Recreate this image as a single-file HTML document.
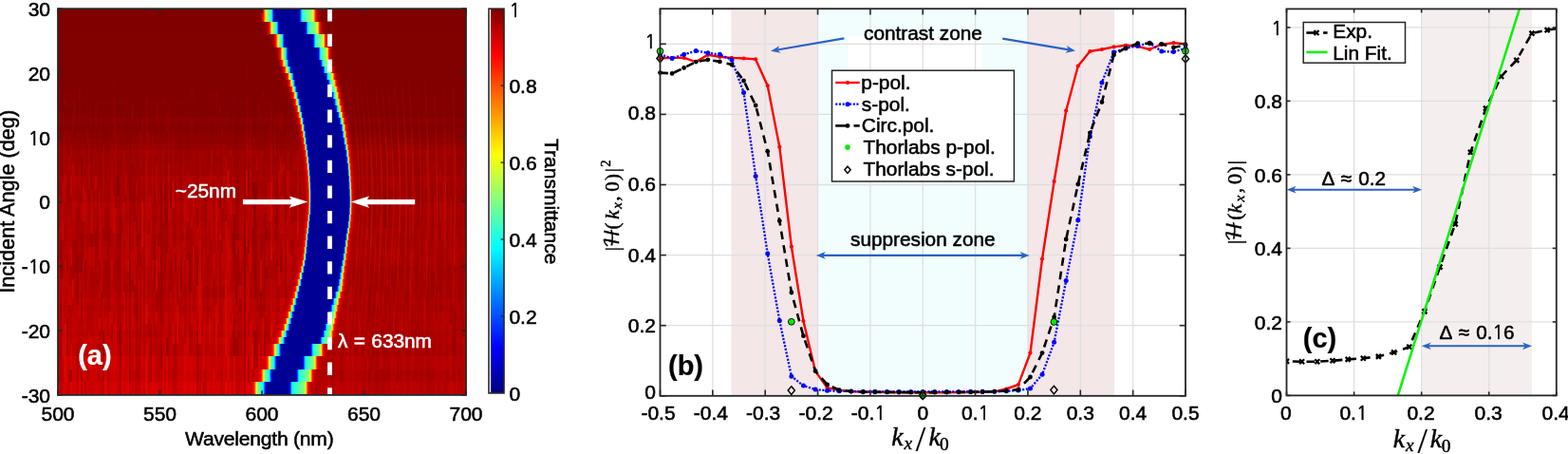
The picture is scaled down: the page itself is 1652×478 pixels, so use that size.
<!DOCTYPE html>
<html><head><meta charset="utf-8"><title>Figure</title><style>html,body{margin:0;padding:0;background:#fff;width:1652px;height:478px;overflow:hidden}svg{display:block}</style></head><body>
<svg width="1652" height="478" viewBox="0 0 1652 478" font-family='"Liberation Sans", Arial, Helvetica, sans-serif'><defs><linearGradient id="fmg" x1="0" x2="0" y1="0" y2="1"><stop offset="0.12" stop-color="#fff" stop-opacity="0"/><stop offset="0.3" stop-color="#fff" stop-opacity="0.35"/><stop offset="0.38" stop-color="#fff" stop-opacity="0.85"/><stop offset="0.6" stop-color="#fff" stop-opacity="0.7"/><stop offset="0.85" stop-color="#fff" stop-opacity="0.25"/><stop offset="1" stop-color="#fff" stop-opacity="0.1"/></linearGradient><mask id="fringeMask" maskUnits="userSpaceOnUse" x="61" y="9.2" width="430" height="406.7"><rect x="61" y="9.2" width="430" height="406.7" fill="url(#fmg)"/></mask><linearGradient id="r0" x1="0" x2="1" y1="0" y2="0"><stop offset="0%" stop-color="#800000"/><stop offset="4.3%" stop-color="#880000"/><stop offset="6.09%" stop-color="#980000"/><stop offset="7.89%" stop-color="#b90000"/><stop offset="9.68%" stop-color="#ec0000"/><stop offset="10.04%" stop-color="#f90000"/><stop offset="10.39%" stop-color="#ff0900"/><stop offset="11.11%" stop-color="#ff2d00"/><stop offset="11.83%" stop-color="#ff6100"/><stop offset="12.54%" stop-color="#ffa300"/><stop offset="12.9%" stop-color="#ffc800"/><stop offset="13.26%" stop-color="#ffc500"/><stop offset="13.98%" stop-color="#fdff02"/><stop offset="14.7%" stop-color="#d0ff2f"/><stop offset="15.41%" stop-color="#b0ff4f"/><stop offset="16.49%" stop-color="#92ff6d"/><stop offset="19.35%" stop-color="#64ff9b"/><stop offset="21.15%" stop-color="#45ffba"/><stop offset="22.22%" stop-color="#25ffda"/><stop offset="22.94%" stop-color="#02fffd"/><stop offset="23.3%" stop-color="#00eaff"/><stop offset="24.01%" stop-color="#00adff"/><stop offset="24.73%" stop-color="#0063ff"/><stop offset="25.09%" stop-color="#005eff"/><stop offset="25.81%" stop-color="#0012ff"/><stop offset="26.16%" stop-color="#0000f3"/><stop offset="26.52%" stop-color="#0000da"/><stop offset="27.24%" stop-color="#0000b9"/><stop offset="27.96%" stop-color="#0000a7"/><stop offset="29.39%" stop-color="#000098"/><stop offset="35.48%" stop-color="#000094"/><stop offset="62.01%" stop-color="#000097"/><stop offset="63.44%" stop-color="#0000a0"/><stop offset="64.16%" stop-color="#0000ad"/><stop offset="64.87%" stop-color="#0000c4"/><stop offset="65.23%" stop-color="#0000d6"/><stop offset="65.59%" stop-color="#0000ed"/><stop offset="65.95%" stop-color="#000bff"/><stop offset="66.67%" stop-color="#0056ff"/><stop offset="67.03%" stop-color="#005cff"/><stop offset="67.74%" stop-color="#00a4ff"/><stop offset="68.46%" stop-color="#00dfff"/><stop offset="68.82%" stop-color="#00f5ff"/><stop offset="69.18%" stop-color="#09fff6"/><stop offset="69.89%" stop-color="#22ffdd"/><stop offset="70.97%" stop-color="#38ffc7"/><stop offset="73.84%" stop-color="#54ffab"/><stop offset="82.44%" stop-color="#95ff6a"/><stop offset="83.87%" stop-color="#a9ff56"/><stop offset="84.95%" stop-color="#c8ff37"/><stop offset="85.66%" stop-color="#eaff15"/><stop offset="86.02%" stop-color="#fffd00"/><stop offset="86.74%" stop-color="#ffc400"/><stop offset="87.1%" stop-color="#ffc800"/><stop offset="87.81%" stop-color="#ff8000"/><stop offset="88.53%" stop-color="#ff4500"/><stop offset="89.25%" stop-color="#ff1900"/><stop offset="89.61%" stop-color="#ff0900"/><stop offset="89.96%" stop-color="#f90000"/><stop offset="91.4%" stop-color="#cb0000"/><stop offset="93.19%" stop-color="#a30000"/><stop offset="94.98%" stop-color="#8d0000"/><stop offset="97.85%" stop-color="#820000"/><stop offset="100%" stop-color="#800000"/></linearGradient><linearGradient id="r1" x1="0" x2="1" y1="0" y2="0"><stop offset="0%" stop-color="#810000"/><stop offset="4.43%" stop-color="#880000"/><stop offset="6.27%" stop-color="#970000"/><stop offset="8.12%" stop-color="#b70000"/><stop offset="9.96%" stop-color="#ea0000"/><stop offset="10.33%" stop-color="#f60000"/><stop offset="10.7%" stop-color="#ff0600"/><stop offset="11.44%" stop-color="#ff2a00"/><stop offset="12.18%" stop-color="#ff5e00"/><stop offset="12.91%" stop-color="#ffa200"/><stop offset="13.28%" stop-color="#ffc800"/><stop offset="13.65%" stop-color="#ffc600"/><stop offset="14.02%" stop-color="#ffe600"/><stop offset="14.39%" stop-color="#faff05"/><stop offset="15.13%" stop-color="#cbff34"/><stop offset="15.87%" stop-color="#aaff55"/><stop offset="16.97%" stop-color="#8aff75"/><stop offset="20.29%" stop-color="#49ffb6"/><stop offset="21.4%" stop-color="#26ffd9"/><stop offset="22.14%" stop-color="#00feff"/><stop offset="22.88%" stop-color="#00c6ff"/><stop offset="23.61%" stop-color="#007dff"/><stop offset="23.98%" stop-color="#0078ff"/><stop offset="24.72%" stop-color="#0026ff"/><stop offset="25.09%" stop-color="#0004ff"/><stop offset="25.83%" stop-color="#0000d0"/><stop offset="26.56%" stop-color="#0000b3"/><stop offset="27.67%" stop-color="#00009f"/><stop offset="29.89%" stop-color="#000095"/><stop offset="63.46%" stop-color="#000096"/><stop offset="65.31%" stop-color="#0000a1"/><stop offset="66.04%" stop-color="#0000ae"/><stop offset="66.78%" stop-color="#0000c8"/><stop offset="67.15%" stop-color="#0000dc"/><stop offset="67.52%" stop-color="#0000f6"/><stop offset="67.89%" stop-color="#0016ff"/><stop offset="68.63%" stop-color="#0065ff"/><stop offset="68.99%" stop-color="#006bff"/><stop offset="69.73%" stop-color="#00b4ff"/><stop offset="70.47%" stop-color="#00ecff"/><stop offset="70.84%" stop-color="#02fffd"/><stop offset="71.58%" stop-color="#20ffdf"/><stop offset="72.68%" stop-color="#39ffc6"/><stop offset="75.27%" stop-color="#56ffa9"/><stop offset="82.28%" stop-color="#93ff6c"/><stop offset="83.75%" stop-color="#adff52"/><stop offset="84.49%" stop-color="#c3ff3c"/><stop offset="85.23%" stop-color="#e6ff19"/><stop offset="85.6%" stop-color="#feff01"/><stop offset="86.34%" stop-color="#ffc600"/><stop offset="86.7%" stop-color="#ffa500"/><stop offset="87.07%" stop-color="#ffa400"/><stop offset="87.81%" stop-color="#ff5f00"/><stop offset="88.55%" stop-color="#ff2b00"/><stop offset="89.29%" stop-color="#ff0600"/><stop offset="89.66%" stop-color="#f70000"/><stop offset="91.13%" stop-color="#c90000"/><stop offset="92.98%" stop-color="#a20000"/><stop offset="94.82%" stop-color="#8d0000"/><stop offset="98.14%" stop-color="#820000"/><stop offset="99.99%" stop-color="#810000"/></linearGradient><linearGradient id="r2" x1="0" x2="1" y1="0" y2="0"><stop offset="0%" stop-color="#810000"/><stop offset="4.46%" stop-color="#880000"/><stop offset="6.7%" stop-color="#9b0000"/><stop offset="8.56%" stop-color="#be0000"/><stop offset="10.05%" stop-color="#e70000"/><stop offset="10.79%" stop-color="#ff0300"/><stop offset="11.53%" stop-color="#ff2700"/><stop offset="12.28%" stop-color="#ff5b00"/><stop offset="13.02%" stop-color="#ffa100"/><stop offset="13.39%" stop-color="#ffc800"/><stop offset="13.77%" stop-color="#ffc700"/><stop offset="14.14%" stop-color="#ffe900"/><stop offset="14.51%" stop-color="#f7ff08"/><stop offset="15.25%" stop-color="#c5ff3a"/><stop offset="16%" stop-color="#a3ff5c"/><stop offset="17.11%" stop-color="#80ff7f"/><stop offset="19.35%" stop-color="#48ffb7"/><stop offset="20.09%" stop-color="#2dffd2"/><stop offset="20.83%" stop-color="#05fffa"/><stop offset="21.21%" stop-color="#00e9ff"/><stop offset="21.95%" stop-color="#00a6ff"/><stop offset="22.32%" stop-color="#007eff"/><stop offset="22.7%" stop-color="#0078ff"/><stop offset="23.44%" stop-color="#0024ff"/><stop offset="23.81%" stop-color="#0001ff"/><stop offset="24.56%" stop-color="#0000ce"/><stop offset="25.3%" stop-color="#0000b1"/><stop offset="26.42%" stop-color="#00009e"/><stop offset="28.65%" stop-color="#000095"/><stop offset="65.85%" stop-color="#000096"/><stop offset="67.34%" stop-color="#00009d"/><stop offset="68.46%" stop-color="#0000b0"/><stop offset="69.2%" stop-color="#0000cc"/><stop offset="69.57%" stop-color="#0000e1"/><stop offset="69.95%" stop-color="#0000fd"/><stop offset="70.32%" stop-color="#0020ff"/><stop offset="71.06%" stop-color="#0073ff"/><stop offset="71.43%" stop-color="#0079ff"/><stop offset="72.18%" stop-color="#00c1ff"/><stop offset="72.55%" stop-color="#00dfff"/><stop offset="72.92%" stop-color="#00f8ff"/><stop offset="73.29%" stop-color="#0dfff2"/><stop offset="74.04%" stop-color="#28ffd7"/><stop offset="75.15%" stop-color="#41ffbe"/><stop offset="78.5%" stop-color="#67ff98"/><stop offset="82.22%" stop-color="#8eff71"/><stop offset="83.71%" stop-color="#aaff55"/><stop offset="84.46%" stop-color="#c3ff3c"/><stop offset="85.2%" stop-color="#e9ff16"/><stop offset="85.57%" stop-color="#fffc00"/><stop offset="86.32%" stop-color="#ffbe00"/><stop offset="86.69%" stop-color="#ffbf00"/><stop offset="87.43%" stop-color="#ff7500"/><stop offset="88.18%" stop-color="#ff3900"/><stop offset="88.92%" stop-color="#ff1000"/><stop offset="89.29%" stop-color="#ff0000"/><stop offset="90.78%" stop-color="#cf0000"/><stop offset="92.64%" stop-color="#a50000"/><stop offset="94.5%" stop-color="#8f0000"/><stop offset="97.48%" stop-color="#830000"/><stop offset="99.71%" stop-color="#810000"/></linearGradient><linearGradient id="r3" x1="0" x2="1" y1="0" y2="0"><stop offset="0%" stop-color="#810000"/><stop offset="4.51%" stop-color="#880000"/><stop offset="6.77%" stop-color="#9a0000"/><stop offset="8.65%" stop-color="#bc0000"/><stop offset="10.16%" stop-color="#e50000"/><stop offset="10.91%" stop-color="#ff0000"/><stop offset="11.66%" stop-color="#ff2400"/><stop offset="12.41%" stop-color="#ff5900"/><stop offset="13.17%" stop-color="#ffa000"/><stop offset="13.54%" stop-color="#ffc700"/><stop offset="13.92%" stop-color="#ffc800"/><stop offset="14.3%" stop-color="#ffeb00"/><stop offset="14.67%" stop-color="#f2ff0d"/><stop offset="15.42%" stop-color="#beff41"/><stop offset="16.18%" stop-color="#99ff66"/><stop offset="18.81%" stop-color="#3cffc3"/><stop offset="19.56%" stop-color="#15ffea"/><stop offset="19.94%" stop-color="#00faff"/><stop offset="20.31%" stop-color="#00dbff"/><stop offset="21.07%" stop-color="#008fff"/><stop offset="21.44%" stop-color="#0065ff"/><stop offset="21.82%" stop-color="#005cff"/><stop offset="22.2%" stop-color="#0031ff"/><stop offset="22.57%" stop-color="#000bff"/><stop offset="22.95%" stop-color="#0000eb"/><stop offset="23.32%" stop-color="#0000d3"/><stop offset="24.08%" stop-color="#0000b3"/><stop offset="24.83%" stop-color="#0000a3"/><stop offset="26.33%" stop-color="#000097"/><stop offset="43.26%" stop-color="#000094"/><stop offset="68.09%" stop-color="#000096"/><stop offset="69.6%" stop-color="#00009f"/><stop offset="70.35%" stop-color="#0000ab"/><stop offset="71.1%" stop-color="#0000c3"/><stop offset="71.48%" stop-color="#0000d7"/><stop offset="71.85%" stop-color="#0000f1"/><stop offset="72.23%" stop-color="#0012ff"/><stop offset="72.98%" stop-color="#0064ff"/><stop offset="73.36%" stop-color="#006cff"/><stop offset="74.11%" stop-color="#00b9ff"/><stop offset="74.49%" stop-color="#00daff"/><stop offset="74.86%" stop-color="#00f5ff"/><stop offset="75.24%" stop-color="#0bfff4"/><stop offset="75.99%" stop-color="#2affd5"/><stop offset="77.12%" stop-color="#46ffb9"/><stop offset="80.51%" stop-color="#73ff8c"/><stop offset="82.76%" stop-color="#93ff6c"/><stop offset="83.89%" stop-color="#afff50"/><stop offset="84.64%" stop-color="#ceff31"/><stop offset="85.4%" stop-color="#feff01"/><stop offset="86.15%" stop-color="#ffc000"/><stop offset="86.52%" stop-color="#ffc000"/><stop offset="87.28%" stop-color="#ff7400"/><stop offset="88.03%" stop-color="#ff3700"/><stop offset="88.78%" stop-color="#ff0d00"/><stop offset="89.16%" stop-color="#fd0000"/><stop offset="90.66%" stop-color="#cd0000"/><stop offset="92.54%" stop-color="#a40000"/><stop offset="94.42%" stop-color="#8e0000"/><stop offset="97.43%" stop-color="#830000"/><stop offset="99.69%" stop-color="#820000"/></linearGradient><linearGradient id="r4" x1="0" x2="1" y1="0" y2="0"><stop offset="0%" stop-color="#820000"/><stop offset="4.55%" stop-color="#880000"/><stop offset="6.82%" stop-color="#9a0000"/><stop offset="8.71%" stop-color="#bb0000"/><stop offset="10.23%" stop-color="#e30000"/><stop offset="10.98%" stop-color="#fd0000"/><stop offset="11.36%" stop-color="#ff0e00"/><stop offset="12.12%" stop-color="#ff3a00"/><stop offset="12.5%" stop-color="#ff5700"/><stop offset="13.26%" stop-color="#ff9f00"/><stop offset="13.64%" stop-color="#ffc700"/><stop offset="14.01%" stop-color="#ffc900"/><stop offset="14.39%" stop-color="#ffee00"/><stop offset="14.77%" stop-color="#eeff11"/><stop offset="15.53%" stop-color="#b8ff47"/><stop offset="16.29%" stop-color="#90ff6f"/><stop offset="18.18%" stop-color="#3dffc2"/><stop offset="18.94%" stop-color="#10ffef"/><stop offset="19.32%" stop-color="#00f1ff"/><stop offset="20.07%" stop-color="#00a7ff"/><stop offset="20.45%" stop-color="#007cff"/><stop offset="20.83%" stop-color="#0073ff"/><stop offset="21.59%" stop-color="#001cff"/><stop offset="21.97%" stop-color="#0000f8"/><stop offset="22.35%" stop-color="#0000dd"/><stop offset="22.73%" stop-color="#0000c7"/><stop offset="23.48%" stop-color="#0000ad"/><stop offset="24.62%" stop-color="#00009c"/><stop offset="27.27%" stop-color="#000094"/><stop offset="69.69%" stop-color="#000096"/><stop offset="71.21%" stop-color="#0000a0"/><stop offset="71.96%" stop-color="#0000ae"/><stop offset="72.72%" stop-color="#0000ca"/><stop offset="73.1%" stop-color="#0000e1"/><stop offset="73.48%" stop-color="#0000fe"/><stop offset="73.86%" stop-color="#0022ff"/><stop offset="74.61%" stop-color="#007aff"/><stop offset="74.99%" stop-color="#0081ff"/><stop offset="75.75%" stop-color="#00cdff"/><stop offset="76.13%" stop-color="#00ebff"/><stop offset="76.51%" stop-color="#05fffa"/><stop offset="77.27%" stop-color="#29ffd6"/><stop offset="78.4%" stop-color="#48ffb7"/><stop offset="82.57%" stop-color="#8bff74"/><stop offset="83.7%" stop-color="#a8ff57"/><stop offset="84.46%" stop-color="#c7ff38"/><stop offset="85.22%" stop-color="#f6ff09"/><stop offset="85.6%" stop-color="#ffea00"/><stop offset="86.36%" stop-color="#ffa400"/><stop offset="86.73%" stop-color="#ffa000"/><stop offset="87.49%" stop-color="#ff5700"/><stop offset="88.25%" stop-color="#ff2200"/><stop offset="89.01%" stop-color="#fd0000"/><stop offset="90.52%" stop-color="#ce0000"/><stop offset="92.42%" stop-color="#a50000"/><stop offset="94.31%" stop-color="#8f0000"/><stop offset="97.34%" stop-color="#840000"/><stop offset="99.99%" stop-color="#820000"/></linearGradient><linearGradient id="r5" x1="0" x2="1" y1="0" y2="0"><stop offset="0%" stop-color="#820000"/><stop offset="4.6%" stop-color="#880000"/><stop offset="6.9%" stop-color="#990000"/><stop offset="8.82%" stop-color="#ba0000"/><stop offset="10.36%" stop-color="#e20000"/><stop offset="11.12%" stop-color="#fc0000"/><stop offset="11.51%" stop-color="#ff0d00"/><stop offset="12.27%" stop-color="#ff3800"/><stop offset="12.66%" stop-color="#ff5500"/><stop offset="13.42%" stop-color="#ff9e00"/><stop offset="13.81%" stop-color="#ffc700"/><stop offset="14.19%" stop-color="#ffca00"/><stop offset="14.58%" stop-color="#fff000"/><stop offset="14.96%" stop-color="#ebff14"/><stop offset="15.73%" stop-color="#b2ff4d"/><stop offset="16.88%" stop-color="#74ff8b"/><stop offset="18.03%" stop-color="#3affc5"/><stop offset="18.79%" stop-color="#05fffa"/><stop offset="19.18%" stop-color="#00e2ff"/><stop offset="19.95%" stop-color="#0091ff"/><stop offset="20.33%" stop-color="#0064ff"/><stop offset="20.71%" stop-color="#0059ff"/><stop offset="21.1%" stop-color="#002dff"/><stop offset="21.48%" stop-color="#0007ff"/><stop offset="21.86%" stop-color="#0000e7"/><stop offset="22.25%" stop-color="#0000cf"/><stop offset="22.63%" stop-color="#0000bd"/><stop offset="23.4%" stop-color="#0000a7"/><stop offset="24.55%" stop-color="#00009a"/><stop offset="28.38%" stop-color="#000094"/><stop offset="70.19%" stop-color="#000096"/><stop offset="71.73%" stop-color="#00009e"/><stop offset="72.49%" stop-color="#0000aa"/><stop offset="73.26%" stop-color="#0000c2"/><stop offset="73.64%" stop-color="#0000d6"/><stop offset="74.03%" stop-color="#0000f1"/><stop offset="74.41%" stop-color="#0013ff"/><stop offset="75.18%" stop-color="#0069ff"/><stop offset="75.56%" stop-color="#0072ff"/><stop offset="76.33%" stop-color="#00c2ff"/><stop offset="76.71%" stop-color="#00e3ff"/><stop offset="77.1%" stop-color="#00feff"/><stop offset="77.86%" stop-color="#27ffd8"/><stop offset="79.01%" stop-color="#4affb5"/><stop offset="82.85%" stop-color="#91ff6e"/><stop offset="83.62%" stop-color="#a8ff57"/><stop offset="84.38%" stop-color="#caff35"/><stop offset="85.15%" stop-color="#fdff02"/><stop offset="85.53%" stop-color="#ffe100"/><stop offset="85.92%" stop-color="#ffbd00"/><stop offset="86.3%" stop-color="#ffbb00"/><stop offset="87.07%" stop-color="#ff6d00"/><stop offset="87.45%" stop-color="#ff4c00"/><stop offset="88.22%" stop-color="#ff1a00"/><stop offset="88.6%" stop-color="#ff0800"/><stop offset="88.99%" stop-color="#f70000"/><stop offset="90.52%" stop-color="#ca0000"/><stop offset="92.44%" stop-color="#a20000"/><stop offset="94.36%" stop-color="#8e0000"/><stop offset="97.81%" stop-color="#830000"/><stop offset="99.73%" stop-color="#820000"/></linearGradient><linearGradient id="r6" x1="0" x2="1" y1="0" y2="0"><stop offset="0%" stop-color="#820000"/><stop offset="4.65%" stop-color="#890000"/><stop offset="6.98%" stop-color="#990000"/><stop offset="8.92%" stop-color="#b90000"/><stop offset="10.47%" stop-color="#e10000"/><stop offset="11.24%" stop-color="#fa0000"/><stop offset="11.63%" stop-color="#ff0b00"/><stop offset="12.41%" stop-color="#ff3700"/><stop offset="12.79%" stop-color="#ff5400"/><stop offset="13.57%" stop-color="#ff9e00"/><stop offset="13.96%" stop-color="#ffc800"/><stop offset="14.35%" stop-color="#ffcc00"/><stop offset="14.73%" stop-color="#fff300"/><stop offset="15.12%" stop-color="#e7ff18"/><stop offset="15.9%" stop-color="#abff54"/><stop offset="17.83%" stop-color="#37ffc8"/><stop offset="18.61%" stop-color="#00faff"/><stop offset="19.39%" stop-color="#00abff"/><stop offset="19.77%" stop-color="#007eff"/><stop offset="20.16%" stop-color="#0073ff"/><stop offset="20.94%" stop-color="#001aff"/><stop offset="21.32%" stop-color="#0000f6"/><stop offset="21.71%" stop-color="#0000da"/><stop offset="22.1%" stop-color="#0000c5"/><stop offset="22.88%" stop-color="#0000ab"/><stop offset="24.04%" stop-color="#00009b"/><stop offset="27.14%" stop-color="#000094"/><stop offset="70.95%" stop-color="#000096"/><stop offset="72.5%" stop-color="#00009f"/><stop offset="73.28%" stop-color="#0000ab"/><stop offset="74.05%" stop-color="#0000c6"/><stop offset="74.44%" stop-color="#0000db"/><stop offset="74.83%" stop-color="#0000f7"/><stop offset="75.22%" stop-color="#001cff"/><stop offset="75.99%" stop-color="#0075ff"/><stop offset="76.38%" stop-color="#007eff"/><stop offset="77.15%" stop-color="#00cdff"/><stop offset="77.54%" stop-color="#00eeff"/><stop offset="77.93%" stop-color="#09fff6"/><stop offset="78.71%" stop-color="#2fffd0"/><stop offset="79.87%" stop-color="#52ffad"/><stop offset="82.58%" stop-color="#8aff75"/><stop offset="83.75%" stop-color="#b0ff4f"/><stop offset="84.52%" stop-color="#d9ff26"/><stop offset="84.91%" stop-color="#f5ff0a"/><stop offset="85.3%" stop-color="#ffe900"/><stop offset="85.68%" stop-color="#ffc600"/><stop offset="86.07%" stop-color="#ffc400"/><stop offset="86.85%" stop-color="#ff7300"/><stop offset="87.24%" stop-color="#ff5100"/><stop offset="87.62%" stop-color="#ff3500"/><stop offset="88.4%" stop-color="#ff0a00"/><stop offset="88.79%" stop-color="#f90000"/><stop offset="90.34%" stop-color="#cb0000"/><stop offset="92.28%" stop-color="#a30000"/><stop offset="94.21%" stop-color="#8f0000"/><stop offset="97.7%" stop-color="#840000"/><stop offset="99.64%" stop-color="#820000"/></linearGradient><linearGradient id="r7" x1="0" x2="1" y1="0" y2="0"><stop offset="0%" stop-color="#830000"/><stop offset="5.06%" stop-color="#8b0000"/><stop offset="7.01%" stop-color="#9a0000"/><stop offset="8.95%" stop-color="#b90000"/><stop offset="10.51%" stop-color="#e00000"/><stop offset="11.29%" stop-color="#f90000"/><stop offset="11.68%" stop-color="#ff0a00"/><stop offset="12.46%" stop-color="#ff3500"/><stop offset="12.85%" stop-color="#ff5300"/><stop offset="13.63%" stop-color="#ff9d00"/><stop offset="14.02%" stop-color="#ffc800"/><stop offset="14.41%" stop-color="#ffce00"/><stop offset="14.79%" stop-color="#fff600"/><stop offset="15.18%" stop-color="#e2ff1d"/><stop offset="15.96%" stop-color="#a2ff5d"/><stop offset="17.52%" stop-color="#36ffc9"/><stop offset="17.91%" stop-color="#17ffe8"/><stop offset="18.3%" stop-color="#00f2ff"/><stop offset="19.08%" stop-color="#009cff"/><stop offset="19.47%" stop-color="#006dff"/><stop offset="19.86%" stop-color="#0061ff"/><stop offset="20.25%" stop-color="#0033ff"/><stop offset="20.63%" stop-color="#000bff"/><stop offset="21.02%" stop-color="#0000e9"/><stop offset="21.41%" stop-color="#0000d0"/><stop offset="21.8%" stop-color="#0000bd"/><stop offset="22.58%" stop-color="#0000a7"/><stop offset="23.75%" stop-color="#00009a"/><stop offset="27.64%" stop-color="#000094"/><stop offset="72.03%" stop-color="#000096"/><stop offset="73.58%" stop-color="#0000a1"/><stop offset="74.36%" stop-color="#0000b2"/><stop offset="74.75%" stop-color="#0000bf"/><stop offset="75.14%" stop-color="#0000d3"/><stop offset="75.53%" stop-color="#0000ed"/><stop offset="75.92%" stop-color="#000fff"/><stop offset="76.31%" stop-color="#0038ff"/><stop offset="76.7%" stop-color="#0066ff"/><stop offset="77.09%" stop-color="#0071ff"/><stop offset="77.87%" stop-color="#00c4ff"/><stop offset="78.26%" stop-color="#00e7ff"/><stop offset="78.64%" stop-color="#05fffa"/><stop offset="79.42%" stop-color="#2fffd0"/><stop offset="80.59%" stop-color="#55ffaa"/><stop offset="82.93%" stop-color="#90ff6f"/><stop offset="83.71%" stop-color="#adff52"/><stop offset="84.48%" stop-color="#d8ff27"/><stop offset="84.87%" stop-color="#f4ff0b"/><stop offset="85.26%" stop-color="#ffe800"/><stop offset="85.65%" stop-color="#ffc400"/><stop offset="86.04%" stop-color="#ffc000"/><stop offset="86.82%" stop-color="#ff6f00"/><stop offset="87.21%" stop-color="#ff4d00"/><stop offset="87.6%" stop-color="#ff3100"/><stop offset="88.38%" stop-color="#ff0700"/><stop offset="88.77%" stop-color="#f70000"/><stop offset="90.32%" stop-color="#c90000"/><stop offset="92.27%" stop-color="#a30000"/><stop offset="94.22%" stop-color="#8f0000"/><stop offset="97.72%" stop-color="#840000"/><stop offset="99.67%" stop-color="#830000"/></linearGradient><linearGradient id="r8" x1="0" x2="1" y1="0" y2="0"><stop offset="0%" stop-color="#840000"/><stop offset="5.08%" stop-color="#8c0000"/><stop offset="7.42%" stop-color="#9f0000"/><stop offset="9.38%" stop-color="#c10000"/><stop offset="10.94%" stop-color="#eb0000"/><stop offset="11.33%" stop-color="#f80000"/><stop offset="11.72%" stop-color="#ff0900"/><stop offset="12.51%" stop-color="#ff3400"/><stop offset="12.9%" stop-color="#ff5100"/><stop offset="13.29%" stop-color="#ff7500"/><stop offset="14.07%" stop-color="#ffc900"/><stop offset="14.46%" stop-color="#ffd000"/><stop offset="14.85%" stop-color="#fffa00"/><stop offset="15.63%" stop-color="#b8ff47"/><stop offset="17.19%" stop-color="#39ffc6"/><stop offset="17.59%" stop-color="#16ffe9"/><stop offset="17.98%" stop-color="#00edff"/><stop offset="18.76%" stop-color="#0091ff"/><stop offset="19.15%" stop-color="#0061ff"/><stop offset="19.54%" stop-color="#0053ff"/><stop offset="19.93%" stop-color="#0026ff"/><stop offset="20.32%" stop-color="#0000ff"/><stop offset="20.71%" stop-color="#0000e0"/><stop offset="21.1%" stop-color="#0000c9"/><stop offset="21.88%" stop-color="#0000ac"/><stop offset="23.06%" stop-color="#00009b"/><stop offset="25.79%" stop-color="#000094"/><stop offset="72.69%" stop-color="#000096"/><stop offset="74.25%" stop-color="#00009f"/><stop offset="75.03%" stop-color="#0000ae"/><stop offset="75.42%" stop-color="#0000ba"/><stop offset="75.81%" stop-color="#0000cb"/><stop offset="76.59%" stop-color="#0004ff"/><stop offset="76.98%" stop-color="#002bff"/><stop offset="77.38%" stop-color="#0059ff"/><stop offset="77.77%" stop-color="#0065ff"/><stop offset="78.55%" stop-color="#00bcff"/><stop offset="78.94%" stop-color="#00e1ff"/><stop offset="79.33%" stop-color="#01fffe"/><stop offset="80.11%" stop-color="#2fffd0"/><stop offset="81.28%" stop-color="#5affa5"/><stop offset="83.24%" stop-color="#97ff68"/><stop offset="84.02%" stop-color="#bbff44"/><stop offset="84.8%" stop-color="#f0ff0f"/><stop offset="85.19%" stop-color="#ffec00"/><stop offset="85.58%" stop-color="#ffc600"/><stop offset="85.97%" stop-color="#ffc200"/><stop offset="86.75%" stop-color="#ff7000"/><stop offset="87.14%" stop-color="#ff4d00"/><stop offset="87.54%" stop-color="#ff3100"/><stop offset="88.32%" stop-color="#ff0700"/><stop offset="88.71%" stop-color="#f60000"/><stop offset="90.27%" stop-color="#c90000"/><stop offset="92.23%" stop-color="#a30000"/><stop offset="94.18%" stop-color="#8f0000"/><stop offset="97.7%" stop-color="#850000"/><stop offset="99.65%" stop-color="#840000"/></linearGradient><linearGradient id="r9" x1="0" x2="1" y1="0" y2="0"><stop offset="0%" stop-color="#850000"/><stop offset="5.12%" stop-color="#8c0000"/><stop offset="7.49%" stop-color="#9f0000"/><stop offset="9.46%" stop-color="#c10000"/><stop offset="11.03%" stop-color="#ea0000"/><stop offset="11.43%" stop-color="#f70000"/><stop offset="11.82%" stop-color="#ff0800"/><stop offset="12.61%" stop-color="#ff3300"/><stop offset="13%" stop-color="#ff5000"/><stop offset="13.4%" stop-color="#ff7400"/><stop offset="14.19%" stop-color="#ffca00"/><stop offset="14.58%" stop-color="#ffd300"/><stop offset="14.97%" stop-color="#ffff00"/><stop offset="15.76%" stop-color="#adff52"/><stop offset="17.34%" stop-color="#18ffe7"/><stop offset="17.73%" stop-color="#00ecff"/><stop offset="18.52%" stop-color="#008aff"/><stop offset="18.91%" stop-color="#007bff"/><stop offset="19.7%" stop-color="#001dff"/><stop offset="20.1%" stop-color="#0000f7"/><stop offset="20.49%" stop-color="#0000d9"/><stop offset="20.88%" stop-color="#0000c4"/><stop offset="21.67%" stop-color="#0000aa"/><stop offset="22.85%" stop-color="#00009a"/><stop offset="26.4%" stop-color="#000094"/><stop offset="73.29%" stop-color="#000096"/><stop offset="74.87%" stop-color="#00009f"/><stop offset="75.66%" stop-color="#0000ad"/><stop offset="76.05%" stop-color="#0000b9"/><stop offset="76.45%" stop-color="#0000cb"/><stop offset="77.23%" stop-color="#0004ff"/><stop offset="77.63%" stop-color="#002cff"/><stop offset="78.02%" stop-color="#005aff"/><stop offset="78.42%" stop-color="#0067ff"/><stop offset="79.2%" stop-color="#00c0ff"/><stop offset="79.6%" stop-color="#00e6ff"/><stop offset="79.99%" stop-color="#07fff8"/><stop offset="80.78%" stop-color="#36ffc9"/><stop offset="81.96%" stop-color="#66ff99"/><stop offset="83.14%" stop-color="#91ff6e"/><stop offset="83.93%" stop-color="#b9ff46"/><stop offset="84.72%" stop-color="#f1ff0e"/><stop offset="85.11%" stop-color="#ffe900"/><stop offset="85.51%" stop-color="#ffc200"/><stop offset="85.9%" stop-color="#ffbd00"/><stop offset="86.69%" stop-color="#ff6a00"/><stop offset="87.08%" stop-color="#ff4800"/><stop offset="87.48%" stop-color="#ff2c00"/><stop offset="88.27%" stop-color="#ff0300"/><stop offset="89.84%" stop-color="#d00000"/><stop offset="91.81%" stop-color="#a80000"/><stop offset="93.78%" stop-color="#920000"/><stop offset="96.94%" stop-color="#860000"/><stop offset="99.69%" stop-color="#840000"/></linearGradient><linearGradient id="r10" x1="0" x2="1" y1="0" y2="0"><stop offset="0%" stop-color="#860000"/><stop offset="5.16%" stop-color="#8d0000"/><stop offset="7.55%" stop-color="#9f0000"/><stop offset="9.53%" stop-color="#c00000"/><stop offset="11.12%" stop-color="#e90000"/><stop offset="11.52%" stop-color="#f60000"/><stop offset="11.92%" stop-color="#ff0700"/><stop offset="12.71%" stop-color="#ff3200"/><stop offset="13.11%" stop-color="#ff4f00"/><stop offset="13.5%" stop-color="#ff7400"/><stop offset="14.3%" stop-color="#ffcb00"/><stop offset="14.7%" stop-color="#ffd700"/><stop offset="15.09%" stop-color="#f8ff07"/><stop offset="16.28%" stop-color="#75ff8a"/><stop offset="17.08%" stop-color="#1fffe0"/><stop offset="17.48%" stop-color="#00efff"/><stop offset="18.27%" stop-color="#0087ff"/><stop offset="18.67%" stop-color="#0076ff"/><stop offset="19.06%" stop-color="#0044ff"/><stop offset="19.46%" stop-color="#0017ff"/><stop offset="19.86%" stop-color="#0000f2"/><stop offset="20.26%" stop-color="#0000d5"/><stop offset="20.65%" stop-color="#0000c1"/><stop offset="21.45%" stop-color="#0000a8"/><stop offset="22.64%" stop-color="#000099"/><stop offset="26.61%" stop-color="#000094"/><stop offset="73.88%" stop-color="#000096"/><stop offset="75.46%" stop-color="#00009f"/><stop offset="76.26%" stop-color="#0000ad"/><stop offset="76.66%" stop-color="#0000b9"/><stop offset="77.05%" stop-color="#0000cb"/><stop offset="77.45%" stop-color="#0000e4"/><stop offset="77.85%" stop-color="#0005ff"/><stop offset="78.25%" stop-color="#002eff"/><stop offset="78.64%" stop-color="#005dff"/><stop offset="79.04%" stop-color="#006bff"/><stop offset="79.83%" stop-color="#00c6ff"/><stop offset="80.23%" stop-color="#00edff"/><stop offset="80.63%" stop-color="#0efff1"/><stop offset="81.42%" stop-color="#40ffbf"/><stop offset="83.41%" stop-color="#9cff63"/><stop offset="84.2%" stop-color="#ceff31"/><stop offset="84.6%" stop-color="#eeff11"/><stop offset="85%" stop-color="#ffeb00"/><stop offset="85.39%" stop-color="#ffc300"/><stop offset="85.79%" stop-color="#ffbd00"/><stop offset="86.59%" stop-color="#ff6900"/><stop offset="86.98%" stop-color="#ff4600"/><stop offset="87.38%" stop-color="#ff2a00"/><stop offset="88.17%" stop-color="#ff0200"/><stop offset="89.76%" stop-color="#d00000"/><stop offset="91.75%" stop-color="#a80000"/><stop offset="93.74%" stop-color="#920000"/><stop offset="96.91%" stop-color="#870000"/><stop offset="99.69%" stop-color="#850000"/></linearGradient><linearGradient id="r11" x1="0" x2="1" y1="0" y2="0"><stop offset="0%" stop-color="#830000"/><stop offset="5.19%" stop-color="#8a0000"/><stop offset="7.59%" stop-color="#9c0000"/><stop offset="9.58%" stop-color="#be0000"/><stop offset="11.18%" stop-color="#e70000"/><stop offset="11.98%" stop-color="#ff0500"/><stop offset="12.77%" stop-color="#ff3000"/><stop offset="13.17%" stop-color="#ff4e00"/><stop offset="13.57%" stop-color="#ff7300"/><stop offset="14.37%" stop-color="#ffcd00"/><stop offset="14.77%" stop-color="#fffc00"/><stop offset="15.57%" stop-color="#abff54"/><stop offset="16.77%" stop-color="#3bffc4"/><stop offset="17.17%" stop-color="#11ffee"/><stop offset="17.57%" stop-color="#00e1ff"/><stop offset="18.76%" stop-color="#0043ff"/><stop offset="19.16%" stop-color="#0016ff"/><stop offset="19.56%" stop-color="#0000f0"/><stop offset="19.96%" stop-color="#0000d4"/><stop offset="20.36%" stop-color="#0000bf"/><stop offset="21.16%" stop-color="#0000a7"/><stop offset="22.36%" stop-color="#000099"/><stop offset="26.75%" stop-color="#000094"/><stop offset="74.65%" stop-color="#000096"/><stop offset="76.25%" stop-color="#0000a1"/><stop offset="77.05%" stop-color="#0000b1"/><stop offset="77.45%" stop-color="#0000c0"/><stop offset="77.85%" stop-color="#0000d5"/><stop offset="78.25%" stop-color="#0000f2"/><stop offset="78.65%" stop-color="#0018ff"/><stop offset="79.05%" stop-color="#0045ff"/><stop offset="79.44%" stop-color="#0077ff"/><stop offset="79.84%" stop-color="#0085ff"/><stop offset="80.64%" stop-color="#00e0ff"/><stop offset="81.04%" stop-color="#06fff9"/><stop offset="81.84%" stop-color="#40ffbf"/><stop offset="83.44%" stop-color="#9aff65"/><stop offset="84.23%" stop-color="#d2ff2d"/><stop offset="84.63%" stop-color="#f5ff0a"/><stop offset="85.03%" stop-color="#ffe100"/><stop offset="85.43%" stop-color="#ffb700"/><stop offset="85.83%" stop-color="#ffaf00"/><stop offset="86.63%" stop-color="#ff5c00"/><stop offset="87.03%" stop-color="#ff3b00"/><stop offset="87.43%" stop-color="#ff2100"/><stop offset="87.83%" stop-color="#ff0c00"/><stop offset="88.23%" stop-color="#fa0000"/><stop offset="89.42%" stop-color="#d40000"/><stop offset="91.42%" stop-color="#a90000"/><stop offset="93.42%" stop-color="#910000"/><stop offset="96.61%" stop-color="#840000"/><stop offset="99.8%" stop-color="#820000"/></linearGradient><linearGradient id="r12" x1="0" x2="1" y1="0" y2="0"><stop offset="0%" stop-color="#850000"/><stop offset="5.2%" stop-color="#8c0000"/><stop offset="7.6%" stop-color="#9d0000"/><stop offset="9.6%" stop-color="#be0000"/><stop offset="11.2%" stop-color="#e60000"/><stop offset="12%" stop-color="#ff0400"/><stop offset="12.8%" stop-color="#ff2f00"/><stop offset="13.2%" stop-color="#ff4e00"/><stop offset="13.6%" stop-color="#ff7300"/><stop offset="14.4%" stop-color="#ffd000"/><stop offset="14.8%" stop-color="#fcff03"/><stop offset="15.6%" stop-color="#9fff60"/><stop offset="16.81%" stop-color="#1cffe3"/><stop offset="17.21%" stop-color="#00e9ff"/><stop offset="18.41%" stop-color="#0046ff"/><stop offset="18.81%" stop-color="#0018ff"/><stop offset="19.21%" stop-color="#0000f1"/><stop offset="19.61%" stop-color="#0000d4"/><stop offset="20.01%" stop-color="#0000bf"/><stop offset="20.81%" stop-color="#0000a7"/><stop offset="22.01%" stop-color="#000099"/><stop offset="26.41%" stop-color="#000094"/><stop offset="75.22%" stop-color="#000096"/><stop offset="76.82%" stop-color="#0000a0"/><stop offset="77.62%" stop-color="#0000af"/><stop offset="78.02%" stop-color="#0000bd"/><stop offset="78.42%" stop-color="#0000d2"/><stop offset="78.82%" stop-color="#0000ee"/><stop offset="79.22%" stop-color="#0013ff"/><stop offset="79.62%" stop-color="#0040ff"/><stop offset="80.02%" stop-color="#0073ff"/><stop offset="80.42%" stop-color="#0082ff"/><stop offset="81.22%" stop-color="#00e2ff"/><stop offset="81.62%" stop-color="#0bfff4"/><stop offset="82.42%" stop-color="#4bffb4"/><stop offset="83.63%" stop-color="#9eff61"/><stop offset="84.43%" stop-color="#e0ff1f"/><stop offset="84.83%" stop-color="#fff600"/><stop offset="85.23%" stop-color="#ffcb00"/><stop offset="85.63%" stop-color="#ffc200"/><stop offset="86.43%" stop-color="#ff6b00"/><stop offset="86.83%" stop-color="#ff4700"/><stop offset="87.23%" stop-color="#ff2a00"/><stop offset="88.03%" stop-color="#ff0000"/><stop offset="89.23%" stop-color="#d80000"/><stop offset="91.23%" stop-color="#ac0000"/><stop offset="93.23%" stop-color="#930000"/><stop offset="96.03%" stop-color="#860000"/><stop offset="99.63%" stop-color="#830000"/></linearGradient><linearGradient id="r13" x1="0" x2="1" y1="0" y2="0"><stop offset="0%" stop-color="#8b0000"/><stop offset="5.2%" stop-color="#920000"/><stop offset="7.61%" stop-color="#a20000"/><stop offset="9.61%" stop-color="#c10000"/><stop offset="11.21%" stop-color="#e80000"/><stop offset="12.01%" stop-color="#ff0500"/><stop offset="12.41%" stop-color="#ff1800"/><stop offset="12.81%" stop-color="#ff3000"/><stop offset="13.21%" stop-color="#ff4f00"/><stop offset="13.61%" stop-color="#ff7500"/><stop offset="14.01%" stop-color="#ffa300"/><stop offset="14.41%" stop-color="#ffd500"/><stop offset="14.81%" stop-color="#f4ff0b"/><stop offset="16.42%" stop-color="#2dffd2"/><stop offset="16.82%" stop-color="#00f7ff"/><stop offset="18.02%" stop-color="#004dff"/><stop offset="18.42%" stop-color="#001cff"/><stop offset="18.82%" stop-color="#0000f4"/><stop offset="19.22%" stop-color="#0000d6"/><stop offset="19.62%" stop-color="#0000c0"/><stop offset="20.42%" stop-color="#0000a7"/><stop offset="21.62%" stop-color="#000099"/><stop offset="26.02%" stop-color="#000094"/><stop offset="76.07%" stop-color="#000096"/><stop offset="77.27%" stop-color="#00009d"/><stop offset="78.07%" stop-color="#0000ab"/><stop offset="78.47%" stop-color="#0000b6"/><stop offset="78.87%" stop-color="#0000c8"/><stop offset="79.27%" stop-color="#0000e1"/><stop offset="79.67%" stop-color="#0003ff"/><stop offset="80.07%" stop-color="#002eff"/><stop offset="80.47%" stop-color="#0060ff"/><stop offset="80.87%" stop-color="#0071ff"/><stop offset="81.67%" stop-color="#00d6ff"/><stop offset="82.08%" stop-color="#04fffb"/><stop offset="82.88%" stop-color="#4fffb0"/><stop offset="84.08%" stop-color="#b5ff4a"/><stop offset="84.48%" stop-color="#ddff22"/><stop offset="84.88%" stop-color="#fff600"/><stop offset="85.28%" stop-color="#ffc800"/><stop offset="85.68%" stop-color="#ffbd00"/><stop offset="86.48%" stop-color="#ff6500"/><stop offset="86.88%" stop-color="#ff4200"/><stop offset="87.28%" stop-color="#ff2500"/><stop offset="87.68%" stop-color="#ff0f00"/><stop offset="88.08%" stop-color="#fc0000"/><stop offset="89.28%" stop-color="#d70000"/><stop offset="91.28%" stop-color="#ae0000"/><stop offset="93.29%" stop-color="#970000"/><stop offset="96.49%" stop-color="#8a0000"/><stop offset="99.69%" stop-color="#880000"/></linearGradient><linearGradient id="r14" x1="0" x2="1" y1="0" y2="0"><stop offset="0%" stop-color="#880000"/><stop offset="5.21%" stop-color="#8e0000"/><stop offset="7.61%" stop-color="#9f0000"/><stop offset="9.61%" stop-color="#be0000"/><stop offset="11.21%" stop-color="#e50000"/><stop offset="12.01%" stop-color="#ff0200"/><stop offset="12.41%" stop-color="#ff1500"/><stop offset="12.81%" stop-color="#ff2e00"/><stop offset="13.21%" stop-color="#ff4d00"/><stop offset="13.61%" stop-color="#ff7400"/><stop offset="14.01%" stop-color="#ffa300"/><stop offset="14.41%" stop-color="#ffd800"/><stop offset="14.81%" stop-color="#eeff11"/><stop offset="16.42%" stop-color="#10ffef"/><stop offset="16.82%" stop-color="#00d3ff"/><stop offset="17.62%" stop-color="#005bff"/><stop offset="18.02%" stop-color="#0027ff"/><stop offset="18.42%" stop-color="#0000fb"/><stop offset="18.82%" stop-color="#0000db"/><stop offset="19.22%" stop-color="#0000c3"/><stop offset="19.62%" stop-color="#0000b3"/><stop offset="20.42%" stop-color="#0000a1"/><stop offset="22.02%" stop-color="#000096"/><stop offset="76.47%" stop-color="#000096"/><stop offset="78.08%" stop-color="#0000a0"/><stop offset="78.88%" stop-color="#0000b1"/><stop offset="79.28%" stop-color="#0000c0"/><stop offset="79.68%" stop-color="#0000d6"/><stop offset="80.08%" stop-color="#0000f5"/><stop offset="80.48%" stop-color="#001eff"/><stop offset="80.88%" stop-color="#004eff"/><stop offset="81.28%" stop-color="#0061ff"/><stop offset="82.08%" stop-color="#00cdff"/><stop offset="82.48%" stop-color="#01fffe"/><stop offset="83.28%" stop-color="#58ffa7"/><stop offset="84.48%" stop-color="#d5ff2a"/><stop offset="84.88%" stop-color="#fffa00"/><stop offset="85.28%" stop-color="#ffca00"/><stop offset="85.68%" stop-color="#ffbd00"/><stop offset="86.48%" stop-color="#ff6300"/><stop offset="86.88%" stop-color="#ff3f00"/><stop offset="87.28%" stop-color="#ff2300"/><stop offset="87.68%" stop-color="#ff0d00"/><stop offset="88.09%" stop-color="#fa0000"/><stop offset="89.29%" stop-color="#d50000"/><stop offset="91.29%" stop-color="#ab0000"/><stop offset="93.29%" stop-color="#940000"/><stop offset="96.49%" stop-color="#870000"/><stop offset="99.7%" stop-color="#850000"/></linearGradient><linearGradient id="r15" x1="0" x2="1" y1="0" y2="0"><stop offset="0%" stop-color="#8c0000"/><stop offset="5.24%" stop-color="#920000"/><stop offset="7.65%" stop-color="#a20000"/><stop offset="9.67%" stop-color="#c00000"/><stop offset="11.28%" stop-color="#e50000"/><stop offset="12.08%" stop-color="#ff0200"/><stop offset="12.49%" stop-color="#ff1500"/><stop offset="12.89%" stop-color="#ff2e00"/><stop offset="13.29%" stop-color="#ff4d00"/><stop offset="13.7%" stop-color="#ff7600"/><stop offset="14.1%" stop-color="#ffa700"/><stop offset="14.5%" stop-color="#ffde00"/><stop offset="14.9%" stop-color="#e4ff1b"/><stop offset="16.11%" stop-color="#2effd1"/><stop offset="16.52%" stop-color="#00edff"/><stop offset="17.32%" stop-color="#006eff"/><stop offset="17.72%" stop-color="#0036ff"/><stop offset="18.13%" stop-color="#0007ff"/><stop offset="18.53%" stop-color="#0000e2"/><stop offset="18.93%" stop-color="#0000c8"/><stop offset="19.34%" stop-color="#0000b6"/><stop offset="20.14%" stop-color="#0000a2"/><stop offset="21.75%" stop-color="#000096"/><stop offset="76.94%" stop-color="#000096"/><stop offset="78.55%" stop-color="#0000a1"/><stop offset="79.35%" stop-color="#0000b3"/><stop offset="79.76%" stop-color="#0000c4"/><stop offset="80.16%" stop-color="#0000dc"/><stop offset="80.56%" stop-color="#0000fd"/><stop offset="80.97%" stop-color="#0029ff"/><stop offset="81.77%" stop-color="#0095ff"/><stop offset="82.58%" stop-color="#00ffff"/><stop offset="82.98%" stop-color="#2cffd3"/><stop offset="84.19%" stop-color="#9cff63"/><stop offset="84.59%" stop-color="#c5ff3a"/><stop offset="84.99%" stop-color="#f4ff0b"/><stop offset="85.4%" stop-color="#ffd900"/><stop offset="86.2%" stop-color="#ff7800"/><stop offset="86.61%" stop-color="#ff5000"/><stop offset="87.01%" stop-color="#ff3000"/><stop offset="87.41%" stop-color="#ff1700"/><stop offset="87.81%" stop-color="#ff0300"/><stop offset="89.42%" stop-color="#d10000"/><stop offset="91.44%" stop-color="#ab0000"/><stop offset="93.45%" stop-color="#960000"/><stop offset="97.08%" stop-color="#8b0000"/><stop offset="99.9%" stop-color="#890000"/></linearGradient><linearGradient id="r16" x1="0" x2="1" y1="0" y2="0"><stop offset="0%" stop-color="#920000"/><stop offset="5.64%" stop-color="#990000"/><stop offset="8.06%" stop-color="#aa0000"/><stop offset="10.07%" stop-color="#ca0000"/><stop offset="11.68%" stop-color="#f30000"/><stop offset="12.09%" stop-color="#ff0300"/><stop offset="12.49%" stop-color="#ff1600"/><stop offset="12.89%" stop-color="#ff2e00"/><stop offset="13.3%" stop-color="#ff4f00"/><stop offset="13.7%" stop-color="#ff7800"/><stop offset="14.1%" stop-color="#ffab00"/><stop offset="14.51%" stop-color="#ffe600"/><stop offset="14.91%" stop-color="#d9ff26"/><stop offset="16.12%" stop-color="#11ffee"/><stop offset="16.52%" stop-color="#00cbff"/><stop offset="16.92%" stop-color="#0086ff"/><stop offset="17.33%" stop-color="#004bff"/><stop offset="17.73%" stop-color="#0017ff"/><stop offset="18.13%" stop-color="#0000ed"/><stop offset="18.53%" stop-color="#0000d0"/><stop offset="18.94%" stop-color="#0000bb"/><stop offset="19.74%" stop-color="#0000a4"/><stop offset="20.95%" stop-color="#000098"/><stop offset="27.8%" stop-color="#000094"/><stop offset="77.36%" stop-color="#000096"/><stop offset="78.97%" stop-color="#0000a0"/><stop offset="79.78%" stop-color="#0000b2"/><stop offset="80.18%" stop-color="#0000c2"/><stop offset="80.58%" stop-color="#0000da"/><stop offset="80.99%" stop-color="#0000fb"/><stop offset="81.39%" stop-color="#0027ff"/><stop offset="81.79%" stop-color="#005bff"/><stop offset="82.6%" stop-color="#00cfff"/><stop offset="83%" stop-color="#06fff9"/><stop offset="83.81%" stop-color="#63ff9c"/><stop offset="84.61%" stop-color="#bdff42"/><stop offset="85.02%" stop-color="#efff10"/><stop offset="85.42%" stop-color="#ffda00"/><stop offset="86.23%" stop-color="#ff7600"/><stop offset="86.63%" stop-color="#ff4e00"/><stop offset="87.03%" stop-color="#ff2e00"/><stop offset="87.43%" stop-color="#ff1600"/><stop offset="87.84%" stop-color="#ff0300"/><stop offset="89.45%" stop-color="#d20000"/><stop offset="91.46%" stop-color="#ae0000"/><stop offset="93.48%" stop-color="#9b0000"/><stop offset="97.1%" stop-color="#910000"/><stop offset="99.92%" stop-color="#900000"/></linearGradient><linearGradient id="r17" x1="0" x2="1" y1="0" y2="0"><stop offset="0%" stop-color="#970000"/><stop offset="5.64%" stop-color="#9e0000"/><stop offset="8.05%" stop-color="#ae0000"/><stop offset="10.07%" stop-color="#cc0000"/><stop offset="11.68%" stop-color="#f30000"/><stop offset="12.08%" stop-color="#ff0300"/><stop offset="12.48%" stop-color="#ff1500"/><stop offset="12.88%" stop-color="#ff2e00"/><stop offset="13.29%" stop-color="#ff4f00"/><stop offset="13.69%" stop-color="#ff7a00"/><stop offset="14.09%" stop-color="#ffaf00"/><stop offset="14.5%" stop-color="#ffee00"/><stop offset="14.9%" stop-color="#ccff33"/><stop offset="15.7%" stop-color="#3dffc2"/><stop offset="16.11%" stop-color="#00f3ff"/><stop offset="16.91%" stop-color="#0064ff"/><stop offset="17.31%" stop-color="#002dff"/><stop offset="17.72%" stop-color="#0000fd"/><stop offset="18.12%" stop-color="#0000da"/><stop offset="18.52%" stop-color="#0000c2"/><stop offset="18.92%" stop-color="#0000b1"/><stop offset="19.73%" stop-color="#0000a0"/><stop offset="21.34%" stop-color="#000095"/><stop offset="77.71%" stop-color="#000095"/><stop offset="79.32%" stop-color="#00009e"/><stop offset="80.13%" stop-color="#0000af"/><stop offset="80.53%" stop-color="#0000be"/><stop offset="80.93%" stop-color="#0000d4"/><stop offset="81.33%" stop-color="#0000f4"/><stop offset="81.74%" stop-color="#0020ff"/><stop offset="82.14%" stop-color="#0054ff"/><stop offset="82.95%" stop-color="#00ccff"/><stop offset="83.35%" stop-color="#07fff8"/><stop offset="84.96%" stop-color="#dbff24"/><stop offset="85.36%" stop-color="#ffeb00"/><stop offset="86.17%" stop-color="#ff8100"/><stop offset="86.57%" stop-color="#ff5600"/><stop offset="86.97%" stop-color="#ff3400"/><stop offset="87.37%" stop-color="#ff1a00"/><stop offset="87.78%" stop-color="#ff0700"/><stop offset="88.18%" stop-color="#f60000"/><stop offset="89.39%" stop-color="#d70000"/><stop offset="91.4%" stop-color="#b40000"/><stop offset="93.82%" stop-color="#9f0000"/><stop offset="98.25%" stop-color="#970000"/><stop offset="99.86%" stop-color="#970000"/></linearGradient><linearGradient id="r18" x1="0" x2="1" y1="0" y2="0"><stop offset="0%" stop-color="#a10000"/><stop offset="5.65%" stop-color="#a70000"/><stop offset="8.08%" stop-color="#b60000"/><stop offset="10.1%" stop-color="#d10000"/><stop offset="11.31%" stop-color="#eb0000"/><stop offset="11.71%" stop-color="#f60000"/><stop offset="12.12%" stop-color="#ff0500"/><stop offset="12.52%" stop-color="#ff1800"/><stop offset="12.92%" stop-color="#ff3100"/><stop offset="13.33%" stop-color="#ff5200"/><stop offset="13.73%" stop-color="#ff7e00"/><stop offset="14.13%" stop-color="#ffb600"/><stop offset="14.54%" stop-color="#fff700"/><stop offset="14.94%" stop-color="#beff41"/><stop offset="15.75%" stop-color="#24ffdb"/><stop offset="16.15%" stop-color="#00d6ff"/><stop offset="16.56%" stop-color="#0083ff"/><stop offset="16.96%" stop-color="#0047ff"/><stop offset="17.37%" stop-color="#0014ff"/><stop offset="17.77%" stop-color="#0000ea"/><stop offset="18.17%" stop-color="#0000cc"/><stop offset="18.58%" stop-color="#0000b8"/><stop offset="19.39%" stop-color="#0000a2"/><stop offset="20.6%" stop-color="#000097"/><stop offset="29.89%" stop-color="#000093"/><stop offset="78.35%" stop-color="#000096"/><stop offset="79.56%" stop-color="#00009d"/><stop offset="80.37%" stop-color="#0000ac"/><stop offset="80.77%" stop-color="#0000bb"/><stop offset="81.18%" stop-color="#0000d0"/><stop offset="81.58%" stop-color="#0000ef"/><stop offset="81.98%" stop-color="#001aff"/><stop offset="82.39%" stop-color="#004fff"/><stop offset="83.19%" stop-color="#00ccff"/><stop offset="83.6%" stop-color="#0cfff3"/><stop offset="85.21%" stop-color="#fcff03"/><stop offset="86.02%" stop-color="#ff9000"/><stop offset="86.43%" stop-color="#ff6100"/><stop offset="86.83%" stop-color="#ff3c00"/><stop offset="87.23%" stop-color="#ff2000"/><stop offset="87.64%" stop-color="#ff0c00"/><stop offset="88.04%" stop-color="#fb0000"/><stop offset="89.25%" stop-color="#db0000"/><stop offset="91.27%" stop-color="#ba0000"/><stop offset="93.69%" stop-color="#a70000"/><stop offset="98.54%" stop-color="#9e0000"/><stop offset="99.75%" stop-color="#9e0000"/></linearGradient><linearGradient id="r19" x1="0" x2="1" y1="0" y2="0"><stop offset="0%" stop-color="#a00000"/><stop offset="5.67%" stop-color="#a60000"/><stop offset="8.09%" stop-color="#b50000"/><stop offset="10.12%" stop-color="#d00000"/><stop offset="11.74%" stop-color="#f60000"/><stop offset="12.14%" stop-color="#ff0500"/><stop offset="12.55%" stop-color="#ff1700"/><stop offset="12.95%" stop-color="#ff3000"/><stop offset="13.36%" stop-color="#ff5200"/><stop offset="13.76%" stop-color="#ff8000"/><stop offset="14.17%" stop-color="#ffb900"/><stop offset="14.57%" stop-color="#fffe00"/><stop offset="14.97%" stop-color="#b3ff4c"/><stop offset="15.78%" stop-color="#10ffef"/><stop offset="16.19%" stop-color="#00bfff"/><stop offset="16.59%" stop-color="#0069ff"/><stop offset="17%" stop-color="#002fff"/><stop offset="17.4%" stop-color="#0000ff"/><stop offset="17.81%" stop-color="#0000db"/><stop offset="18.21%" stop-color="#0000c1"/><stop offset="18.62%" stop-color="#0000b1"/><stop offset="19.43%" stop-color="#00009f"/><stop offset="21.05%" stop-color="#000095"/><stop offset="78.51%" stop-color="#000096"/><stop offset="79.73%" stop-color="#00009c"/><stop offset="80.54%" stop-color="#0000aa"/><stop offset="80.94%" stop-color="#0000b7"/><stop offset="81.35%" stop-color="#0000cb"/><stop offset="81.75%" stop-color="#0000e9"/><stop offset="82.16%" stop-color="#0013ff"/><stop offset="82.56%" stop-color="#0048ff"/><stop offset="82.97%" stop-color="#0086ff"/><stop offset="83.37%" stop-color="#00caff"/><stop offset="83.78%" stop-color="#10ffef"/><stop offset="84.99%" stop-color="#d6ff29"/><stop offset="85.39%" stop-color="#ffe700"/><stop offset="85.8%" stop-color="#ffaa00"/><stop offset="86.2%" stop-color="#ff7500"/><stop offset="86.61%" stop-color="#ff4a00"/><stop offset="87.01%" stop-color="#ff2a00"/><stop offset="87.42%" stop-color="#ff1100"/><stop offset="87.82%" stop-color="#fe0000"/><stop offset="89.04%" stop-color="#dc0000"/><stop offset="91.06%" stop-color="#b90000"/><stop offset="93.49%" stop-color="#a40000"/><stop offset="97.94%" stop-color="#9b0000"/><stop offset="99.96%" stop-color="#9a0000"/></linearGradient><linearGradient id="r20" x1="0" x2="1" y1="0" y2="0"><stop offset="0%" stop-color="#a30000"/><stop offset="5.68%" stop-color="#a80000"/><stop offset="8.11%" stop-color="#b70000"/><stop offset="10.14%" stop-color="#d20000"/><stop offset="11.76%" stop-color="#f60000"/><stop offset="12.16%" stop-color="#ff0500"/><stop offset="12.57%" stop-color="#ff1700"/><stop offset="12.97%" stop-color="#ff3000"/><stop offset="13.38%" stop-color="#ff5300"/><stop offset="13.78%" stop-color="#ff8100"/><stop offset="14.19%" stop-color="#ffbd00"/><stop offset="14.6%" stop-color="#f9ff06"/><stop offset="15.81%" stop-color="#00fcff"/><stop offset="16.22%" stop-color="#0092ff"/><stop offset="16.62%" stop-color="#0053ff"/><stop offset="17.03%" stop-color="#001cff"/><stop offset="17.43%" stop-color="#0000ef"/><stop offset="17.84%" stop-color="#0000cf"/><stop offset="18.24%" stop-color="#0000b9"/><stop offset="18.65%" stop-color="#0000ab"/><stop offset="19.46%" stop-color="#00009d"/><stop offset="21.49%" stop-color="#000094"/><stop offset="78.65%" stop-color="#000095"/><stop offset="80.27%" stop-color="#0000a0"/><stop offset="81.08%" stop-color="#0000b4"/><stop offset="81.49%" stop-color="#0000c6"/><stop offset="81.89%" stop-color="#0000e2"/><stop offset="82.3%" stop-color="#000bff"/><stop offset="82.71%" stop-color="#0040ff"/><stop offset="83.11%" stop-color="#0080ff"/><stop offset="83.52%" stop-color="#00c7ff"/><stop offset="83.92%" stop-color="#11ffee"/><stop offset="85.14%" stop-color="#e9ff16"/><stop offset="85.54%" stop-color="#ffd100"/><stop offset="85.95%" stop-color="#ff9400"/><stop offset="86.35%" stop-color="#ff6200"/><stop offset="86.76%" stop-color="#ff3b00"/><stop offset="87.17%" stop-color="#ff1e00"/><stop offset="87.57%" stop-color="#ff0800"/><stop offset="87.98%" stop-color="#f80000"/><stop offset="89.19%" stop-color="#d80000"/><stop offset="91.22%" stop-color="#b80000"/><stop offset="93.65%" stop-color="#a50000"/><stop offset="98.52%" stop-color="#9d0000"/><stop offset="99.73%" stop-color="#9d0000"/></linearGradient><linearGradient id="r21" x1="0" x2="1" y1="0" y2="0"><stop offset="0%" stop-color="#a30000"/><stop offset="5.69%" stop-color="#a80000"/><stop offset="8.13%" stop-color="#b60000"/><stop offset="10.16%" stop-color="#d10000"/><stop offset="11.79%" stop-color="#f50000"/><stop offset="12.19%" stop-color="#ff0400"/><stop offset="12.6%" stop-color="#ff1600"/><stop offset="13.01%" stop-color="#ff2f00"/><stop offset="13.41%" stop-color="#ff5200"/><stop offset="13.82%" stop-color="#ff8200"/><stop offset="14.23%" stop-color="#ffbf00"/><stop offset="14.63%" stop-color="#f4ff0b"/><stop offset="15.44%" stop-color="#46ffb9"/><stop offset="15.85%" stop-color="#00ecff"/><stop offset="16.26%" stop-color="#0080ff"/><stop offset="16.66%" stop-color="#0042ff"/><stop offset="17.07%" stop-color="#000dff"/><stop offset="17.48%" stop-color="#0000e3"/><stop offset="17.88%" stop-color="#0000c6"/><stop offset="18.29%" stop-color="#0000b3"/><stop offset="19.1%" stop-color="#0000a0"/><stop offset="20.73%" stop-color="#000095"/><stop offset="78.85%" stop-color="#000095"/><stop offset="80.47%" stop-color="#0000a0"/><stop offset="81.29%" stop-color="#0000b5"/><stop offset="81.69%" stop-color="#0000c9"/><stop offset="82.1%" stop-color="#0000e7"/><stop offset="82.51%" stop-color="#0012ff"/><stop offset="82.91%" stop-color="#0049ff"/><stop offset="83.32%" stop-color="#0088ff"/><stop offset="83.73%" stop-color="#00daff"/><stop offset="84.13%" stop-color="#29ffd6"/><stop offset="84.95%" stop-color="#c4ff3b"/><stop offset="85.35%" stop-color="#fff000"/><stop offset="85.76%" stop-color="#ffad00"/><stop offset="86.16%" stop-color="#ff7400"/><stop offset="86.57%" stop-color="#ff4800"/><stop offset="86.98%" stop-color="#ff2600"/><stop offset="87.38%" stop-color="#ff0e00"/><stop offset="87.79%" stop-color="#fb0000"/><stop offset="89.01%" stop-color="#da0000"/><stop offset="91.04%" stop-color="#b90000"/><stop offset="93.48%" stop-color="#a50000"/><stop offset="98.36%" stop-color="#9d0000"/><stop offset="99.98%" stop-color="#9c0000"/></linearGradient><linearGradient id="r22" x1="0" x2="1" y1="0" y2="0"><stop offset="0%" stop-color="#ab0000"/><stop offset="6.11%" stop-color="#b20000"/><stop offset="8.55%" stop-color="#c10000"/><stop offset="10.59%" stop-color="#dc0000"/><stop offset="11.81%" stop-color="#f70000"/><stop offset="12.22%" stop-color="#ff0500"/><stop offset="12.63%" stop-color="#ff1700"/><stop offset="13.03%" stop-color="#ff3000"/><stop offset="13.44%" stop-color="#ff5300"/><stop offset="13.85%" stop-color="#ff8400"/><stop offset="14.26%" stop-color="#ffc300"/><stop offset="14.66%" stop-color="#edff12"/><stop offset="15.48%" stop-color="#3affc5"/><stop offset="15.89%" stop-color="#00ddff"/><stop offset="16.29%" stop-color="#0072ff"/><stop offset="16.7%" stop-color="#0034ff"/><stop offset="17.11%" stop-color="#0001ff"/><stop offset="17.51%" stop-color="#0000da"/><stop offset="17.92%" stop-color="#0000c0"/><stop offset="18.33%" stop-color="#0000af"/><stop offset="19.14%" stop-color="#00009e"/><stop offset="20.77%" stop-color="#000095"/><stop offset="79.02%" stop-color="#000095"/><stop offset="80.24%" stop-color="#00009b"/><stop offset="81.06%" stop-color="#0000a9"/><stop offset="81.46%" stop-color="#0000b6"/><stop offset="81.87%" stop-color="#0000cb"/><stop offset="82.28%" stop-color="#0000eb"/><stop offset="82.68%" stop-color="#0019ff"/><stop offset="83.09%" stop-color="#0052ff"/><stop offset="83.5%" stop-color="#0093ff"/><stop offset="83.91%" stop-color="#00edff"/><stop offset="84.31%" stop-color="#41ffbe"/><stop offset="85.13%" stop-color="#e3ff1c"/><stop offset="85.54%" stop-color="#ffd100"/><stop offset="85.94%" stop-color="#ff9000"/><stop offset="86.35%" stop-color="#ff5c00"/><stop offset="86.76%" stop-color="#ff3600"/><stop offset="87.17%" stop-color="#ff1900"/><stop offset="87.57%" stop-color="#ff0500"/><stop offset="87.98%" stop-color="#f50000"/><stop offset="89.2%" stop-color="#d90000"/><stop offset="91.24%" stop-color="#bc0000"/><stop offset="93.68%" stop-color="#ab0000"/><stop offset="99.38%" stop-color="#a40000"/><stop offset="99.79%" stop-color="#a40000"/></linearGradient><linearGradient id="r23" x1="0" x2="1" y1="0" y2="0"><stop offset="0%" stop-color="#a80000"/><stop offset="6.1%" stop-color="#af0000"/><stop offset="8.54%" stop-color="#be0000"/><stop offset="10.58%" stop-color="#da0000"/><stop offset="12.21%" stop-color="#ff0300"/><stop offset="12.61%" stop-color="#ff1500"/><stop offset="13.02%" stop-color="#ff2e00"/><stop offset="13.43%" stop-color="#ff5100"/><stop offset="13.83%" stop-color="#ff8200"/><stop offset="14.24%" stop-color="#ffc300"/><stop offset="14.65%" stop-color="#ecff13"/><stop offset="15.46%" stop-color="#33ffcc"/><stop offset="15.87%" stop-color="#00d4ff"/><stop offset="16.28%" stop-color="#0067ff"/><stop offset="16.68%" stop-color="#002aff"/><stop offset="17.09%" stop-color="#0000f8"/><stop offset="17.5%" stop-color="#0000d4"/><stop offset="17.9%" stop-color="#0000bb"/><stop offset="18.31%" stop-color="#0000ac"/><stop offset="19.12%" stop-color="#00009c"/><stop offset="21.16%" stop-color="#000094"/><stop offset="79.34%" stop-color="#000096"/><stop offset="80.56%" stop-color="#00009d"/><stop offset="81.38%" stop-color="#0000ae"/><stop offset="81.78%" stop-color="#0000be"/><stop offset="82.19%" stop-color="#0000d8"/><stop offset="82.6%" stop-color="#0000fd"/><stop offset="83.01%" stop-color="#0032ff"/><stop offset="83.41%" stop-color="#0070ff"/><stop offset="83.82%" stop-color="#00c9ff"/><stop offset="84.23%" stop-color="#20ffdf"/><stop offset="85.04%" stop-color="#caff35"/><stop offset="85.45%" stop-color="#ffe500"/><stop offset="85.85%" stop-color="#ff9f00"/><stop offset="86.26%" stop-color="#ff6600"/><stop offset="86.67%" stop-color="#ff3c00"/><stop offset="87.07%" stop-color="#ff1d00"/><stop offset="87.48%" stop-color="#ff0700"/><stop offset="87.89%" stop-color="#f60000"/><stop offset="89.11%" stop-color="#d80000"/><stop offset="91.14%" stop-color="#ba0000"/><stop offset="93.58%" stop-color="#a80000"/><stop offset="99.28%" stop-color="#a10000"/><stop offset="99.69%" stop-color="#a10000"/></linearGradient><linearGradient id="r24" x1="0" x2="1" y1="0" y2="0"><stop offset="0%" stop-color="#a80000"/><stop offset="6.1%" stop-color="#ae0000"/><stop offset="8.54%" stop-color="#bd0000"/><stop offset="10.57%" stop-color="#d90000"/><stop offset="11.79%" stop-color="#f30000"/><stop offset="12.2%" stop-color="#ff0100"/><stop offset="12.61%" stop-color="#ff1300"/><stop offset="13.01%" stop-color="#ff2c00"/><stop offset="13.42%" stop-color="#ff4f00"/><stop offset="13.83%" stop-color="#ff8000"/><stop offset="14.23%" stop-color="#ffc200"/><stop offset="14.64%" stop-color="#ebff14"/><stop offset="15.45%" stop-color="#2effd1"/><stop offset="15.86%" stop-color="#00cdff"/><stop offset="16.27%" stop-color="#0061ff"/><stop offset="16.67%" stop-color="#0023ff"/><stop offset="17.08%" stop-color="#0000f2"/><stop offset="17.49%" stop-color="#0000cf"/><stop offset="17.89%" stop-color="#0000b8"/><stop offset="18.3%" stop-color="#0000aa"/><stop offset="19.11%" stop-color="#00009b"/><stop offset="21.55%" stop-color="#000094"/><stop offset="79.29%" stop-color="#000095"/><stop offset="80.51%" stop-color="#00009b"/><stop offset="81.33%" stop-color="#0000a9"/><stop offset="81.73%" stop-color="#0000b7"/><stop offset="82.14%" stop-color="#0000cd"/><stop offset="82.55%" stop-color="#0000ee"/><stop offset="82.95%" stop-color="#001eff"/><stop offset="83.36%" stop-color="#005bff"/><stop offset="83.77%" stop-color="#00b2ff"/><stop offset="84.17%" stop-color="#0afff5"/><stop offset="84.99%" stop-color="#baff45"/><stop offset="85.39%" stop-color="#fff100"/><stop offset="85.8%" stop-color="#ffa800"/><stop offset="86.21%" stop-color="#ff6c00"/><stop offset="86.61%" stop-color="#ff3f00"/><stop offset="87.02%" stop-color="#ff1e00"/><stop offset="87.43%" stop-color="#ff0800"/><stop offset="87.83%" stop-color="#f60000"/><stop offset="89.05%" stop-color="#d70000"/><stop offset="91.09%" stop-color="#b90000"/><stop offset="93.53%" stop-color="#a70000"/><stop offset="98.81%" stop-color="#a00000"/><stop offset="99.63%" stop-color="#9f0000"/></linearGradient><linearGradient id="r25" x1="0" x2="1" y1="0" y2="0"><stop offset="0%" stop-color="#a80000"/><stop offset="6.09%" stop-color="#ae0000"/><stop offset="8.53%" stop-color="#bd0000"/><stop offset="10.56%" stop-color="#d80000"/><stop offset="11.78%" stop-color="#f20000"/><stop offset="12.18%" stop-color="#ff0000"/><stop offset="12.59%" stop-color="#ff1100"/><stop offset="13%" stop-color="#ff2a00"/><stop offset="13.4%" stop-color="#ff4d00"/><stop offset="13.81%" stop-color="#ff7e00"/><stop offset="14.21%" stop-color="#ffc000"/><stop offset="14.62%" stop-color="#ecff13"/><stop offset="15.03%" stop-color="#8eff71"/><stop offset="15.43%" stop-color="#2bffd4"/><stop offset="15.84%" stop-color="#00caff"/><stop offset="16.25%" stop-color="#005dff"/><stop offset="16.65%" stop-color="#001fff"/><stop offset="17.06%" stop-color="#0000ee"/><stop offset="17.46%" stop-color="#0000cc"/><stop offset="17.87%" stop-color="#0000b6"/><stop offset="18.28%" stop-color="#0000a8"/><stop offset="19.09%" stop-color="#00009b"/><stop offset="21.52%" stop-color="#000094"/><stop offset="79.6%" stop-color="#000096"/><stop offset="80.82%" stop-color="#00009d"/><stop offset="81.63%" stop-color="#0000af"/><stop offset="82.04%" stop-color="#0000c1"/><stop offset="82.44%" stop-color="#0000de"/><stop offset="82.85%" stop-color="#0009ff"/><stop offset="83.26%" stop-color="#0041ff"/><stop offset="83.66%" stop-color="#0085ff"/><stop offset="84.07%" stop-color="#00e9ff"/><stop offset="84.48%" stop-color="#44ffbb"/><stop offset="85.29%" stop-color="#f5ff0a"/><stop offset="85.69%" stop-color="#ffbc00"/><stop offset="86.1%" stop-color="#ff7b00"/><stop offset="86.51%" stop-color="#ff4900"/><stop offset="86.91%" stop-color="#ff2500"/><stop offset="87.32%" stop-color="#ff0c00"/><stop offset="87.72%" stop-color="#f90000"/><stop offset="88.94%" stop-color="#d90000"/><stop offset="90.97%" stop-color="#ba0000"/><stop offset="93.41%" stop-color="#a70000"/><stop offset="98.69%" stop-color="#a00000"/><stop offset="99.91%" stop-color="#9f0000"/></linearGradient><linearGradient id="r26" x1="0" x2="1" y1="0" y2="0"><stop offset="0%" stop-color="#b00000"/><stop offset="6.08%" stop-color="#b50000"/><stop offset="8.51%" stop-color="#c30000"/><stop offset="10.54%" stop-color="#dd0000"/><stop offset="12.16%" stop-color="#ff0300"/><stop offset="12.57%" stop-color="#ff1400"/><stop offset="12.97%" stop-color="#ff2c00"/><stop offset="13.38%" stop-color="#ff4f00"/><stop offset="13.78%" stop-color="#ff8000"/><stop offset="14.19%" stop-color="#ffc200"/><stop offset="14.59%" stop-color="#e9ff16"/><stop offset="15.41%" stop-color="#29ffd6"/><stop offset="15.81%" stop-color="#00c8ff"/><stop offset="16.22%" stop-color="#005dff"/><stop offset="16.62%" stop-color="#001fff"/><stop offset="17.03%" stop-color="#0000ee"/><stop offset="17.43%" stop-color="#0000cc"/><stop offset="17.84%" stop-color="#0000b6"/><stop offset="18.24%" stop-color="#0000a8"/><stop offset="19.05%" stop-color="#00009b"/><stop offset="21.49%" stop-color="#000093"/><stop offset="79.46%" stop-color="#000095"/><stop offset="80.68%" stop-color="#00009b"/><stop offset="81.49%" stop-color="#0000aa"/><stop offset="81.89%" stop-color="#0000b8"/><stop offset="82.3%" stop-color="#0000d0"/><stop offset="82.7%" stop-color="#0000f4"/><stop offset="83.11%" stop-color="#0027ff"/><stop offset="83.51%" stop-color="#0066ff"/><stop offset="83.92%" stop-color="#00c1ff"/><stop offset="84.32%" stop-color="#1affe5"/><stop offset="85.14%" stop-color="#cdff32"/><stop offset="85.54%" stop-color="#ffdf00"/><stop offset="85.95%" stop-color="#ff9700"/><stop offset="86.35%" stop-color="#ff5f00"/><stop offset="86.76%" stop-color="#ff3500"/><stop offset="87.16%" stop-color="#ff1800"/><stop offset="87.57%" stop-color="#ff0300"/><stop offset="88.78%" stop-color="#e00000"/><stop offset="90.81%" stop-color="#c10000"/><stop offset="93.24%" stop-color="#af0000"/><stop offset="98.51%" stop-color="#a70000"/><stop offset="99.73%" stop-color="#a70000"/></linearGradient><linearGradient id="r27" x1="0" x2="1" y1="0" y2="0"><stop offset="0%" stop-color="#b00000"/><stop offset="6.09%" stop-color="#b60000"/><stop offset="8.52%" stop-color="#c40000"/><stop offset="10.55%" stop-color="#de0000"/><stop offset="11.77%" stop-color="#f70000"/><stop offset="12.17%" stop-color="#ff0500"/><stop offset="12.58%" stop-color="#ff1600"/><stop offset="12.98%" stop-color="#ff2e00"/><stop offset="13.39%" stop-color="#ff5100"/><stop offset="13.79%" stop-color="#ff8300"/><stop offset="14.2%" stop-color="#ffc400"/><stop offset="14.61%" stop-color="#e9ff16"/><stop offset="15.42%" stop-color="#2cffd3"/><stop offset="15.82%" stop-color="#00ccff"/><stop offset="16.23%" stop-color="#0061ff"/><stop offset="16.63%" stop-color="#0023ff"/><stop offset="17.04%" stop-color="#0000f2"/><stop offset="17.45%" stop-color="#0000cf"/><stop offset="17.85%" stop-color="#0000b8"/><stop offset="18.26%" stop-color="#0000aa"/><stop offset="19.07%" stop-color="#00009c"/><stop offset="21.1%" stop-color="#000094"/><stop offset="79.52%" stop-color="#000095"/><stop offset="80.74%" stop-color="#00009d"/><stop offset="81.55%" stop-color="#0000ae"/><stop offset="81.96%" stop-color="#0000c0"/><stop offset="82.36%" stop-color="#0000db"/><stop offset="82.77%" stop-color="#0003ff"/><stop offset="83.17%" stop-color="#0039ff"/><stop offset="83.58%" stop-color="#007aff"/><stop offset="83.99%" stop-color="#00d7ff"/><stop offset="84.39%" stop-color="#30ffcf"/><stop offset="85.2%" stop-color="#deff21"/><stop offset="85.61%" stop-color="#ffd000"/><stop offset="86.01%" stop-color="#ff8d00"/><stop offset="86.42%" stop-color="#ff5800"/><stop offset="86.83%" stop-color="#ff3100"/><stop offset="87.23%" stop-color="#ff1500"/><stop offset="87.64%" stop-color="#ff0200"/><stop offset="88.85%" stop-color="#df0000"/><stop offset="90.88%" stop-color="#c10000"/><stop offset="93.32%" stop-color="#af0000"/><stop offset="98.59%" stop-color="#a70000"/><stop offset="99.81%" stop-color="#a70000"/></linearGradient><linearGradient id="r28" x1="0" x2="1" y1="0" y2="0"><stop offset="0%" stop-color="#ad0000"/><stop offset="6.07%" stop-color="#b30000"/><stop offset="8.5%" stop-color="#c20000"/><stop offset="10.52%" stop-color="#dd0000"/><stop offset="11.74%" stop-color="#f70000"/><stop offset="12.14%" stop-color="#ff0500"/><stop offset="12.55%" stop-color="#ff1700"/><stop offset="12.95%" stop-color="#ff3000"/><stop offset="13.36%" stop-color="#ff5300"/><stop offset="13.76%" stop-color="#ff8400"/><stop offset="14.17%" stop-color="#ffc400"/><stop offset="14.57%" stop-color="#eaff15"/><stop offset="15.38%" stop-color="#32ffcd"/><stop offset="15.79%" stop-color="#00d3ff"/><stop offset="16.19%" stop-color="#0068ff"/><stop offset="16.6%" stop-color="#002bff"/><stop offset="17%" stop-color="#0000f8"/><stop offset="17.41%" stop-color="#0000d4"/><stop offset="17.81%" stop-color="#0000bc"/><stop offset="18.22%" stop-color="#0000ac"/><stop offset="19.03%" stop-color="#00009d"/><stop offset="21.05%" stop-color="#000094"/><stop offset="79.34%" stop-color="#000095"/><stop offset="80.55%" stop-color="#00009c"/><stop offset="81.36%" stop-color="#0000ab"/><stop offset="81.77%" stop-color="#0000ba"/><stop offset="82.17%" stop-color="#0000d1"/><stop offset="82.58%" stop-color="#0000f4"/><stop offset="82.98%" stop-color="#0025ff"/><stop offset="83.39%" stop-color="#0061ff"/><stop offset="83.79%" stop-color="#00b5ff"/><stop offset="84.2%" stop-color="#0afff5"/><stop offset="85.01%" stop-color="#b4ff4b"/><stop offset="85.41%" stop-color="#fff900"/><stop offset="85.82%" stop-color="#ffb000"/><stop offset="86.22%" stop-color="#ff7400"/><stop offset="86.63%" stop-color="#ff4600"/><stop offset="87.03%" stop-color="#ff2400"/><stop offset="87.44%" stop-color="#ff0c00"/><stop offset="87.84%" stop-color="#fa0000"/><stop offset="89.06%" stop-color="#db0000"/><stop offset="91.08%" stop-color="#bd0000"/><stop offset="93.51%" stop-color="#ac0000"/><stop offset="98.77%" stop-color="#a40000"/><stop offset="99.99%" stop-color="#a40000"/></linearGradient><linearGradient id="r29" x1="0" x2="1" y1="0" y2="0"><stop offset="0%" stop-color="#ae0000"/><stop offset="6.07%" stop-color="#b40000"/><stop offset="8.5%" stop-color="#c30000"/><stop offset="10.53%" stop-color="#de0000"/><stop offset="11.74%" stop-color="#f90000"/><stop offset="12.15%" stop-color="#ff0700"/><stop offset="12.55%" stop-color="#ff1900"/><stop offset="12.96%" stop-color="#ff3200"/><stop offset="13.36%" stop-color="#ff5500"/><stop offset="13.77%" stop-color="#ff8500"/><stop offset="14.17%" stop-color="#ffc400"/><stop offset="14.58%" stop-color="#edff12"/><stop offset="15.38%" stop-color="#3affc5"/><stop offset="15.79%" stop-color="#00deff"/><stop offset="16.19%" stop-color="#0074ff"/><stop offset="16.6%" stop-color="#0036ff"/><stop offset="17%" stop-color="#0003ff"/><stop offset="17.41%" stop-color="#0000db"/><stop offset="17.81%" stop-color="#0000c1"/><stop offset="18.22%" stop-color="#0000b0"/><stop offset="19.03%" stop-color="#00009e"/><stop offset="20.65%" stop-color="#000095"/><stop offset="79.35%" stop-color="#000096"/><stop offset="80.57%" stop-color="#00009e"/><stop offset="81.38%" stop-color="#0000b0"/><stop offset="81.78%" stop-color="#0000c2"/><stop offset="82.19%" stop-color="#0000dd"/><stop offset="82.59%" stop-color="#0006ff"/><stop offset="83%" stop-color="#003bff"/><stop offset="83.4%" stop-color="#0079ff"/><stop offset="83.81%" stop-color="#00ccff"/><stop offset="84.21%" stop-color="#1effe1"/><stop offset="85.02%" stop-color="#c0ff3f"/><stop offset="85.43%" stop-color="#fff200"/><stop offset="85.83%" stop-color="#ffac00"/><stop offset="86.24%" stop-color="#ff7200"/><stop offset="86.64%" stop-color="#ff4600"/><stop offset="87.05%" stop-color="#ff2500"/><stop offset="87.45%" stop-color="#ff0d00"/><stop offset="87.86%" stop-color="#fb0000"/><stop offset="89.07%" stop-color="#dc0000"/><stop offset="91.1%" stop-color="#be0000"/><stop offset="93.52%" stop-color="#ac0000"/><stop offset="98.79%" stop-color="#a50000"/><stop offset="100%" stop-color="#a40000"/></linearGradient><linearGradient id="r30" x1="0" x2="1" y1="0" y2="0"><stop offset="0%" stop-color="#b00000"/><stop offset="6.08%" stop-color="#b60000"/><stop offset="8.52%" stop-color="#c50000"/><stop offset="10.55%" stop-color="#e00000"/><stop offset="11.76%" stop-color="#fb0000"/><stop offset="12.17%" stop-color="#ff0900"/><stop offset="12.57%" stop-color="#ff1b00"/><stop offset="12.98%" stop-color="#ff3400"/><stop offset="13.39%" stop-color="#ff5600"/><stop offset="13.79%" stop-color="#ff8600"/><stop offset="14.2%" stop-color="#ffc300"/><stop offset="14.6%" stop-color="#f1ff0e"/><stop offset="15.41%" stop-color="#45ffba"/><stop offset="15.82%" stop-color="#00ebff"/><stop offset="16.23%" stop-color="#0084ff"/><stop offset="16.63%" stop-color="#0045ff"/><stop offset="17.04%" stop-color="#000fff"/><stop offset="17.44%" stop-color="#0000e5"/><stop offset="17.85%" stop-color="#0000c8"/><stop offset="18.25%" stop-color="#0000b4"/><stop offset="19.06%" stop-color="#0000a0"/><stop offset="20.69%" stop-color="#000095"/><stop offset="79.1%" stop-color="#000096"/><stop offset="80.31%" stop-color="#00009e"/><stop offset="81.13%" stop-color="#0000af"/><stop offset="81.53%" stop-color="#0000c0"/><stop offset="81.94%" stop-color="#0000da"/><stop offset="82.34%" stop-color="#0001ff"/><stop offset="82.75%" stop-color="#0034ff"/><stop offset="83.15%" stop-color="#0073ff"/><stop offset="83.56%" stop-color="#00bbff"/><stop offset="83.97%" stop-color="#09fff6"/><stop offset="85.18%" stop-color="#ebff14"/><stop offset="85.59%" stop-color="#ffcd00"/><stop offset="85.99%" stop-color="#ff8f00"/><stop offset="86.4%" stop-color="#ff5d00"/><stop offset="86.8%" stop-color="#ff3700"/><stop offset="87.21%" stop-color="#ff1b00"/><stop offset="87.62%" stop-color="#ff0700"/><stop offset="88.02%" stop-color="#f70000"/><stop offset="89.24%" stop-color="#da0000"/><stop offset="91.27%" stop-color="#be0000"/><stop offset="93.7%" stop-color="#ad0000"/><stop offset="99.79%" stop-color="#a60000"/></linearGradient><linearGradient id="r31" x1="0" x2="1" y1="0" y2="0"><stop offset="0%" stop-color="#ae0000"/><stop offset="6.11%" stop-color="#b40000"/><stop offset="8.55%" stop-color="#c40000"/><stop offset="10.58%" stop-color="#e00000"/><stop offset="11.81%" stop-color="#fb0000"/><stop offset="12.21%" stop-color="#ff0a00"/><stop offset="12.62%" stop-color="#ff1c00"/><stop offset="13.03%" stop-color="#ff3400"/><stop offset="13.43%" stop-color="#ff5600"/><stop offset="13.84%" stop-color="#ff8500"/><stop offset="14.25%" stop-color="#ffc000"/><stop offset="14.66%" stop-color="#f7ff08"/><stop offset="15.47%" stop-color="#53ffac"/><stop offset="15.88%" stop-color="#00fdff"/><stop offset="16.69%" stop-color="#0058ff"/><stop offset="17.1%" stop-color="#0020ff"/><stop offset="17.5%" stop-color="#0000f2"/><stop offset="17.91%" stop-color="#0000d1"/><stop offset="18.32%" stop-color="#0000bb"/><stop offset="18.73%" stop-color="#0000ac"/><stop offset="19.54%" stop-color="#00009d"/><stop offset="21.58%" stop-color="#000094"/><stop offset="78.57%" stop-color="#000095"/><stop offset="79.79%" stop-color="#00009c"/><stop offset="80.6%" stop-color="#0000aa"/><stop offset="81.01%" stop-color="#0000b7"/><stop offset="81.42%" stop-color="#0000cc"/><stop offset="81.82%" stop-color="#0000ea"/><stop offset="82.23%" stop-color="#0016ff"/><stop offset="82.64%" stop-color="#004cff"/><stop offset="83.05%" stop-color="#008dff"/><stop offset="83.45%" stop-color="#00d4ff"/><stop offset="83.86%" stop-color="#1cffe3"/><stop offset="85.08%" stop-color="#edff12"/><stop offset="85.49%" stop-color="#ffcf00"/><stop offset="85.9%" stop-color="#ff9300"/><stop offset="86.3%" stop-color="#ff6100"/><stop offset="86.71%" stop-color="#ff3a00"/><stop offset="87.12%" stop-color="#ff1e00"/><stop offset="87.52%" stop-color="#ff0900"/><stop offset="87.93%" stop-color="#f80000"/><stop offset="89.15%" stop-color="#db0000"/><stop offset="91.19%" stop-color="#bd0000"/><stop offset="93.63%" stop-color="#ab0000"/><stop offset="98.92%" stop-color="#a40000"/><stop offset="99.74%" stop-color="#a40000"/></linearGradient><linearGradient id="r32" x1="0" x2="1" y1="0" y2="0"><stop offset="0%" stop-color="#af0000"/><stop offset="6.12%" stop-color="#b60000"/><stop offset="8.56%" stop-color="#c50000"/><stop offset="10.6%" stop-color="#e10000"/><stop offset="11.82%" stop-color="#fd0000"/><stop offset="12.23%" stop-color="#ff0b00"/><stop offset="12.64%" stop-color="#ff1d00"/><stop offset="13.05%" stop-color="#ff3600"/><stop offset="13.45%" stop-color="#ff5700"/><stop offset="13.86%" stop-color="#ff8400"/><stop offset="14.27%" stop-color="#ffbd00"/><stop offset="14.68%" stop-color="#fdff02"/><stop offset="15.49%" stop-color="#62ff9d"/><stop offset="15.9%" stop-color="#11ffee"/><stop offset="16.31%" stop-color="#00c1ff"/><stop offset="16.72%" stop-color="#0071ff"/><stop offset="17.12%" stop-color="#0036ff"/><stop offset="17.53%" stop-color="#0005ff"/><stop offset="17.94%" stop-color="#0000de"/><stop offset="18.35%" stop-color="#0000c3"/><stop offset="18.75%" stop-color="#0000b2"/><stop offset="19.57%" stop-color="#00009f"/><stop offset="21.2%" stop-color="#000095"/><stop offset="78.28%" stop-color="#000095"/><stop offset="79.5%" stop-color="#00009d"/><stop offset="80.32%" stop-color="#0000ab"/><stop offset="80.73%" stop-color="#0000b9"/><stop offset="81.13%" stop-color="#0000ce"/><stop offset="81.54%" stop-color="#0000ed"/><stop offset="81.95%" stop-color="#0019ff"/><stop offset="82.36%" stop-color="#004eff"/><stop offset="83.17%" stop-color="#00ceff"/><stop offset="83.58%" stop-color="#11ffee"/><stop offset="84.8%" stop-color="#cdff32"/><stop offset="85.21%" stop-color="#fff100"/><stop offset="85.62%" stop-color="#ffb400"/><stop offset="86.03%" stop-color="#ff7e00"/><stop offset="86.43%" stop-color="#ff5200"/><stop offset="86.84%" stop-color="#ff3000"/><stop offset="87.25%" stop-color="#ff1700"/><stop offset="87.66%" stop-color="#ff0400"/><stop offset="88.47%" stop-color="#ea0000"/><stop offset="90.1%" stop-color="#cc0000"/><stop offset="92.14%" stop-color="#b50000"/><stop offset="95.4%" stop-color="#a80000"/><stop offset="99.89%" stop-color="#a50000"/></linearGradient><linearGradient id="r33" x1="0" x2="1" y1="0" y2="0"><stop offset="0%" stop-color="#b40000"/><stop offset="6.11%" stop-color="#ba0000"/><stop offset="8.56%" stop-color="#ca0000"/><stop offset="10.6%" stop-color="#e50000"/><stop offset="11.82%" stop-color="#ff0100"/><stop offset="12.64%" stop-color="#ff2000"/><stop offset="13.04%" stop-color="#ff3800"/><stop offset="13.45%" stop-color="#ff5900"/><stop offset="13.86%" stop-color="#ff8400"/><stop offset="14.27%" stop-color="#ffbb00"/><stop offset="14.67%" stop-color="#fffc00"/><stop offset="15.08%" stop-color="#bbff44"/><stop offset="15.9%" stop-color="#25ffda"/><stop offset="16.3%" stop-color="#00d9ff"/><stop offset="16.71%" stop-color="#008dff"/><stop offset="17.12%" stop-color="#004fff"/><stop offset="17.53%" stop-color="#0018ff"/><stop offset="17.94%" stop-color="#0000ed"/><stop offset="18.34%" stop-color="#0000ce"/><stop offset="18.75%" stop-color="#0000b9"/><stop offset="19.57%" stop-color="#0000a2"/><stop offset="20.79%" stop-color="#000097"/><stop offset="29.35%" stop-color="#000093"/><stop offset="77.85%" stop-color="#000095"/><stop offset="79.08%" stop-color="#00009c"/><stop offset="79.89%" stop-color="#0000a9"/><stop offset="80.3%" stop-color="#0000b6"/><stop offset="80.71%" stop-color="#0000ca"/><stop offset="81.12%" stop-color="#0000e6"/><stop offset="81.52%" stop-color="#000eff"/><stop offset="81.93%" stop-color="#003fff"/><stop offset="83.15%" stop-color="#00f3ff"/><stop offset="83.56%" stop-color="#2dffd2"/><stop offset="84.78%" stop-color="#d3ff2c"/><stop offset="85.19%" stop-color="#fff000"/><stop offset="85.6%" stop-color="#ffb600"/><stop offset="86.01%" stop-color="#ff8100"/><stop offset="86.41%" stop-color="#ff5600"/><stop offset="86.82%" stop-color="#ff3400"/><stop offset="87.23%" stop-color="#ff1a00"/><stop offset="87.64%" stop-color="#ff0800"/><stop offset="88.04%" stop-color="#f90000"/><stop offset="89.27%" stop-color="#dd0000"/><stop offset="91.31%" stop-color="#c10000"/><stop offset="93.75%" stop-color="#b10000"/><stop offset="99.87%" stop-color="#aa0000"/></linearGradient><linearGradient id="r34" x1="0" x2="1" y1="0" y2="0"><stop offset="0%" stop-color="#b40000"/><stop offset="6.12%" stop-color="#ba0000"/><stop offset="8.57%" stop-color="#ca0000"/><stop offset="10.61%" stop-color="#e60000"/><stop offset="11.83%" stop-color="#ff0200"/><stop offset="12.65%" stop-color="#ff2100"/><stop offset="13.06%" stop-color="#ff3900"/><stop offset="13.47%" stop-color="#ff5900"/><stop offset="13.87%" stop-color="#ff8300"/><stop offset="14.28%" stop-color="#ffb800"/><stop offset="14.69%" stop-color="#fff500"/><stop offset="15.1%" stop-color="#c6ff39"/><stop offset="15.91%" stop-color="#3bffc4"/><stop offset="16.32%" stop-color="#00f4ff"/><stop offset="17.14%" stop-color="#006dff"/><stop offset="17.55%" stop-color="#0032ff"/><stop offset="17.95%" stop-color="#0003ff"/><stop offset="18.36%" stop-color="#0000de"/><stop offset="18.77%" stop-color="#0000c4"/><stop offset="19.18%" stop-color="#0000b3"/><stop offset="19.99%" stop-color="#0000a0"/><stop offset="21.63%" stop-color="#000095"/><stop offset="77.53%" stop-color="#000096"/><stop offset="78.75%" stop-color="#00009d"/><stop offset="79.57%" stop-color="#0000ad"/><stop offset="79.98%" stop-color="#0000bc"/><stop offset="80.39%" stop-color="#0000d1"/><stop offset="80.79%" stop-color="#0000f0"/><stop offset="81.2%" stop-color="#0019ff"/><stop offset="81.61%" stop-color="#004cff"/><stop offset="82.83%" stop-color="#00f6ff"/><stop offset="83.24%" stop-color="#29ffd6"/><stop offset="84.47%" stop-color="#b6ff49"/><stop offset="84.88%" stop-color="#ebff14"/><stop offset="85.28%" stop-color="#ffdb00"/><stop offset="85.69%" stop-color="#ffa500"/><stop offset="86.1%" stop-color="#ff7500"/><stop offset="86.51%" stop-color="#ff4c00"/><stop offset="86.92%" stop-color="#ff2d00"/><stop offset="87.32%" stop-color="#ff1600"/><stop offset="87.73%" stop-color="#ff0500"/><stop offset="88.55%" stop-color="#ec0000"/><stop offset="90.18%" stop-color="#cf0000"/><stop offset="92.63%" stop-color="#b60000"/><stop offset="96.3%" stop-color="#ab0000"/><stop offset="99.97%" stop-color="#a90000"/></linearGradient><linearGradient id="r35" x1="0" x2="1" y1="0" y2="0"><stop offset="0%" stop-color="#b40000"/><stop offset="6.1%" stop-color="#ba0000"/><stop offset="8.54%" stop-color="#ca0000"/><stop offset="10.57%" stop-color="#e60000"/><stop offset="11.79%" stop-color="#ff0300"/><stop offset="12.6%" stop-color="#ff2200"/><stop offset="13.01%" stop-color="#ff3a00"/><stop offset="13.42%" stop-color="#ff5900"/><stop offset="13.82%" stop-color="#ff8200"/><stop offset="14.23%" stop-color="#ffb500"/><stop offset="14.64%" stop-color="#ffef00"/><stop offset="15.04%" stop-color="#d1ff2e"/><stop offset="16.26%" stop-color="#11ffee"/><stop offset="16.67%" stop-color="#00cfff"/><stop offset="17.48%" stop-color="#0052ff"/><stop offset="17.89%" stop-color="#001dff"/><stop offset="18.3%" stop-color="#0000f2"/><stop offset="18.7%" stop-color="#0000d3"/><stop offset="19.11%" stop-color="#0000bd"/><stop offset="19.52%" stop-color="#0000ae"/><stop offset="20.33%" stop-color="#00009e"/><stop offset="21.96%" stop-color="#000095"/><stop offset="76.84%" stop-color="#000095"/><stop offset="78.47%" stop-color="#00009f"/><stop offset="79.28%" stop-color="#0000b1"/><stop offset="79.69%" stop-color="#0000c1"/><stop offset="80.1%" stop-color="#0000d9"/><stop offset="80.5%" stop-color="#0000fa"/><stop offset="80.91%" stop-color="#0026ff"/><stop offset="81.72%" stop-color="#0090ff"/><stop offset="82.54%" stop-color="#00f9ff"/><stop offset="82.94%" stop-color="#25ffda"/><stop offset="84.16%" stop-color="#99ff66"/><stop offset="84.57%" stop-color="#c6ff39"/><stop offset="84.98%" stop-color="#f7ff08"/><stop offset="85.38%" stop-color="#ffd200"/><stop offset="85.79%" stop-color="#ff9e00"/><stop offset="86.2%" stop-color="#ff7000"/><stop offset="86.6%" stop-color="#ff4900"/><stop offset="87.01%" stop-color="#ff2b00"/><stop offset="87.42%" stop-color="#ff1500"/><stop offset="87.82%" stop-color="#ff0400"/><stop offset="88.63%" stop-color="#eb0000"/><stop offset="90.67%" stop-color="#c90000"/><stop offset="93.11%" stop-color="#b30000"/><stop offset="97.17%" stop-color="#aa0000"/><stop offset="99.61%" stop-color="#a90000"/></linearGradient><linearGradient id="r36" x1="0" x2="1" y1="0" y2="0"><stop offset="0%" stop-color="#af0000"/><stop offset="5.64%" stop-color="#b50000"/><stop offset="8.06%" stop-color="#c30000"/><stop offset="10.07%" stop-color="#de0000"/><stop offset="11.69%" stop-color="#ff0200"/><stop offset="12.49%" stop-color="#ff2200"/><stop offset="12.89%" stop-color="#ff3900"/><stop offset="13.3%" stop-color="#ff5900"/><stop offset="13.7%" stop-color="#ff8100"/><stop offset="14.1%" stop-color="#ffb100"/><stop offset="14.51%" stop-color="#ffe800"/><stop offset="14.91%" stop-color="#dbff24"/><stop offset="16.12%" stop-color="#2effd1"/><stop offset="16.52%" stop-color="#00f1ff"/><stop offset="17.33%" stop-color="#0078ff"/><stop offset="17.73%" stop-color="#0040ff"/><stop offset="18.13%" stop-color="#0010ff"/><stop offset="18.54%" stop-color="#0000e9"/><stop offset="18.94%" stop-color="#0000cd"/><stop offset="19.34%" stop-color="#0000b9"/><stop offset="20.15%" stop-color="#0000a3"/><stop offset="21.36%" stop-color="#000097"/><stop offset="28.21%" stop-color="#000093"/><stop offset="76.56%" stop-color="#000095"/><stop offset="78.18%" stop-color="#0000a1"/><stop offset="78.98%" stop-color="#0000b4"/><stop offset="79.38%" stop-color="#0000c5"/><stop offset="79.79%" stop-color="#0000de"/><stop offset="80.19%" stop-color="#0000ff"/><stop offset="80.59%" stop-color="#002bff"/><stop offset="81%" stop-color="#005eff"/><stop offset="81.4%" stop-color="#0070ff"/><stop offset="82.21%" stop-color="#00daff"/><stop offset="82.61%" stop-color="#0bfff4"/><stop offset="84.22%" stop-color="#b5ff4a"/><stop offset="84.62%" stop-color="#e4ff1b"/><stop offset="85.03%" stop-color="#ffe800"/><stop offset="85.43%" stop-color="#ffb500"/><stop offset="85.83%" stop-color="#ffa600"/><stop offset="86.23%" stop-color="#ff7800"/><stop offset="86.64%" stop-color="#ff5000"/><stop offset="87.04%" stop-color="#ff3100"/><stop offset="87.44%" stop-color="#ff1900"/><stop offset="87.85%" stop-color="#ff0700"/><stop offset="88.25%" stop-color="#f80000"/><stop offset="89.46%" stop-color="#db0000"/><stop offset="91.47%" stop-color="#bd0000"/><stop offset="93.89%" stop-color="#ac0000"/><stop offset="99.13%" stop-color="#a40000"/><stop offset="99.94%" stop-color="#a40000"/></linearGradient><linearGradient id="r37" x1="0" x2="1" y1="0" y2="0"><stop offset="0%" stop-color="#b00000"/><stop offset="5.56%" stop-color="#b60000"/><stop offset="7.94%" stop-color="#c50000"/><stop offset="9.92%" stop-color="#df0000"/><stop offset="11.11%" stop-color="#f80000"/><stop offset="11.51%" stop-color="#ff0400"/><stop offset="12.3%" stop-color="#ff2400"/><stop offset="12.7%" stop-color="#ff3b00"/><stop offset="13.09%" stop-color="#ff5a00"/><stop offset="13.49%" stop-color="#ff8100"/><stop offset="13.89%" stop-color="#ffaf00"/><stop offset="14.28%" stop-color="#ffe400"/><stop offset="14.68%" stop-color="#e3ff1c"/><stop offset="16.27%" stop-color="#12ffed"/><stop offset="16.67%" stop-color="#00daff"/><stop offset="17.46%" stop-color="#0068ff"/><stop offset="17.86%" stop-color="#0033ff"/><stop offset="18.25%" stop-color="#0006ff"/><stop offset="18.65%" stop-color="#0000e2"/><stop offset="19.05%" stop-color="#0000c9"/><stop offset="19.44%" stop-color="#0000b6"/><stop offset="20.24%" stop-color="#0000a2"/><stop offset="21.43%" stop-color="#000097"/><stop offset="28.97%" stop-color="#000093"/><stop offset="76.18%" stop-color="#000095"/><stop offset="77.77%" stop-color="#00009f"/><stop offset="78.56%" stop-color="#0000b0"/><stop offset="78.96%" stop-color="#0000bf"/><stop offset="79.36%" stop-color="#0000d4"/><stop offset="79.76%" stop-color="#0000f2"/><stop offset="80.15%" stop-color="#001aff"/><stop offset="80.55%" stop-color="#0049ff"/><stop offset="80.95%" stop-color="#0059ff"/><stop offset="81.74%" stop-color="#00beff"/><stop offset="82.14%" stop-color="#00ecff"/><stop offset="82.53%" stop-color="#15ffea"/><stop offset="84.12%" stop-color="#9fff60"/><stop offset="84.91%" stop-color="#f1ff0e"/><stop offset="85.31%" stop-color="#ffdd00"/><stop offset="85.71%" stop-color="#ffad00"/><stop offset="86.1%" stop-color="#ffa000"/><stop offset="86.5%" stop-color="#ff7300"/><stop offset="86.9%" stop-color="#ff4d00"/><stop offset="87.29%" stop-color="#ff2f00"/><stop offset="87.69%" stop-color="#ff1800"/><stop offset="88.09%" stop-color="#ff0600"/><stop offset="88.48%" stop-color="#f70000"/><stop offset="89.68%" stop-color="#db0000"/><stop offset="91.66%" stop-color="#bd0000"/><stop offset="94.04%" stop-color="#ac0000"/><stop offset="99.59%" stop-color="#a50000"/><stop offset="99.99%" stop-color="#a50000"/></linearGradient><linearGradient id="r38" x1="0" x2="1" y1="0" y2="0"><stop offset="0%" stop-color="#b30000"/><stop offset="5.48%" stop-color="#b90000"/><stop offset="7.83%" stop-color="#c80000"/><stop offset="9.79%" stop-color="#e20000"/><stop offset="10.96%" stop-color="#fa0000"/><stop offset="11.35%" stop-color="#ff0600"/><stop offset="12.13%" stop-color="#ff2600"/><stop offset="12.53%" stop-color="#ff3d00"/><stop offset="12.92%" stop-color="#ff5b00"/><stop offset="13.31%" stop-color="#ff8100"/><stop offset="13.7%" stop-color="#ffaf00"/><stop offset="14.09%" stop-color="#ffe100"/><stop offset="14.48%" stop-color="#e8ff17"/><stop offset="15.27%" stop-color="#87ff78"/><stop offset="16.44%" stop-color="#00fdff"/><stop offset="18.01%" stop-color="#002cff"/><stop offset="18.4%" stop-color="#0001ff"/><stop offset="18.79%" stop-color="#0000df"/><stop offset="19.18%" stop-color="#0000c6"/><stop offset="19.57%" stop-color="#0000b5"/><stop offset="20.35%" stop-color="#0000a1"/><stop offset="21.92%" stop-color="#000095"/><stop offset="75.55%" stop-color="#000095"/><stop offset="77.11%" stop-color="#00009c"/><stop offset="77.89%" stop-color="#0000a8"/><stop offset="78.29%" stop-color="#0000b3"/><stop offset="78.68%" stop-color="#0000c3"/><stop offset="79.07%" stop-color="#0000da"/><stop offset="79.46%" stop-color="#0000f9"/><stop offset="79.85%" stop-color="#0022ff"/><stop offset="80.24%" stop-color="#0051ff"/><stop offset="80.63%" stop-color="#0060ff"/><stop offset="81.42%" stop-color="#00c0ff"/><stop offset="81.81%" stop-color="#00e9ff"/><stop offset="82.2%" stop-color="#0efff1"/><stop offset="82.98%" stop-color="#49ffb6"/><stop offset="84.16%" stop-color="#9bff64"/><stop offset="84.55%" stop-color="#bcff43"/><stop offset="84.94%" stop-color="#e3ff1c"/><stop offset="85.33%" stop-color="#fff000"/><stop offset="85.72%" stop-color="#ffc200"/><stop offset="86.11%" stop-color="#ffb600"/><stop offset="86.51%" stop-color="#ff8800"/><stop offset="86.9%" stop-color="#ff5f00"/><stop offset="87.29%" stop-color="#ff3e00"/><stop offset="87.68%" stop-color="#ff2400"/><stop offset="88.46%" stop-color="#ff0000"/><stop offset="89.64%" stop-color="#e10000"/><stop offset="91.59%" stop-color="#c20000"/><stop offset="93.94%" stop-color="#b00000"/><stop offset="98.64%" stop-color="#a80000"/><stop offset="99.81%" stop-color="#a70000"/></linearGradient><linearGradient id="r39" x1="0" x2="1" y1="0" y2="0"><stop offset="0%" stop-color="#b20000"/><stop offset="5.38%" stop-color="#b80000"/><stop offset="7.69%" stop-color="#c70000"/><stop offset="9.61%" stop-color="#e20000"/><stop offset="10.77%" stop-color="#fb0000"/><stop offset="11.15%" stop-color="#ff0700"/><stop offset="11.92%" stop-color="#ff2700"/><stop offset="12.31%" stop-color="#ff3e00"/><stop offset="12.69%" stop-color="#ff5c00"/><stop offset="13.07%" stop-color="#ff8100"/><stop offset="13.84%" stop-color="#ffde00"/><stop offset="14.23%" stop-color="#eeff11"/><stop offset="15%" stop-color="#94ff6b"/><stop offset="16.15%" stop-color="#1effe1"/><stop offset="16.54%" stop-color="#00f2ff"/><stop offset="17.3%" stop-color="#008eff"/><stop offset="18.07%" stop-color="#002aff"/><stop offset="18.46%" stop-color="#0000ff"/><stop offset="18.84%" stop-color="#0000df"/><stop offset="19.23%" stop-color="#0000c7"/><stop offset="19.61%" stop-color="#0000b6"/><stop offset="20.38%" stop-color="#0000a2"/><stop offset="21.92%" stop-color="#000096"/><stop offset="74.6%" stop-color="#000094"/><stop offset="76.52%" stop-color="#00009a"/><stop offset="77.68%" stop-color="#0000ab"/><stop offset="78.06%" stop-color="#0000b7"/><stop offset="78.45%" stop-color="#0000c9"/><stop offset="79.21%" stop-color="#0004ff"/><stop offset="79.6%" stop-color="#002dff"/><stop offset="79.98%" stop-color="#005dff"/><stop offset="80.37%" stop-color="#006aff"/><stop offset="81.14%" stop-color="#00c5ff"/><stop offset="81.52%" stop-color="#00ebff"/><stop offset="81.91%" stop-color="#0cfff3"/><stop offset="82.68%" stop-color="#3effc1"/><stop offset="84.21%" stop-color="#95ff6a"/><stop offset="84.6%" stop-color="#b1ff4e"/><stop offset="84.98%" stop-color="#d2ff2d"/><stop offset="85.37%" stop-color="#f9ff06"/><stop offset="85.75%" stop-color="#ffda00"/><stop offset="86.14%" stop-color="#ffad00"/><stop offset="86.52%" stop-color="#ffa200"/><stop offset="86.91%" stop-color="#ff7600"/><stop offset="87.29%" stop-color="#ff5100"/><stop offset="87.67%" stop-color="#ff3300"/><stop offset="88.06%" stop-color="#ff1c00"/><stop offset="88.44%" stop-color="#ff0a00"/><stop offset="88.83%" stop-color="#fa0000"/><stop offset="89.98%" stop-color="#dd0000"/><stop offset="91.9%" stop-color="#bf0000"/><stop offset="94.21%" stop-color="#ad0000"/><stop offset="99.21%" stop-color="#a60000"/><stop offset="99.98%" stop-color="#a60000"/></linearGradient><linearGradient id="r40" x1="0" x2="1" y1="0" y2="0"><stop offset="0%" stop-color="#b30000"/><stop offset="5.42%" stop-color="#ba0000"/><stop offset="7.74%" stop-color="#c90000"/><stop offset="9.68%" stop-color="#e40000"/><stop offset="10.84%" stop-color="#fd0000"/><stop offset="11.22%" stop-color="#ff0900"/><stop offset="12%" stop-color="#ff2900"/><stop offset="12.39%" stop-color="#ff4000"/><stop offset="12.77%" stop-color="#ff5d00"/><stop offset="13.16%" stop-color="#ff8200"/><stop offset="13.93%" stop-color="#ffdd00"/><stop offset="14.32%" stop-color="#ffea00"/><stop offset="14.71%" stop-color="#e3ff1c"/><stop offset="15.87%" stop-color="#5bffa4"/><stop offset="16.64%" stop-color="#02fffd"/><stop offset="17.42%" stop-color="#009eff"/><stop offset="17.8%" stop-color="#006aff"/><stop offset="18.19%" stop-color="#005bff"/><stop offset="18.58%" stop-color="#002bff"/><stop offset="18.97%" stop-color="#0003ff"/><stop offset="19.35%" stop-color="#0000e1"/><stop offset="19.74%" stop-color="#0000c9"/><stop offset="20.13%" stop-color="#0000b7"/><stop offset="20.9%" stop-color="#0000a3"/><stop offset="22.06%" stop-color="#000097"/><stop offset="27.87%" stop-color="#000093"/><stop offset="74.7%" stop-color="#000096"/><stop offset="76.25%" stop-color="#0000a1"/><stop offset="77.02%" stop-color="#0000b3"/><stop offset="77.41%" stop-color="#0000c3"/><stop offset="77.8%" stop-color="#0000d9"/><stop offset="78.19%" stop-color="#0000f7"/><stop offset="78.57%" stop-color="#001fff"/><stop offset="78.96%" stop-color="#004cff"/><stop offset="79.35%" stop-color="#0059ff"/><stop offset="80.12%" stop-color="#00b2ff"/><stop offset="80.51%" stop-color="#00d9ff"/><stop offset="80.9%" stop-color="#00f9ff"/><stop offset="81.28%" stop-color="#15ffea"/><stop offset="82.06%" stop-color="#3effc1"/><stop offset="83.6%" stop-color="#81ff7e"/><stop offset="84.38%" stop-color="#afff50"/><stop offset="84.77%" stop-color="#ccff33"/><stop offset="85.15%" stop-color="#f0ff0f"/><stop offset="85.54%" stop-color="#ffe600"/><stop offset="85.93%" stop-color="#ffbb00"/><stop offset="86.31%" stop-color="#ffb100"/><stop offset="86.7%" stop-color="#ff8500"/><stop offset="87.09%" stop-color="#ff5d00"/><stop offset="87.47%" stop-color="#ff3d00"/><stop offset="87.86%" stop-color="#ff2400"/><stop offset="88.64%" stop-color="#ff0100"/><stop offset="90.18%" stop-color="#da0000"/><stop offset="92.12%" stop-color="#bd0000"/><stop offset="94.44%" stop-color="#ae0000"/><stop offset="99.86%" stop-color="#a70000"/></linearGradient><linearGradient id="r41" x1="0" x2="1" y1="0" y2="0"><stop offset="0%" stop-color="#ba0000"/><stop offset="5.38%" stop-color="#c00000"/><stop offset="7.69%" stop-color="#ce0000"/><stop offset="9.62%" stop-color="#e80000"/><stop offset="10.77%" stop-color="#ff0100"/><stop offset="11.54%" stop-color="#ff1a00"/><stop offset="11.92%" stop-color="#ff2c00"/><stop offset="12.31%" stop-color="#ff4300"/><stop offset="12.69%" stop-color="#ff6000"/><stop offset="13.08%" stop-color="#ff8500"/><stop offset="13.85%" stop-color="#ffde00"/><stop offset="14.23%" stop-color="#ffe900"/><stop offset="14.62%" stop-color="#e7ff18"/><stop offset="15.38%" stop-color="#92ff6d"/><stop offset="16.54%" stop-color="#21ffde"/><stop offset="16.92%" stop-color="#00f8ff"/><stop offset="17.69%" stop-color="#009dff"/><stop offset="18.08%" stop-color="#006cff"/><stop offset="18.46%" stop-color="#005fff"/><stop offset="18.85%" stop-color="#0031ff"/><stop offset="19.23%" stop-color="#0008ff"/><stop offset="19.62%" stop-color="#0000e6"/><stop offset="20%" stop-color="#0000cc"/><stop offset="20.38%" stop-color="#0000ba"/><stop offset="21.15%" stop-color="#0000a4"/><stop offset="22.31%" stop-color="#000098"/><stop offset="26.92%" stop-color="#000093"/><stop offset="73.85%" stop-color="#000095"/><stop offset="75.39%" stop-color="#00009f"/><stop offset="76.15%" stop-color="#0000ae"/><stop offset="76.54%" stop-color="#0000bb"/><stop offset="76.92%" stop-color="#0000ce"/><stop offset="77.31%" stop-color="#0000e8"/><stop offset="77.69%" stop-color="#000bff"/><stop offset="78.08%" stop-color="#0034ff"/><stop offset="78.46%" stop-color="#0063ff"/><stop offset="78.85%" stop-color="#006dff"/><stop offset="79.62%" stop-color="#00c0ff"/><stop offset="80%" stop-color="#00e3ff"/><stop offset="80.39%" stop-color="#00ffff"/><stop offset="81.15%" stop-color="#29ffd6"/><stop offset="83.46%" stop-color="#7cff83"/><stop offset="84.23%" stop-color="#a2ff5d"/><stop offset="84.62%" stop-color="#bbff44"/><stop offset="85%" stop-color="#daff25"/><stop offset="85.39%" stop-color="#feff01"/><stop offset="85.77%" stop-color="#ffd800"/><stop offset="86.15%" stop-color="#ffd100"/><stop offset="86.92%" stop-color="#ff7800"/><stop offset="87.31%" stop-color="#ff5400"/><stop offset="87.69%" stop-color="#ff3600"/><stop offset="88.08%" stop-color="#ff1f00"/><stop offset="88.85%" stop-color="#fe0000"/><stop offset="90%" stop-color="#e20000"/><stop offset="91.92%" stop-color="#c50000"/><stop offset="94.23%" stop-color="#b40000"/><stop offset="99.62%" stop-color="#ad0000"/><stop offset="100%" stop-color="#ad0000"/></linearGradient><linearGradient id="r42" x1="0" x2="1" y1="0" y2="0"><stop offset="0%" stop-color="#b60000"/><stop offset="5.33%" stop-color="#bc0000"/><stop offset="7.61%" stop-color="#cb0000"/><stop offset="9.51%" stop-color="#e70000"/><stop offset="10.65%" stop-color="#ff0100"/><stop offset="11.41%" stop-color="#ff1b00"/><stop offset="11.79%" stop-color="#ff2d00"/><stop offset="12.18%" stop-color="#ff4400"/><stop offset="12.56%" stop-color="#ff6100"/><stop offset="12.94%" stop-color="#ff8500"/><stop offset="13.7%" stop-color="#ffdb00"/><stop offset="14.08%" stop-color="#ffe400"/><stop offset="14.46%" stop-color="#eeff11"/><stop offset="15.22%" stop-color="#9fff60"/><stop offset="16.74%" stop-color="#1dffe2"/><stop offset="17.12%" stop-color="#00f9ff"/><stop offset="17.88%" stop-color="#00a5ff"/><stop offset="18.26%" stop-color="#0076ff"/><stop offset="18.64%" stop-color="#006bff"/><stop offset="19.4%" stop-color="#0012ff"/><stop offset="19.78%" stop-color="#0000ee"/><stop offset="20.16%" stop-color="#0000d3"/><stop offset="20.55%" stop-color="#0000bf"/><stop offset="21.31%" stop-color="#0000a7"/><stop offset="22.45%" stop-color="#000099"/><stop offset="26.25%" stop-color="#000093"/><stop offset="73.05%" stop-color="#000095"/><stop offset="74.57%" stop-color="#00009d"/><stop offset="75.33%" stop-color="#0000aa"/><stop offset="76.09%" stop-color="#0000c5"/><stop offset="76.47%" stop-color="#0000db"/><stop offset="76.86%" stop-color="#0000f9"/><stop offset="77.24%" stop-color="#001fff"/><stop offset="77.62%" stop-color="#004bff"/><stop offset="78%" stop-color="#0056ff"/><stop offset="78.76%" stop-color="#00abff"/><stop offset="79.14%" stop-color="#00d0ff"/><stop offset="79.52%" stop-color="#00eeff"/><stop offset="79.9%" stop-color="#08fff7"/><stop offset="80.66%" stop-color="#2cffd3"/><stop offset="82.18%" stop-color="#5affa5"/><stop offset="83.7%" stop-color="#88ff77"/><stop offset="84.46%" stop-color="#adff52"/><stop offset="84.84%" stop-color="#c6ff39"/><stop offset="85.23%" stop-color="#e4ff1b"/><stop offset="85.61%" stop-color="#fff600"/><stop offset="85.99%" stop-color="#ffce00"/><stop offset="86.37%" stop-color="#ffc800"/><stop offset="87.13%" stop-color="#ff7200"/><stop offset="87.51%" stop-color="#ff4f00"/><stop offset="87.89%" stop-color="#ff3200"/><stop offset="88.65%" stop-color="#ff0b00"/><stop offset="89.03%" stop-color="#fc0000"/><stop offset="90.17%" stop-color="#df0000"/><stop offset="92.07%" stop-color="#c10000"/><stop offset="94.36%" stop-color="#b00000"/><stop offset="99.3%" stop-color="#a80000"/><stop offset="99.68%" stop-color="#a80000"/></linearGradient><linearGradient id="r43" x1="0" x2="1" y1="0" y2="0"><stop offset="0%" stop-color="#bd0000"/><stop offset="5.24%" stop-color="#c30000"/><stop offset="7.48%" stop-color="#d20000"/><stop offset="9.35%" stop-color="#ec0000"/><stop offset="10.1%" stop-color="#fb0000"/><stop offset="10.48%" stop-color="#ff0500"/><stop offset="11.22%" stop-color="#ff1e00"/><stop offset="11.6%" stop-color="#ff3000"/><stop offset="11.97%" stop-color="#ff4700"/><stop offset="12.35%" stop-color="#ff6400"/><stop offset="12.72%" stop-color="#ff8800"/><stop offset="13.47%" stop-color="#ffdd00"/><stop offset="13.84%" stop-color="#ffe500"/><stop offset="14.22%" stop-color="#efff10"/><stop offset="14.97%" stop-color="#a5ff5a"/><stop offset="15.71%" stop-color="#6aff95"/><stop offset="16.84%" stop-color="#19ffe6"/><stop offset="17.21%" stop-color="#00f8ff"/><stop offset="17.96%" stop-color="#00adff"/><stop offset="18.71%" stop-color="#0054ff"/><stop offset="19.08%" stop-color="#0049ff"/><stop offset="19.46%" stop-color="#001fff"/><stop offset="19.83%" stop-color="#0000f9"/><stop offset="20.2%" stop-color="#0000dc"/><stop offset="20.58%" stop-color="#0000c5"/><stop offset="21.33%" stop-color="#0000aa"/><stop offset="22.45%" stop-color="#00009a"/><stop offset="25.44%" stop-color="#000093"/><stop offset="72.59%" stop-color="#000095"/><stop offset="74.08%" stop-color="#00009e"/><stop offset="74.83%" stop-color="#0000ab"/><stop offset="75.58%" stop-color="#0000c7"/><stop offset="75.95%" stop-color="#0000dd"/><stop offset="76.33%" stop-color="#0000fb"/><stop offset="76.7%" stop-color="#0021ff"/><stop offset="77.08%" stop-color="#004cff"/><stop offset="77.45%" stop-color="#0056ff"/><stop offset="78.2%" stop-color="#00a8ff"/><stop offset="78.57%" stop-color="#00cbff"/><stop offset="78.95%" stop-color="#00e9ff"/><stop offset="79.32%" stop-color="#01fffe"/><stop offset="80.07%" stop-color="#24ffdb"/><stop offset="81.19%" stop-color="#44ffbb"/><stop offset="83.44%" stop-color="#78ff87"/><stop offset="84.19%" stop-color="#93ff6c"/><stop offset="84.93%" stop-color="#bbff44"/><stop offset="85.31%" stop-color="#d6ff29"/><stop offset="85.68%" stop-color="#f7ff08"/><stop offset="86.06%" stop-color="#ffe100"/><stop offset="86.43%" stop-color="#ffb900"/><stop offset="86.8%" stop-color="#ffb100"/><stop offset="87.18%" stop-color="#ff8600"/><stop offset="87.55%" stop-color="#ff6000"/><stop offset="87.93%" stop-color="#ff4100"/><stop offset="88.3%" stop-color="#ff2800"/><stop offset="89.05%" stop-color="#ff0600"/><stop offset="89.42%" stop-color="#f90000"/><stop offset="90.92%" stop-color="#d80000"/><stop offset="93.16%" stop-color="#bd0000"/><stop offset="96.16%" stop-color="#b10000"/><stop offset="99.9%" stop-color="#ae0000"/></linearGradient><linearGradient id="r44" x1="0" x2="1" y1="0" y2="0"><stop offset="0%" stop-color="#be0000"/><stop offset="5.19%" stop-color="#c40000"/><stop offset="7.41%" stop-color="#d30000"/><stop offset="9.26%" stop-color="#ed0000"/><stop offset="10%" stop-color="#fc0000"/><stop offset="10.74%" stop-color="#ff1200"/><stop offset="11.48%" stop-color="#ff3200"/><stop offset="11.85%" stop-color="#ff4900"/><stop offset="12.22%" stop-color="#ff6600"/><stop offset="12.59%" stop-color="#ff8900"/><stop offset="13.33%" stop-color="#ffde00"/><stop offset="13.71%" stop-color="#ffe400"/><stop offset="14.08%" stop-color="#f2ff0d"/><stop offset="14.82%" stop-color="#abff54"/><stop offset="15.56%" stop-color="#75ff8a"/><stop offset="17.04%" stop-color="#1affe5"/><stop offset="17.41%" stop-color="#00fdff"/><stop offset="18.15%" stop-color="#00b9ff"/><stop offset="18.89%" stop-color="#0065ff"/><stop offset="19.26%" stop-color="#005cff"/><stop offset="20%" stop-color="#0009ff"/><stop offset="20.37%" stop-color="#0000e8"/><stop offset="20.74%" stop-color="#0000cf"/><stop offset="21.11%" stop-color="#0000bd"/><stop offset="21.85%" stop-color="#0000a6"/><stop offset="22.97%" stop-color="#000098"/><stop offset="26.67%" stop-color="#000093"/><stop offset="71.86%" stop-color="#000095"/><stop offset="73.34%" stop-color="#00009e"/><stop offset="74.08%" stop-color="#0000ab"/><stop offset="74.82%" stop-color="#0000c7"/><stop offset="75.19%" stop-color="#0000dd"/><stop offset="75.56%" stop-color="#0000fa"/><stop offset="75.93%" stop-color="#0020ff"/><stop offset="76.3%" stop-color="#004aff"/><stop offset="76.67%" stop-color="#0054ff"/><stop offset="77.42%" stop-color="#00a4ff"/><stop offset="77.79%" stop-color="#00c7ff"/><stop offset="78.16%" stop-color="#00e4ff"/><stop offset="78.53%" stop-color="#00fbff"/><stop offset="79.64%" stop-color="#2affd5"/><stop offset="81.12%" stop-color="#4bffb4"/><stop offset="83.34%" stop-color="#77ff88"/><stop offset="84.08%" stop-color="#8dff72"/><stop offset="84.82%" stop-color="#aeff51"/><stop offset="85.19%" stop-color="#c5ff3a"/><stop offset="85.93%" stop-color="#fffb00"/><stop offset="86.31%" stop-color="#ffd500"/><stop offset="86.68%" stop-color="#ffd000"/><stop offset="87.42%" stop-color="#ff7b00"/><stop offset="87.79%" stop-color="#ff5800"/><stop offset="88.16%" stop-color="#ff3b00"/><stop offset="88.53%" stop-color="#ff2300"/><stop offset="89.27%" stop-color="#ff0300"/><stop offset="91.12%" stop-color="#d70000"/><stop offset="93.34%" stop-color="#bd0000"/><stop offset="96.31%" stop-color="#b10000"/><stop offset="100.01%" stop-color="#af0000"/></linearGradient><linearGradient id="r45" x1="0" x2="1" y1="0" y2="0"><stop offset="0%" stop-color="#bf0000"/><stop offset="5.12%" stop-color="#c50000"/><stop offset="7.32%" stop-color="#d40000"/><stop offset="9.15%" stop-color="#ef0000"/><stop offset="9.88%" stop-color="#fe0000"/><stop offset="10.61%" stop-color="#ff1400"/><stop offset="11.34%" stop-color="#ff3400"/><stop offset="11.71%" stop-color="#ff4b00"/><stop offset="12.07%" stop-color="#ff6800"/><stop offset="12.44%" stop-color="#ff8b00"/><stop offset="13.17%" stop-color="#ffde00"/><stop offset="13.54%" stop-color="#ffe300"/><stop offset="13.9%" stop-color="#f4ff0b"/><stop offset="14.63%" stop-color="#b0ff4f"/><stop offset="15.37%" stop-color="#7eff81"/><stop offset="17.19%" stop-color="#1dffe2"/><stop offset="17.56%" stop-color="#05fffa"/><stop offset="17.93%" stop-color="#00e9ff"/><stop offset="18.66%" stop-color="#00a3ff"/><stop offset="19.39%" stop-color="#004fff"/><stop offset="19.76%" stop-color="#0047ff"/><stop offset="20.12%" stop-color="#001dff"/><stop offset="20.49%" stop-color="#0000f9"/><stop offset="20.85%" stop-color="#0000dc"/><stop offset="21.22%" stop-color="#0000c7"/><stop offset="21.95%" stop-color="#0000ab"/><stop offset="23.05%" stop-color="#00009a"/><stop offset="25.61%" stop-color="#000093"/><stop offset="70.97%" stop-color="#000095"/><stop offset="72.44%" stop-color="#00009c"/><stop offset="73.17%" stop-color="#0000a7"/><stop offset="73.9%" stop-color="#0000bf"/><stop offset="74.26%" stop-color="#0000d1"/><stop offset="74.63%" stop-color="#0000eb"/><stop offset="75%" stop-color="#000cff"/><stop offset="75.73%" stop-color="#005fff"/><stop offset="76.09%" stop-color="#0066ff"/><stop offset="76.83%" stop-color="#00b3ff"/><stop offset="77.19%" stop-color="#00d2ff"/><stop offset="77.56%" stop-color="#00ecff"/><stop offset="77.92%" stop-color="#02fffd"/><stop offset="78.65%" stop-color="#1fffe0"/><stop offset="79.75%" stop-color="#3affc5"/><stop offset="83.41%" stop-color="#78ff87"/><stop offset="84.51%" stop-color="#99ff66"/><stop offset="85.24%" stop-color="#bfff40"/><stop offset="85.61%" stop-color="#d9ff26"/><stop offset="85.97%" stop-color="#f8ff07"/><stop offset="86.34%" stop-color="#ffe200"/><stop offset="86.7%" stop-color="#ffbc00"/><stop offset="87.07%" stop-color="#ffb500"/><stop offset="87.8%" stop-color="#ff6600"/><stop offset="88.17%" stop-color="#ff4600"/><stop offset="88.53%" stop-color="#ff2d00"/><stop offset="89.26%" stop-color="#ff0900"/><stop offset="89.63%" stop-color="#fc0000"/><stop offset="91.09%" stop-color="#da0000"/><stop offset="92.92%" stop-color="#c20000"/><stop offset="95.48%" stop-color="#b30000"/><stop offset="99.87%" stop-color="#af0000"/></linearGradient><linearGradient id="r46" x1="0" x2="1" y1="0" y2="0"><stop offset="0%" stop-color="#bb0000"/><stop offset="5%" stop-color="#c20000"/><stop offset="7.14%" stop-color="#d20000"/><stop offset="8.92%" stop-color="#ee0000"/><stop offset="9.64%" stop-color="#fe0000"/><stop offset="10.35%" stop-color="#ff1400"/><stop offset="11.06%" stop-color="#ff3500"/><stop offset="11.42%" stop-color="#ff4c00"/><stop offset="11.78%" stop-color="#ff6900"/><stop offset="12.49%" stop-color="#ffb300"/><stop offset="12.85%" stop-color="#ffdd00"/><stop offset="13.21%" stop-color="#ffe100"/><stop offset="13.56%" stop-color="#f7ff08"/><stop offset="14.28%" stop-color="#b6ff49"/><stop offset="14.99%" stop-color="#87ff78"/><stop offset="16.42%" stop-color="#45ffba"/><stop offset="17.49%" stop-color="#0ffff0"/><stop offset="17.84%" stop-color="#00f6ff"/><stop offset="18.56%" stop-color="#00b8ff"/><stop offset="19.27%" stop-color="#006aff"/><stop offset="19.63%" stop-color="#0063ff"/><stop offset="20.34%" stop-color="#0010ff"/><stop offset="20.7%" stop-color="#0000ef"/><stop offset="21.06%" stop-color="#0000d5"/><stop offset="21.41%" stop-color="#0000c1"/><stop offset="22.13%" stop-color="#0000a9"/><stop offset="23.2%" stop-color="#00009a"/><stop offset="26.05%" stop-color="#000093"/><stop offset="70.67%" stop-color="#000095"/><stop offset="72.09%" stop-color="#00009e"/><stop offset="72.81%" stop-color="#0000aa"/><stop offset="73.52%" stop-color="#0000c3"/><stop offset="73.88%" stop-color="#0000d7"/><stop offset="74.23%" stop-color="#0000f2"/><stop offset="74.59%" stop-color="#0014ff"/><stop offset="75.31%" stop-color="#0068ff"/><stop offset="75.66%" stop-color="#006eff"/><stop offset="76.38%" stop-color="#00b8ff"/><stop offset="76.73%" stop-color="#00d7ff"/><stop offset="77.09%" stop-color="#00efff"/><stop offset="77.45%" stop-color="#04fffb"/><stop offset="78.16%" stop-color="#20ffdf"/><stop offset="79.59%" stop-color="#3fffc0"/><stop offset="83.51%" stop-color="#79ff86"/><stop offset="84.58%" stop-color="#94ff6b"/><stop offset="85.3%" stop-color="#b3ff4c"/><stop offset="86.01%" stop-color="#e2ff1d"/><stop offset="86.37%" stop-color="#fffd00"/><stop offset="87.08%" stop-color="#ffb400"/><stop offset="87.44%" stop-color="#ffad00"/><stop offset="88.15%" stop-color="#ff6000"/><stop offset="88.51%" stop-color="#ff4200"/><stop offset="88.87%" stop-color="#ff2900"/><stop offset="89.58%" stop-color="#ff0600"/><stop offset="89.94%" stop-color="#f90000"/><stop offset="91.37%" stop-color="#d70000"/><stop offset="93.15%" stop-color="#bd0000"/><stop offset="95.65%" stop-color="#ae0000"/><stop offset="99.93%" stop-color="#aa0000"/></linearGradient><linearGradient id="r47" x1="0" x2="1" y1="0" y2="0"><stop offset="0%" stop-color="#c30000"/><stop offset="4.94%" stop-color="#ca0000"/><stop offset="7.06%" stop-color="#d90000"/><stop offset="8.82%" stop-color="#f30000"/><stop offset="9.53%" stop-color="#ff0400"/><stop offset="10.23%" stop-color="#ff1900"/><stop offset="10.94%" stop-color="#ff3a00"/><stop offset="11.29%" stop-color="#ff5100"/><stop offset="11.64%" stop-color="#ff6d00"/><stop offset="12.35%" stop-color="#ffb600"/><stop offset="12.7%" stop-color="#ffe000"/><stop offset="13.05%" stop-color="#ffe300"/><stop offset="13.41%" stop-color="#f6ff09"/><stop offset="14.11%" stop-color="#b6ff49"/><stop offset="14.82%" stop-color="#88ff77"/><stop offset="15.88%" stop-color="#5affa5"/><stop offset="17.29%" stop-color="#25ffda"/><stop offset="17.99%" stop-color="#00ffff"/><stop offset="18.7%" stop-color="#00caff"/><stop offset="19.4%" stop-color="#0083ff"/><stop offset="19.76%" stop-color="#005bff"/><stop offset="20.11%" stop-color="#0054ff"/><stop offset="20.82%" stop-color="#0006ff"/><stop offset="21.17%" stop-color="#0000e7"/><stop offset="21.52%" stop-color="#0000cf"/><stop offset="22.23%" stop-color="#0000b0"/><stop offset="22.93%" stop-color="#0000a0"/><stop offset="24.34%" stop-color="#000095"/><stop offset="49.04%" stop-color="#000093"/><stop offset="69.86%" stop-color="#000095"/><stop offset="71.27%" stop-color="#00009e"/><stop offset="71.97%" stop-color="#0000aa"/><stop offset="72.68%" stop-color="#0000c3"/><stop offset="73.03%" stop-color="#0000d6"/><stop offset="73.38%" stop-color="#0000f1"/><stop offset="73.74%" stop-color="#0012ff"/><stop offset="74.44%" stop-color="#0064ff"/><stop offset="74.79%" stop-color="#006aff"/><stop offset="75.5%" stop-color="#00b2ff"/><stop offset="75.85%" stop-color="#00d0ff"/><stop offset="76.56%" stop-color="#00fcff"/><stop offset="77.62%" stop-color="#22ffdd"/><stop offset="79.38%" stop-color="#41ffbe"/><stop offset="83.61%" stop-color="#79ff86"/><stop offset="84.67%" stop-color="#92ff6d"/><stop offset="85.38%" stop-color="#aeff51"/><stop offset="86.08%" stop-color="#daff25"/><stop offset="86.44%" stop-color="#f8ff07"/><stop offset="86.79%" stop-color="#ffe400"/><stop offset="87.14%" stop-color="#ffbf00"/><stop offset="87.5%" stop-color="#ffba00"/><stop offset="88.2%" stop-color="#ff6b00"/><stop offset="88.55%" stop-color="#ff4b00"/><stop offset="88.91%" stop-color="#ff3100"/><stop offset="89.61%" stop-color="#ff0c00"/><stop offset="89.97%" stop-color="#fe0000"/><stop offset="91.38%" stop-color="#dc0000"/><stop offset="93.14%" stop-color="#c30000"/><stop offset="95.61%" stop-color="#b40000"/><stop offset="99.84%" stop-color="#b00000"/></linearGradient><linearGradient id="r48" x1="0" x2="1" y1="0" y2="0"><stop offset="0%" stop-color="#bf0000"/><stop offset="5.18%" stop-color="#c60000"/><stop offset="7.4%" stop-color="#d60000"/><stop offset="9.25%" stop-color="#f30000"/><stop offset="9.99%" stop-color="#ff0400"/><stop offset="11.1%" stop-color="#ff2900"/><stop offset="11.84%" stop-color="#ff5300"/><stop offset="12.21%" stop-color="#ff6f00"/><stop offset="12.95%" stop-color="#ffb700"/><stop offset="13.32%" stop-color="#ffdf00"/><stop offset="13.69%" stop-color="#ffe100"/><stop offset="14.06%" stop-color="#f9ff06"/><stop offset="14.8%" stop-color="#bdff42"/><stop offset="15.54%" stop-color="#91ff6e"/><stop offset="16.66%" stop-color="#67ff98"/><stop offset="18.88%" stop-color="#28ffd7"/><stop offset="19.62%" stop-color="#0afff5"/><stop offset="19.99%" stop-color="#00f5ff"/><stop offset="20.73%" stop-color="#00c0ff"/><stop offset="21.47%" stop-color="#0079ff"/><stop offset="21.84%" stop-color="#0052ff"/><stop offset="22.21%" stop-color="#004bff"/><stop offset="22.58%" stop-color="#0023ff"/><stop offset="22.95%" stop-color="#0000ff"/><stop offset="23.32%" stop-color="#0000e3"/><stop offset="23.69%" stop-color="#0000cc"/><stop offset="24.43%" stop-color="#0000af"/><stop offset="25.54%" stop-color="#00009c"/><stop offset="27.76%" stop-color="#000094"/><stop offset="66.25%" stop-color="#000095"/><stop offset="67.73%" stop-color="#00009c"/><stop offset="68.84%" stop-color="#0000af"/><stop offset="69.58%" stop-color="#0000cc"/><stop offset="69.95%" stop-color="#0000e3"/><stop offset="70.32%" stop-color="#0000ff"/><stop offset="70.69%" stop-color="#0024ff"/><stop offset="71.06%" stop-color="#004cff"/><stop offset="71.43%" stop-color="#0054ff"/><stop offset="72.17%" stop-color="#009eff"/><stop offset="72.54%" stop-color="#00bfff"/><stop offset="72.91%" stop-color="#00daff"/><stop offset="73.28%" stop-color="#00f0ff"/><stop offset="73.65%" stop-color="#03fffc"/><stop offset="74.39%" stop-color="#1bffe4"/><stop offset="75.87%" stop-color="#36ffc9"/><stop offset="82.54%" stop-color="#7eff81"/><stop offset="83.65%" stop-color="#93ff6c"/><stop offset="84.39%" stop-color="#aaff55"/><stop offset="85.13%" stop-color="#ceff31"/><stop offset="85.5%" stop-color="#e8ff17"/><stop offset="85.87%" stop-color="#fff800"/><stop offset="86.61%" stop-color="#ffb200"/><stop offset="86.98%" stop-color="#ffad00"/><stop offset="87.72%" stop-color="#ff6100"/><stop offset="88.09%" stop-color="#ff4300"/><stop offset="88.83%" stop-color="#ff1700"/><stop offset="89.2%" stop-color="#ff0700"/><stop offset="89.57%" stop-color="#fa0000"/><stop offset="91.05%" stop-color="#d70000"/><stop offset="92.9%" stop-color="#bd0000"/><stop offset="95.49%" stop-color="#ad0000"/><stop offset="99.93%" stop-color="#a80000"/></linearGradient><linearGradient id="r49" x1="0" x2="1" y1="0" y2="0"><stop offset="0%" stop-color="#cd0000"/><stop offset="5.22%" stop-color="#d30000"/><stop offset="7.45%" stop-color="#e20000"/><stop offset="9.32%" stop-color="#fc0000"/><stop offset="10.06%" stop-color="#ff0d00"/><stop offset="10.81%" stop-color="#ff2200"/><stop offset="11.55%" stop-color="#ff4300"/><stop offset="11.93%" stop-color="#ff5a00"/><stop offset="12.3%" stop-color="#ff7600"/><stop offset="13.04%" stop-color="#ffbd00"/><stop offset="13.42%" stop-color="#ffe500"/><stop offset="13.79%" stop-color="#ffe500"/><stop offset="14.16%" stop-color="#f6ff09"/><stop offset="14.91%" stop-color="#bcff43"/><stop offset="15.65%" stop-color="#92ff6d"/><stop offset="16.77%" stop-color="#6bff94"/><stop offset="20.12%" stop-color="#23ffdc"/><stop offset="21.24%" stop-color="#00fcff"/><stop offset="21.99%" stop-color="#00d2ff"/><stop offset="22.73%" stop-color="#0097ff"/><stop offset="23.48%" stop-color="#004eff"/><stop offset="23.85%" stop-color="#004aff"/><stop offset="24.6%" stop-color="#0001ff"/><stop offset="25.34%" stop-color="#0000ce"/><stop offset="26.09%" stop-color="#0000b0"/><stop offset="27.2%" stop-color="#00009c"/><stop offset="29.44%" stop-color="#000093"/><stop offset="63.35%" stop-color="#000095"/><stop offset="64.84%" stop-color="#00009e"/><stop offset="65.59%" stop-color="#0000aa"/><stop offset="66.33%" stop-color="#0000c2"/><stop offset="66.71%" stop-color="#0000d5"/><stop offset="67.08%" stop-color="#0000ed"/><stop offset="67.45%" stop-color="#000cff"/><stop offset="68.2%" stop-color="#0059ff"/><stop offset="68.57%" stop-color="#005dff"/><stop offset="69.32%" stop-color="#00a3ff"/><stop offset="70.06%" stop-color="#00d9ff"/><stop offset="70.81%" stop-color="#00fdff"/><stop offset="71.92%" stop-color="#1bffe4"/><stop offset="74.16%" stop-color="#37ffc8"/><stop offset="81.99%" stop-color="#7aff85"/><stop offset="83.48%" stop-color="#91ff6e"/><stop offset="84.22%" stop-color="#a7ff58"/><stop offset="84.97%" stop-color="#caff35"/><stop offset="85.71%" stop-color="#ffff00"/><stop offset="86.46%" stop-color="#ffbb00"/><stop offset="86.83%" stop-color="#ffb700"/><stop offset="87.58%" stop-color="#ff6b00"/><stop offset="87.95%" stop-color="#ff4c00"/><stop offset="88.69%" stop-color="#ff1f00"/><stop offset="89.44%" stop-color="#ff0200"/><stop offset="90.93%" stop-color="#df0000"/><stop offset="93.17%" stop-color="#c30000"/><stop offset="96.15%" stop-color="#b60000"/><stop offset="99.87%" stop-color="#b30000"/></linearGradient><linearGradient id="r50" x1="0" x2="1" y1="0" y2="0"><stop offset="0%" stop-color="#c80000"/><stop offset="5.11%" stop-color="#cf0000"/><stop offset="7.3%" stop-color="#e00000"/><stop offset="9.13%" stop-color="#fc0000"/><stop offset="9.86%" stop-color="#ff0e00"/><stop offset="10.95%" stop-color="#ff3300"/><stop offset="11.68%" stop-color="#ff5c00"/><stop offset="12.41%" stop-color="#ff9900"/><stop offset="13.14%" stop-color="#ffe400"/><stop offset="13.51%" stop-color="#ffe300"/><stop offset="13.87%" stop-color="#faff05"/><stop offset="14.61%" stop-color="#c2ff3d"/><stop offset="15.34%" stop-color="#9aff65"/><stop offset="16.43%" stop-color="#75ff8a"/><stop offset="18.26%" stop-color="#52ffad"/><stop offset="20.81%" stop-color="#29ffd6"/><stop offset="21.91%" stop-color="#0cfff3"/><stop offset="22.27%" stop-color="#00feff"/><stop offset="23%" stop-color="#00d9ff"/><stop offset="23.73%" stop-color="#00a3ff"/><stop offset="24.46%" stop-color="#005eff"/><stop offset="24.83%" stop-color="#005cff"/><stop offset="25.56%" stop-color="#0011ff"/><stop offset="25.92%" stop-color="#0000f2"/><stop offset="26.29%" stop-color="#0000d9"/><stop offset="27.02%" stop-color="#0000b7"/><stop offset="27.75%" stop-color="#0000a5"/><stop offset="29.21%" stop-color="#000097"/><stop offset="35.78%" stop-color="#000092"/><stop offset="60.98%" stop-color="#000096"/><stop offset="62.44%" stop-color="#00009e"/><stop offset="63.53%" stop-color="#0000b3"/><stop offset="64.26%" stop-color="#0000d2"/><stop offset="64.63%" stop-color="#0000e9"/><stop offset="64.99%" stop-color="#0006ff"/><stop offset="65.72%" stop-color="#004fff"/><stop offset="66.09%" stop-color="#0054ff"/><stop offset="66.82%" stop-color="#009aff"/><stop offset="67.55%" stop-color="#00d2ff"/><stop offset="68.28%" stop-color="#00f7ff"/><stop offset="68.64%" stop-color="#05fffa"/><stop offset="69.74%" stop-color="#1effe1"/><stop offset="72.3%" stop-color="#38ffc7"/><stop offset="82.15%" stop-color="#80ff7f"/><stop offset="83.61%" stop-color="#95ff6a"/><stop offset="84.34%" stop-color="#a7ff58"/><stop offset="85.08%" stop-color="#c6ff39"/><stop offset="85.81%" stop-color="#f4ff0b"/><stop offset="86.17%" stop-color="#ffec00"/><stop offset="86.54%" stop-color="#ffcb00"/><stop offset="86.9%" stop-color="#ffcb00"/><stop offset="87.63%" stop-color="#ff7e00"/><stop offset="88%" stop-color="#ff5d00"/><stop offset="88.36%" stop-color="#ff4100"/><stop offset="89.09%" stop-color="#ff1700"/><stop offset="89.46%" stop-color="#ff0800"/><stop offset="89.82%" stop-color="#fb0000"/><stop offset="91.28%" stop-color="#da0000"/><stop offset="93.11%" stop-color="#c10000"/><stop offset="95.66%" stop-color="#b20000"/><stop offset="99.68%" stop-color="#ad0000"/></linearGradient><linearGradient id="r51" x1="0" x2="1" y1="0" y2="0"><stop offset="0%" stop-color="#d40000"/><stop offset="4.93%" stop-color="#db0000"/><stop offset="7.04%" stop-color="#ea0000"/><stop offset="8.45%" stop-color="#fe0000"/><stop offset="9.51%" stop-color="#ff1500"/><stop offset="10.21%" stop-color="#ff2b00"/><stop offset="10.92%" stop-color="#ff4c00"/><stop offset="11.62%" stop-color="#ff7e00"/><stop offset="12.32%" stop-color="#ffc200"/><stop offset="12.68%" stop-color="#ffe800"/><stop offset="13.03%" stop-color="#ffe600"/><stop offset="13.38%" stop-color="#f7ff08"/><stop offset="14.08%" stop-color="#c0ff3f"/><stop offset="14.79%" stop-color="#99ff66"/><stop offset="15.85%" stop-color="#75ff8a"/><stop offset="17.61%" stop-color="#56ffa9"/><stop offset="21.48%" stop-color="#22ffdd"/><stop offset="22.54%" stop-color="#0afff5"/><stop offset="22.89%" stop-color="#00feff"/><stop offset="23.59%" stop-color="#00e0ff"/><stop offset="24.3%" stop-color="#00b3ff"/><stop offset="25%" stop-color="#0077ff"/><stop offset="25.35%" stop-color="#0055ff"/><stop offset="25.7%" stop-color="#0053ff"/><stop offset="26.41%" stop-color="#000cff"/><stop offset="26.76%" stop-color="#0000ee"/><stop offset="27.11%" stop-color="#0000d7"/><stop offset="27.82%" stop-color="#0000b6"/><stop offset="28.52%" stop-color="#0000a5"/><stop offset="29.93%" stop-color="#000097"/><stop offset="36.27%" stop-color="#000092"/><stop offset="59.15%" stop-color="#000096"/><stop offset="60.56%" stop-color="#00009e"/><stop offset="61.62%" stop-color="#0000b4"/><stop offset="62.32%" stop-color="#0000d1"/><stop offset="63.03%" stop-color="#0004ff"/><stop offset="63.73%" stop-color="#004aff"/><stop offset="64.08%" stop-color="#0072ff"/><stop offset="64.44%" stop-color="#0070ff"/><stop offset="65.14%" stop-color="#00afff"/><stop offset="65.85%" stop-color="#00ddff"/><stop offset="66.55%" stop-color="#00fbff"/><stop offset="67.25%" stop-color="#0efff1"/><stop offset="69.01%" stop-color="#25ffda"/><stop offset="82.75%" stop-color="#7fff80"/><stop offset="84.15%" stop-color="#93ff6c"/><stop offset="84.86%" stop-color="#a5ff5a"/><stop offset="85.56%" stop-color="#c2ff3d"/><stop offset="86.27%" stop-color="#efff10"/><stop offset="86.62%" stop-color="#fff200"/><stop offset="86.97%" stop-color="#ffd100"/><stop offset="87.32%" stop-color="#ffd300"/><stop offset="88.03%" stop-color="#ff8600"/><stop offset="88.73%" stop-color="#ff4900"/><stop offset="89.44%" stop-color="#ff1e00"/><stop offset="90.14%" stop-color="#ff0300"/><stop offset="91.9%" stop-color="#db0000"/><stop offset="94.01%" stop-color="#c40000"/><stop offset="97.18%" stop-color="#b90000"/><stop offset="100%" stop-color="#b70000"/></linearGradient><clipPath id="clipA"><rect x="61" y="9.2" width="430" height="406.7"/></clipPath><linearGradient id="jet" x1="0" x2="0" y1="0" y2="1"><stop offset="0" stop-color="#800000"/><stop offset="0.12" stop-color="#ff0000"/><stop offset="0.38" stop-color="#ffff00"/><stop offset="0.62" stop-color="#00ffff"/><stop offset="0.88" stop-color="#0000ff"/><stop offset="1" stop-color="#000080"/></linearGradient><clipPath id="clipB"><rect x="690.5" y="9.2" width="563.5" height="412.6"/></clipPath><clipPath id="clipC"><rect x="1355.5" y="9.4" width="284.3" height="407"/></clipPath></defs><rect width="1652" height="478" fill="#fff"/><g clip-path="url(#clipA)">
<rect x="60" y="9.2" width="243.6" height="13.86" fill="#800000" shape-rendering="crispEdges"/>
<rect x="303.6" y="9.2" width="188.4" height="13.86" fill="#800000" shape-rendering="crispEdges"/>
<rect x="60" y="22.76" width="249.25" height="13.86" fill="#800000" shape-rendering="crispEdges"/>
<rect x="309.25" y="22.76" width="182.75" height="13.86" fill="#800000" shape-rendering="crispEdges"/>
<rect x="60" y="36.31" width="255.75" height="13.86" fill="#810000" shape-rendering="crispEdges"/>
<rect x="315.75" y="36.31" width="176.25" height="13.86" fill="#810000" shape-rendering="crispEdges"/>
<rect x="60" y="49.87" width="260.2" height="13.86" fill="#810000" shape-rendering="crispEdges"/>
<rect x="320.2" y="49.87" width="171.8" height="13.86" fill="#810000" shape-rendering="crispEdges"/>
<rect x="60" y="63.43" width="261.9" height="7.08" fill="#810000" shape-rendering="crispEdges"/>
<rect x="321.9" y="63.43" width="170.1" height="7.08" fill="#810000" shape-rendering="crispEdges"/>
<rect x="60" y="70.21" width="264.25" height="7.08" fill="#810000" shape-rendering="crispEdges"/>
<rect x="324.25" y="70.21" width="167.75" height="7.08" fill="#810000" shape-rendering="crispEdges"/>
<rect x="60" y="76.98" width="267.15" height="7.08" fill="#820000" shape-rendering="crispEdges"/>
<rect x="327.15" y="76.98" width="164.85" height="7.08" fill="#820000" shape-rendering="crispEdges"/>
<rect x="60" y="83.76" width="269.05" height="7.08" fill="#830000" shape-rendering="crispEdges"/>
<rect x="329.05" y="83.76" width="162.95" height="7.08" fill="#820000" shape-rendering="crispEdges"/>
<rect x="60" y="90.54" width="270.95" height="7.08" fill="#840000" shape-rendering="crispEdges"/>
<rect x="330.95" y="90.54" width="161.05" height="7.08" fill="#830000" shape-rendering="crispEdges"/>
<rect x="60" y="97.32" width="272.69" height="7.08" fill="#840000" shape-rendering="crispEdges"/>
<rect x="332.69" y="97.32" width="159.31" height="7.08" fill="#840000" shape-rendering="crispEdges"/>
<rect x="60" y="104.1" width="274.43" height="7.08" fill="#850000" shape-rendering="crispEdges"/>
<rect x="334.43" y="104.1" width="157.57" height="7.08" fill="#840000" shape-rendering="crispEdges"/>
<rect x="60" y="110.87" width="276.08" height="7.08" fill="#830000" shape-rendering="crispEdges"/>
<rect x="336.08" y="110.87" width="155.92" height="7.08" fill="#820000" shape-rendering="crispEdges"/>
<rect x="60" y="117.65" width="277.64" height="7.08" fill="#850000" shape-rendering="crispEdges"/>
<rect x="337.64" y="117.65" width="154.36" height="7.08" fill="#820000" shape-rendering="crispEdges"/>
<rect x="60" y="124.43" width="279.1" height="7.08" fill="#8b0000" shape-rendering="crispEdges"/>
<rect x="339.1" y="124.43" width="152.9" height="7.08" fill="#880000" shape-rendering="crispEdges"/>
<rect x="60" y="131.21" width="280.5" height="7.08" fill="#870000" shape-rendering="crispEdges"/>
<rect x="340.5" y="131.21" width="151.5" height="7.08" fill="#850000" shape-rendering="crispEdges"/>
<rect x="60" y="137.99" width="281.63" height="7.08" fill="#8b0000" shape-rendering="crispEdges"/>
<rect x="341.63" y="137.99" width="150.37" height="7.08" fill="#890000" shape-rendering="crispEdges"/>
<rect x="60" y="144.77" width="282.67" height="7.08" fill="#910000" shape-rendering="crispEdges"/>
<rect x="342.67" y="144.77" width="149.33" height="7.08" fill="#8f0000" shape-rendering="crispEdges"/>
<rect x="60" y="151.54" width="283.75" height="7.08" fill="#970000" shape-rendering="crispEdges"/>
<rect x="343.75" y="151.54" width="148.25" height="7.08" fill="#960000" shape-rendering="crispEdges"/>
<rect x="60" y="158.32" width="284.74" height="7.08" fill="#a00000" shape-rendering="crispEdges"/>
<rect x="344.74" y="158.32" width="147.26" height="7.08" fill="#9e0000" shape-rendering="crispEdges"/>
<rect x="60" y="165.1" width="285.5" height="7.08" fill="#9f0000" shape-rendering="crispEdges"/>
<rect x="345.5" y="165.1" width="146.5" height="7.08" fill="#9a0000" shape-rendering="crispEdges"/>
<rect x="60" y="171.88" width="286.25" height="7.08" fill="#a20000" shape-rendering="crispEdges"/>
<rect x="346.25" y="171.88" width="145.75" height="7.08" fill="#9d0000" shape-rendering="crispEdges"/>
<rect x="60" y="178.66" width="286.72" height="7.08" fill="#a20000" shape-rendering="crispEdges"/>
<rect x="346.72" y="178.66" width="145.28" height="7.08" fill="#9c0000" shape-rendering="crispEdges"/>
<rect x="60" y="185.44" width="287.19" height="7.08" fill="#ab0000" shape-rendering="crispEdges"/>
<rect x="347.19" y="185.44" width="144.81" height="7.08" fill="#a40000" shape-rendering="crispEdges"/>
<rect x="60" y="192.21" width="287.53" height="7.08" fill="#a80000" shape-rendering="crispEdges"/>
<rect x="347.53" y="192.21" width="144.47" height="7.08" fill="#a00000" shape-rendering="crispEdges"/>
<rect x="60" y="198.99" width="287.84" height="7.08" fill="#a70000" shape-rendering="crispEdges"/>
<rect x="347.84" y="198.99" width="144.16" height="7.08" fill="#9f0000" shape-rendering="crispEdges"/>
<rect x="60" y="205.77" width="287.95" height="7.08" fill="#a80000" shape-rendering="crispEdges"/>
<rect x="347.95" y="205.77" width="144.05" height="7.08" fill="#9f0000" shape-rendering="crispEdges"/>
<rect x="60" y="212.55" width="287.84" height="7.08" fill="#b00000" shape-rendering="crispEdges"/>
<rect x="347.84" y="212.55" width="144.16" height="7.08" fill="#a60000" shape-rendering="crispEdges"/>
<rect x="60" y="219.33" width="287.65" height="7.08" fill="#b00000" shape-rendering="crispEdges"/>
<rect x="347.65" y="219.33" width="144.35" height="7.08" fill="#a70000" shape-rendering="crispEdges"/>
<rect x="60" y="226.11" width="287.02" height="7.08" fill="#ad0000" shape-rendering="crispEdges"/>
<rect x="347.02" y="226.11" width="144.98" height="7.08" fill="#a40000" shape-rendering="crispEdges"/>
<rect x="60" y="232.88" width="286.31" height="7.08" fill="#ae0000" shape-rendering="crispEdges"/>
<rect x="346.31" y="232.88" width="145.69" height="7.08" fill="#a40000" shape-rendering="crispEdges"/>
<rect x="60" y="239.66" width="285.51" height="7.08" fill="#b00000" shape-rendering="crispEdges"/>
<rect x="345.51" y="239.66" width="146.49" height="7.08" fill="#a60000" shape-rendering="crispEdges"/>
<rect x="60" y="246.44" width="284.62" height="7.08" fill="#ad0000" shape-rendering="crispEdges"/>
<rect x="344.62" y="246.44" width="147.38" height="7.08" fill="#a40000" shape-rendering="crispEdges"/>
<rect x="60" y="253.22" width="283.79" height="7.08" fill="#af0000" shape-rendering="crispEdges"/>
<rect x="343.79" y="253.22" width="148.21" height="7.08" fill="#a50000" shape-rendering="crispEdges"/>
<rect x="60" y="260" width="283.01" height="7.08" fill="#b40000" shape-rendering="crispEdges"/>
<rect x="343.01" y="260" width="148.99" height="7.08" fill="#aa0000" shape-rendering="crispEdges"/>
<rect x="60" y="266.78" width="282.18" height="7.08" fill="#b40000" shape-rendering="crispEdges"/>
<rect x="342.18" y="266.78" width="149.82" height="7.08" fill="#a90000" shape-rendering="crispEdges"/>
<rect x="60" y="273.55" width="281.12" height="7.08" fill="#b30000" shape-rendering="crispEdges"/>
<rect x="341.12" y="273.55" width="150.88" height="7.08" fill="#a90000" shape-rendering="crispEdges"/>
<rect x="60" y="280.33" width="279.9" height="7.08" fill="#af0000" shape-rendering="crispEdges"/>
<rect x="339.9" y="280.33" width="152.1" height="7.08" fill="#a40000" shape-rendering="crispEdges"/>
<rect x="60" y="287.11" width="278.58" height="7.08" fill="#b00000" shape-rendering="crispEdges"/>
<rect x="338.58" y="287.11" width="153.42" height="7.08" fill="#a40000" shape-rendering="crispEdges"/>
<rect x="60" y="293.89" width="277.35" height="7.08" fill="#b30000" shape-rendering="crispEdges"/>
<rect x="337.35" y="293.89" width="154.65" height="7.08" fill="#a70000" shape-rendering="crispEdges"/>
<rect x="60" y="300.67" width="275.95" height="7.08" fill="#b20000" shape-rendering="crispEdges"/>
<rect x="335.95" y="300.67" width="156.05" height="7.08" fill="#a50000" shape-rendering="crispEdges"/>
<rect x="60" y="307.45" width="274.15" height="7.08" fill="#b30000" shape-rendering="crispEdges"/>
<rect x="334.15" y="307.45" width="157.85" height="7.08" fill="#a70000" shape-rendering="crispEdges"/>
<rect x="60" y="314.22" width="272.15" height="7.08" fill="#ba0000" shape-rendering="crispEdges"/>
<rect x="332.15" y="314.22" width="159.85" height="7.08" fill="#ac0000" shape-rendering="crispEdges"/>
<rect x="60" y="321" width="270.28" height="7.08" fill="#b50000" shape-rendering="crispEdges"/>
<rect x="330.28" y="321" width="161.72" height="7.08" fill="#a80000" shape-rendering="crispEdges"/>
<rect x="60" y="327.78" width="268.3" height="7.08" fill="#bd0000" shape-rendering="crispEdges"/>
<rect x="328.3" y="327.78" width="163.7" height="7.08" fill="#ae0000" shape-rendering="crispEdges"/>
<rect x="60" y="334.56" width="266.48" height="7.08" fill="#be0000" shape-rendering="crispEdges"/>
<rect x="326.48" y="334.56" width="165.52" height="7.08" fill="#af0000" shape-rendering="crispEdges"/>
<rect x="60" y="341.34" width="264.63" height="7.08" fill="#bf0000" shape-rendering="crispEdges"/>
<rect x="324.63" y="341.34" width="167.37" height="7.08" fill="#af0000" shape-rendering="crispEdges"/>
<rect x="60" y="348.12" width="262.4" height="7.08" fill="#bb0000" shape-rendering="crispEdges"/>
<rect x="322.4" y="348.12" width="169.6" height="7.08" fill="#a90000" shape-rendering="crispEdges"/>
<rect x="60" y="354.89" width="259.8" height="7.08" fill="#c30000" shape-rendering="crispEdges"/>
<rect x="319.8" y="354.89" width="172.2" height="7.08" fill="#af0000" shape-rendering="crispEdges"/>
<rect x="60" y="361.67" width="252.95" height="13.86" fill="#be0000" shape-rendering="crispEdges"/>
<rect x="312.95" y="361.67" width="179.05" height="13.86" fill="#a80000" shape-rendering="crispEdges"/>
<rect x="60" y="375.23" width="246.6" height="13.86" fill="#cc0000" shape-rendering="crispEdges"/>
<rect x="306.6" y="375.23" width="185.4" height="13.86" fill="#b30000" shape-rendering="crispEdges"/>
<rect x="60" y="388.79" width="240.9" height="13.86" fill="#c80000" shape-rendering="crispEdges"/>
<rect x="300.9" y="388.79" width="191.1" height="13.86" fill="#ad0000" shape-rendering="crispEdges"/>
<rect x="60" y="402.34" width="234.4" height="13.86" fill="#d40000" shape-rendering="crispEdges"/>
<rect x="294.4" y="402.34" width="197.6" height="13.86" fill="#b70000" shape-rendering="crispEdges"/>
<g transform="translate(61 212.55) scale(2.15 -6.78)" shape-rendering="crispEdges">
<path d="M6 -26h1V-28h-1zM22 -20h1V-24h-1zM29 4h1V1h-1zM30 -2h1V-7h-1zM30 -21h1V-30h-1zM35 -9h1V-13h-1zM38 -15h1V-17h-1zM47 -7h1V-9h-1zM50 3h1V-2h-1zM50 -22h1V-26h-1zM53 -1h1V-5h-1zM53 -21h1V-24h-1zM64 -8h1V-14h-1zM68 -20h1V-24h-1zM86 -3h1V-9h-1zM86 -18h1V-24h-1zM87 -12h1V-16h-1zM91 -5h1V-10h-1zM91 -10h1V-13h-1zM96 3h1V-2h-1zM96 -20h1V-21h-1zM107 -1h1V-4h-1zM107 -9h1V-10h-1zM119 2h1V0h-1zM137 -2h1V-8h-1z" fill="#5a0000" fill-opacity="0.35"/>
<path d="M1 -6h1V-9h-1zM9 -8h1V-12h-1zM9 -12h1V-16h-1zM11 -5h1V-11h-1zM29 -20h1V-22h-1zM30 -19h1V-21h-1zM35 -20h1V-28h-1zM38 -17h1V-20h-1zM40 -1h1V-6h-1zM40 -8h1V-10h-1zM45 -19h1V-28h-1zM50 -9h1V-13h-1zM50 -13h1V-19h-1zM57 -8h1V-11h-1zM60 -9h1V-14h-1zM68 -1h1V-4h-1zM68 -7h1V-13h-1zM68 -24h1V-30h-1zM71 -28h1V-30h-1zM79 1h1V-1h-1zM87 -21h1V-24h-1zM88 4h1V-1h-1zM91 -3h1V-5h-1zM91 -13h1V-18h-1zM91 -18h1V-26h-1zM93 5h1V1h-1zM93 -6h1V-8h-1zM93 -24h1V-30h-1zM96 -6h1V-12h-1zM96 -21h1V-26h-1zM99 -14h1V-18h-1zM101 -2h1V-4h-1zM107 4h1V-1h-1zM107 -21h1V-26h-1zM108 -20h1V-24h-1zM111 0h1V-1h-1zM111 -15h1V-20h-1zM118 -22h1V-30h-1zM119 0h1V-3h-1zM125 3h1V0h-1zM131 0h1V-2h-1zM131 -2h1V-5h-1zM131 -5h1V-7h-1zM131 -7h1V-10h-1zM131 -10h1V-13h-1zM134 2h1V1h-1zM134 1h1V-2h-1zM139 3h1V-3h-1zM160 1h1V-4h-1zM178 -20h1V-22h-1zM181 -11h1V-16h-1z" fill="#5a0000" fill-opacity="0.28"/>
<path d="M0 -24h1V-28h-1zM1 3h1V1h-1zM1 -10h1V-12h-1zM1 -15h1V-19h-1zM1 -19h1V-22h-1zM1 -22h1V-30h-1zM4 -8h1V-11h-1zM4 -18h1V-24h-1zM8 -6h1V-11h-1zM9 -1h1V-5h-1zM11 7h1V4h-1zM11 -14h1V-19h-1zM11 -22h1V-30h-1zM13 -9h1V-14h-1zM13 -28h1V-30h-1zM15 1h1V-2h-1zM16 -5h1V-7h-1zM19 -12h1V-13h-1zM21 -14h1V-15h-1zM22 -24h1V-30h-1zM24 -2h1V-7h-1zM24 -7h1V-11h-1zM24 -11h1V-17h-1zM26 -19h1V-22h-1zM29 -9h1V-10h-1zM30 -7h1V-13h-1zM35 5h1V0h-1zM35 -13h1V-15h-1zM35 -28h1V-30h-1zM38 -20h1V-28h-1zM38 -28h1V-30h-1zM39 -5h1V-10h-1zM39 -24h1V-30h-1zM40 -19h1V-21h-1zM42 4h1V3h-1zM44 -18h1V-21h-1zM47 -5h1V-7h-1zM47 -10h1V-12h-1zM49 -14h1V-16h-1zM50 -2h1V-6h-1zM50 -6h1V-9h-1zM53 5h1V-1h-1zM53 -5h1V-8h-1zM55 3h1V-1h-1zM55 -9h1V-12h-1zM55 -12h1V-14h-1zM57 3h1V1h-1zM57 -21h1V-30h-1zM63 -8h1V-9h-1zM64 -20h1V-21h-1zM72 2h1V-2h-1zM72 -28h1V-30h-1zM73 5h1V4h-1zM73 -13h1V-19h-1zM85 -5h1V-8h-1zM86 -2h1V-3h-1zM87 -5h1V-6h-1zM88 -4h1V-6h-1zM88 -7h1V-12h-1zM88 -20h1V-24h-1zM88 -28h1V-30h-1zM89 -15h1V-17h-1zM91 -26h1V-30h-1zM95 3h1V2h-1zM95 -4h1V-7h-1zM96 -2h1V-6h-1zM97 3h1V0h-1zM97 -19h1V-26h-1zM101 -8h1V-11h-1zM101 -11h1V-14h-1zM101 -14h1V-17h-1zM101 -20h1V-26h-1zM102 -4h1V-6h-1zM102 -10h1V-12h-1zM102 -18h1V-20h-1zM102 -20h1V-21h-1zM102 -21h1V-24h-1zM107 -18h1V-21h-1zM107 -26h1V-30h-1zM109 -7h1V-11h-1zM111 1h1V0h-1zM111 -1h1V-3h-1zM111 -6h1V-9h-1zM111 -9h1V-15h-1zM114 8h1V5h-1zM114 -13h1V-17h-1zM115 -13h1V-16h-1zM118 5h1V3h-1zM119 -8h1V-10h-1zM120 -6h1V-10h-1zM121 6h1V0h-1zM125 0h1V-2h-1zM125 -2h1V-5h-1zM125 -17h1V-20h-1zM126 -8h1V-14h-1zM126 -21h1V-26h-1zM127 -2h1V-6h-1zM127 -6h1V-12h-1zM129 -20h1V-26h-1zM131 -14h1V-20h-1zM131 -20h1V-22h-1zM134 -11h1V-14h-1zM135 -4h1V-8h-1zM139 -3h1V-4h-1zM152 0h1V-2h-1zM152 -2h1V-4h-1zM152 -13h1V-19h-1zM155 -1h1V-3h-1zM162 2h1V-2h-1zM165 -9h1V-12h-1zM165 -18h1V-21h-1zM171 -1h1V-7h-1zM194 -10h1V-11h-1zM194 -17h1V-24h-1z" fill="#5a0000" fill-opacity="0.21"/>
<path d="M0 -2h1V-4h-1zM0 -18h1V-24h-1zM1 6h1V3h-1zM2 -9h1V-12h-1zM4 4h1V1h-1zM5 -26h1V-30h-1zM7 -6h1V-12h-1zM9 -5h1V-8h-1zM9 -22h1V-30h-1zM10 -8h1V-11h-1zM11 1h1V0h-1zM11 -3h1V-5h-1zM14 9h1V8h-1zM14 3h1V1h-1zM14 -16h1V-21h-1zM14 -26h1V-28h-1zM16 8h1V2h-1zM16 -28h1V-30h-1zM18 -4h1V-6h-1zM18 -6h1V-8h-1zM18 -8h1V-9h-1zM19 2h1V-1h-1zM19 -3h1V-6h-1zM19 -6h1V-8h-1zM20 -9h1V-12h-1zM20 -20h1V-24h-1zM21 0h1V-1h-1zM21 -28h1V-30h-1zM22 -4h1V-6h-1zM22 -12h1V-15h-1zM23 5h1V3h-1zM23 -1h1V-6h-1zM23 -9h1V-12h-1zM24 9h1V7h-1zM24 3h1V-2h-1zM24 -26h1V-30h-1zM25 -4h1V-7h-1zM28 4h1V2h-1zM29 -5h1V-9h-1zM29 -10h1V-12h-1zM29 -18h1V-19h-1zM29 -19h1V-20h-1zM30 0h1V-2h-1zM30 -13h1V-19h-1zM32 -12h1V-14h-1zM33 -13h1V-18h-1zM35 10h1V5h-1zM35 0h1V-3h-1zM35 -3h1V-7h-1zM35 -7h1V-9h-1zM35 -15h1V-20h-1zM36 6h1V4h-1zM36 4h1V-2h-1zM36 -12h1V-14h-1zM37 5h1V2h-1zM37 2h1V-2h-1zM37 -2h1V-3h-1zM37 -13h1V-15h-1zM38 -10h1V-15h-1zM39 0h1V-1h-1zM40 -17h1V-19h-1zM42 3h1V-1h-1zM42 -8h1V-13h-1zM42 -13h1V-18h-1zM42 -18h1V-22h-1zM42 -22h1V-26h-1zM42 -26h1V-30h-1zM46 -6h1V-9h-1zM46 -12h1V-14h-1zM47 1h1V-5h-1zM47 -18h1V-21h-1zM48 -14h1V-17h-1zM49 -5h1V-7h-1zM49 -11h1V-14h-1zM49 -22h1V-28h-1zM50 13h1V10h-1zM50 -19h1V-22h-1zM50 -26h1V-30h-1zM51 -8h1V-11h-1zM52 2h1V-4h-1zM52 -5h1V-9h-1zM52 -9h1V-15h-1zM54 -18h1V-26h-1zM55 -19h1V-22h-1zM56 -22h1V-26h-1zM56 -26h1V-30h-1zM57 9h1V6h-1zM57 1h1V-5h-1zM57 -19h1V-21h-1zM60 5h1V0h-1zM60 0h1V-4h-1zM60 -4h1V-9h-1zM62 -13h1V-18h-1zM62 -18h1V-19h-1zM62 -19h1V-21h-1zM63 -5h1V-6h-1zM64 -14h1V-17h-1zM64 -17h1V-20h-1zM64 -21h1V-24h-1zM65 -4h1V-7h-1zM65 -19h1V-24h-1zM67 -7h1V-10h-1zM68 7h1V1h-1zM68 -17h1V-20h-1zM69 -22h1V-30h-1zM70 -6h1V-12h-1zM71 2h1V0h-1zM71 0h1V-3h-1zM72 -2h1V-4h-1zM72 -4h1V-8h-1zM72 -13h1V-15h-1zM72 -21h1V-28h-1zM73 -8h1V-13h-1zM75 -6h1V-11h-1zM76 -12h1V-13h-1zM76 -13h1V-15h-1zM76 -15h1V-16h-1zM79 -6h1V-11h-1zM79 -11h1V-14h-1zM79 -14h1V-19h-1zM80 -1h1V-3h-1zM80 -6h1V-8h-1zM80 -18h1V-21h-1zM80 -24h1V-30h-1zM81 -13h1V-15h-1zM84 4h1V2h-1zM85 -20h1V-24h-1zM85 -24h1V-30h-1zM86 -9h1V-12h-1zM87 4h1V1h-1zM87 1h1V-5h-1zM87 -8h1V-12h-1zM87 -24h1V-30h-1zM88 7h1V4h-1zM88 -1h1V-4h-1zM88 -18h1V-20h-1zM89 -11h1V-13h-1zM89 -19h1V-24h-1zM91 9h1V3h-1zM91 3h1V0h-1zM93 1h1V0h-1zM96 -12h1V-15h-1zM96 -26h1V-30h-1zM97 5h1V3h-1zM97 -8h1V-11h-1zM97 -11h1V-14h-1zM97 -15h1V-17h-1zM98 -9h1V-11h-1zM99 -5h1V-9h-1zM100 -16h1V-18h-1zM101 -4h1V-6h-1zM101 -6h1V-8h-1zM101 -17h1V-19h-1zM101 -26h1V-30h-1zM106 -2h1V-6h-1zM107 10h1V4h-1zM107 -4h1V-9h-1zM111 3h1V1h-1zM112 1h1V-2h-1zM114 5h1V-1h-1zM114 -6h1V-8h-1zM115 2h1V-1h-1zM115 -6h1V-11h-1zM115 -28h1V-30h-1zM116 -1h1V-3h-1zM116 -21h1V-26h-1zM118 3h1V0h-1zM118 0h1V-4h-1zM118 -9h1V-12h-1zM119 -4h1V-6h-1zM119 -26h1V-30h-1zM120 3h1V0h-1zM120 -24h1V-30h-1zM125 -20h1V-30h-1zM126 5h1V2h-1zM126 2h1V-4h-1zM126 -26h1V-30h-1zM128 -1h1V-5h-1zM128 -11h1V-17h-1zM128 -24h1V-30h-1zM129 5h1V2h-1zM129 -17h1V-20h-1zM131 8h1V5h-1zM131 5h1V1h-1zM131 1h1V0h-1zM134 -7h1V-9h-1zM134 -14h1V-17h-1zM134 -26h1V-30h-1zM135 0h1V-4h-1zM135 -12h1V-15h-1zM136 -10h1V-16h-1zM136 -16h1V-18h-1zM137 -1h1V-2h-1zM138 3h1V1h-1zM138 -24h1V-28h-1zM139 -4h1V-9h-1zM139 -16h1V-17h-1zM141 -20h1V-24h-1zM142 -11h1V-12h-1zM148 3h1V-1h-1zM152 3h1V0h-1zM152 -6h1V-10h-1zM152 -10h1V-13h-1zM152 -26h1V-30h-1zM153 -24h1V-26h-1zM154 -1h1V-5h-1zM154 -7h1V-10h-1zM154 -15h1V-19h-1zM154 -19h1V-26h-1zM155 5h1V-1h-1zM156 -20h1V-30h-1zM158 1h1V-2h-1zM159 3h1V-1h-1zM159 -3h1V-4h-1zM159 -28h1V-30h-1zM161 -2h1V-8h-1zM161 -19h1V-21h-1zM162 -14h1V-20h-1zM162 -24h1V-30h-1zM166 -20h1V-28h-1zM171 -7h1V-13h-1zM171 -13h1V-19h-1zM171 -26h1V-30h-1zM175 -3h1V-5h-1zM175 -5h1V-10h-1zM175 -10h1V-12h-1zM175 -18h1V-22h-1zM176 5h1V0h-1zM176 0h1V-1h-1zM176 -11h1V-13h-1zM176 -19h1V-21h-1zM177 -2h1V-6h-1zM178 6h1V4h-1zM178 4h1V1h-1zM178 1h1V-3h-1zM178 -7h1V-11h-1zM178 -17h1V-20h-1zM180 -12h1V-15h-1zM180 -15h1V-17h-1zM181 -5h1V-11h-1zM181 -22h1V-26h-1zM181 -26h1V-30h-1zM183 -11h1V-15h-1zM186 1h1V-4h-1zM186 -28h1V-30h-1zM187 -12h1V-17h-1zM188 -16h1V-17h-1zM190 3h1V1h-1zM193 -16h1V-20h-1zM197 -8h1V-11h-1zM197 -11h1V-17h-1z" fill="#5a0000" fill-opacity="0.14"/>
<path d="M0 10h1V9h-1zM0 9h1V4h-1zM0 4h1V1h-1zM0 0h1V-2h-1zM0 -7h1V-9h-1zM0 -28h1V-30h-1zM1 22h1V19h-1zM1 13h1V11h-1zM1 8h1V6h-1zM1 1h1V-2h-1zM1 -9h1V-10h-1zM2 5h1V3h-1zM2 -24h1V-30h-1zM3 0h1V-2h-1zM3 -4h1V-6h-1zM4 -28h1V-30h-1zM5 13h1V11h-1zM5 8h1V7h-1zM5 5h1V3h-1zM5 3h1V-2h-1zM5 -16h1V-19h-1zM6 1h1V0h-1zM6 0h1V-4h-1zM6 -10h1V-13h-1zM6 -16h1V-22h-1zM7 -15h1V-17h-1zM8 12h1V10h-1zM9 16h1V13h-1zM9 10h1V7h-1zM9 7h1V4h-1zM10 10h1V6h-1zM10 2h1V-2h-1zM10 -2h1V-5h-1zM10 -5h1V-8h-1zM10 -18h1V-20h-1zM10 -20h1V-21h-1zM10 -21h1V-26h-1zM11 17h1V15h-1zM11 4h1V1h-1zM11 -19h1V-20h-1zM11 -20h1V-22h-1zM12 -3h1V-9h-1zM13 10h1V8h-1zM14 8h1V3h-1zM14 -5h1V-8h-1zM15 -2h1V-7h-1zM15 -17h1V-19h-1zM15 -19h1V-20h-1zM15 -26h1V-30h-1zM16 11h1V8h-1zM16 -10h1V-16h-1zM16 -16h1V-21h-1zM17 16h1V11h-1zM17 -4h1V-7h-1zM17 -11h1V-17h-1zM17 -28h1V-30h-1zM18 -9h1V-15h-1zM19 20h1V18h-1zM19 12h1V7h-1zM19 -1h1V-3h-1zM19 -8h1V-10h-1zM19 -22h1V-28h-1zM20 8h1V5h-1zM20 5h1V2h-1zM20 -15h1V-18h-1zM20 -24h1V-28h-1zM20 -28h1V-30h-1zM21 9h1V3h-1zM21 3h1V0h-1zM21 -15h1V-21h-1zM22 14h1V13h-1zM22 13h1V10h-1zM22 10h1V9h-1zM23 11h1V5h-1zM23 -12h1V-17h-1zM23 -17h1V-18h-1zM24 11h1V9h-1zM24 -17h1V-18h-1zM24 -18h1V-21h-1zM25 -10h1V-16h-1zM25 -16h1V-17h-1zM25 -24h1V-28h-1zM25 -28h1V-30h-1zM27 -17h1V-19h-1zM28 2h1V-1h-1zM28 -8h1V-14h-1zM29 19h1V13h-1zM29 8h1V4h-1zM29 1h1V-3h-1zM29 -3h1V-5h-1zM29 -12h1V-18h-1zM29 -28h1V-30h-1zM30 19h1V18h-1zM30 15h1V13h-1zM30 10h1V9h-1zM30 7h1V4h-1zM30 4h1V0h-1zM31 -3h1V-5h-1zM32 2h1V0h-1zM32 -6h1V-8h-1zM33 14h1V9h-1zM33 9h1V8h-1zM33 8h1V5h-1zM33 1h1V-3h-1zM33 -18h1V-26h-1zM34 6h1V2h-1zM35 15h1V14h-1zM35 14h1V10h-1zM36 -24h1V-30h-1zM37 17h1V12h-1zM37 -15h1V-18h-1zM37 -26h1V-30h-1zM38 16h1V15h-1zM38 11h1V6h-1zM38 6h1V3h-1zM38 -3h1V-7h-1zM39 8h1V5h-1zM39 3h1V0h-1zM39 -20h1V-24h-1zM40 14h1V11h-1zM40 5h1V-1h-1zM40 -13h1V-17h-1zM40 -21h1V-26h-1zM40 -26h1V-30h-1zM41 -21h1V-22h-1zM42 7h1V4h-1zM42 -7h1V-8h-1zM44 16h1V11h-1zM44 -3h1V-5h-1zM44 -12h1V-15h-1zM44 -24h1V-30h-1zM45 5h1V1h-1zM45 -9h1V-11h-1zM46 0h1V-2h-1zM46 -2h1V-6h-1zM46 -14h1V-18h-1zM47 11h1V9h-1zM47 7h1V1h-1zM47 -12h1V-14h-1zM47 -21h1V-24h-1zM48 7h1V6h-1zM48 0h1V-3h-1zM48 -19h1V-28h-1zM49 -16h1V-22h-1zM49 -28h1V-30h-1zM50 10h1V5h-1zM50 5h1V3h-1zM51 -3h1V-8h-1zM51 -11h1V-17h-1zM51 -17h1V-20h-1zM52 7h1V2h-1zM52 -4h1V-5h-1zM52 -24h1V-30h-1zM53 11h1V8h-1zM53 8h1V5h-1zM54 -13h1V-18h-1zM54 -26h1V-30h-1zM55 17h1V15h-1zM55 9h1V6h-1zM55 5h1V3h-1zM55 -7h1V-9h-1zM56 -1h1V-4h-1zM57 6h1V3h-1zM57 -5h1V-7h-1zM58 -11h1V-16h-1zM58 -22h1V-30h-1zM59 13h1V7h-1zM59 7h1V2h-1zM59 -15h1V-21h-1zM60 12h1V7h-1zM60 7h1V5h-1zM60 -14h1V-19h-1zM60 -19h1V-28h-1zM60 -28h1V-30h-1zM61 -5h1V-6h-1zM61 -21h1V-22h-1zM62 -21h1V-22h-1zM63 11h1V5h-1zM63 -3h1V-5h-1zM63 -7h1V-8h-1zM64 17h1V16h-1zM64 -3h1V-8h-1zM65 -7h1V-12h-1zM65 -12h1V-14h-1zM66 -14h1V-17h-1zM68 16h1V11h-1zM70 0h1V-1h-1zM70 -1h1V-3h-1zM70 -18h1V-21h-1zM71 -12h1V-17h-1zM71 -26h1V-28h-1zM72 16h1V12h-1zM73 11h1V5h-1zM74 8h1V5h-1zM74 -6h1V-9h-1zM74 -13h1V-15h-1zM75 13h1V10h-1zM75 -21h1V-30h-1zM76 8h1V5h-1zM76 2h1V-2h-1zM76 -18h1V-26h-1zM77 7h1V6h-1zM77 -13h1V-16h-1zM78 -19h1V-22h-1zM78 -22h1V-28h-1zM79 7h1V3h-1zM79 -26h1V-30h-1zM80 16h1V13h-1zM80 4h1V2h-1zM80 -13h1V-18h-1zM81 15h1V13h-1zM81 2h1V-3h-1zM81 -28h1V-30h-1zM82 -2h1V-3h-1zM84 16h1V11h-1zM84 -21h1V-28h-1zM86 10h1V5h-1zM86 5h1V2h-1zM86 -17h1V-18h-1zM87 14h1V8h-1zM87 8h1V5h-1zM87 5h1V4h-1zM87 -17h1V-19h-1zM88 17h1V13h-1zM88 13h1V11h-1zM88 11h1V7h-1zM88 -12h1V-13h-1zM88 -16h1V-18h-1zM88 -24h1V-28h-1zM89 -17h1V-19h-1zM89 -24h1V-30h-1zM90 -9h1V-11h-1zM90 -24h1V-28h-1zM91 17h1V12h-1zM91 0h1V-1h-1zM91 -1h1V-3h-1zM92 -7h1V-10h-1zM93 10h1V9h-1zM93 6h1V5h-1zM93 -17h1V-21h-1zM95 16h1V13h-1zM95 13h1V10h-1zM95 10h1V9h-1zM95 2h1V-1h-1zM95 -7h1V-11h-1zM95 -11h1V-17h-1zM95 -26h1V-30h-1zM96 16h1V13h-1zM96 13h1V10h-1zM96 4h1V3h-1zM97 15h1V13h-1zM97 -3h1V-8h-1zM97 -14h1V-15h-1zM97 -17h1V-19h-1zM97 -26h1V-30h-1zM98 13h1V11h-1zM98 -11h1V-16h-1zM98 -16h1V-22h-1zM99 10h1V8h-1zM99 4h1V1h-1zM99 -18h1V-26h-1zM100 9h1V8h-1zM100 2h1V0h-1zM100 -5h1V-8h-1zM100 -13h1V-16h-1zM101 12h1V6h-1zM101 6h1V2h-1zM101 2h1V0h-1zM101 -19h1V-20h-1zM102 12h1V7h-1zM103 7h1V3h-1zM103 -3h1V-4h-1zM103 -4h1V-10h-1zM103 -16h1V-22h-1zM104 -9h1V-12h-1zM105 13h1V12h-1zM105 9h1V5h-1zM105 5h1V3h-1zM105 -8h1V-10h-1zM106 7h1V5h-1zM106 3h1V-2h-1zM106 -9h1V-12h-1zM106 -21h1V-26h-1zM106 -26h1V-30h-1zM107 16h1V14h-1zM107 14h1V10h-1zM107 -10h1V-15h-1zM107 -15h1V-18h-1zM108 -13h1V-17h-1zM109 11h1V7h-1zM110 5h1V1h-1zM111 30h1V26h-1zM111 14h1V8h-1zM111 8h1V3h-1zM114 15h1V14h-1zM114 9h1V8h-1zM114 -1h1V-3h-1zM114 -19h1V-21h-1zM115 12h1V7h-1zM115 -1h1V-6h-1zM116 5h1V-1h-1zM118 -4h1V-9h-1zM118 -19h1V-22h-1zM119 11h1V8h-1zM119 -3h1V-4h-1zM119 -12h1V-14h-1zM119 -20h1V-24h-1zM120 15h1V14h-1zM120 7h1V3h-1zM120 0h1V-1h-1zM120 -1h1V-3h-1zM120 -3h1V-6h-1zM120 -14h1V-17h-1zM121 15h1V9h-1zM121 -6h1V-12h-1zM121 -20h1V-26h-1zM122 -8h1V-14h-1zM124 9h1V6h-1zM125 14h1V10h-1zM125 10h1V7h-1zM126 -4h1V-8h-1zM127 -1h1V-2h-1zM127 -24h1V-30h-1zM128 12h1V6h-1zM128 1h1V-1h-1zM128 -20h1V-24h-1zM129 -1h1V-6h-1zM129 -6h1V-8h-1zM131 20h1V17h-1zM131 -22h1V-26h-1zM132 -5h1V-11h-1zM132 -11h1V-14h-1zM133 1h1V-2h-1zM134 13h1V11h-1zM134 -2h1V-5h-1zM134 -9h1V-11h-1zM134 -17h1V-19h-1zM134 -19h1V-26h-1zM135 14h1V10h-1zM135 10h1V4h-1zM135 -15h1V-18h-1zM135 -22h1V-30h-1zM136 13h1V10h-1zM137 13h1V12h-1zM137 3h1V1h-1zM138 7h1V3h-1zM138 1h1V-4h-1zM139 -9h1V-10h-1zM139 -19h1V-26h-1zM139 -26h1V-30h-1zM140 2h1V-4h-1zM140 -15h1V-16h-1zM140 -16h1V-17h-1zM142 3h1V-2h-1zM142 -2h1V-8h-1zM143 3h1V1h-1zM143 -4h1V-9h-1zM143 -20h1V-22h-1zM145 -9h1V-12h-1zM146 7h1V5h-1zM146 -1h1V-5h-1zM146 -17h1V-20h-1zM148 5h1V3h-1zM148 -7h1V-8h-1zM148 -8h1V-11h-1zM148 -11h1V-12h-1zM148 -12h1V-15h-1zM148 -15h1V-19h-1zM149 12h1V8h-1zM149 -2h1V-3h-1zM149 -19h1V-24h-1zM149 -28h1V-30h-1zM150 -8h1V-10h-1zM150 -15h1V-18h-1zM150 -24h1V-30h-1zM151 6h1V0h-1zM151 -18h1V-20h-1zM152 7h1V5h-1zM152 5h1V3h-1zM152 -4h1V-6h-1zM152 -19h1V-22h-1zM152 -22h1V-26h-1zM153 5h1V3h-1zM153 -9h1V-14h-1zM153 -14h1V-18h-1zM154 9h1V7h-1zM154 7h1V6h-1zM154 6h1V4h-1zM154 0h1V-1h-1zM154 -10h1V-15h-1zM155 -11h1V-16h-1zM155 -16h1V-21h-1zM155 -21h1V-30h-1zM156 6h1V4h-1zM156 4h1V2h-1zM156 0h1V-3h-1zM156 -3h1V-9h-1zM156 -11h1V-14h-1zM156 -16h1V-19h-1zM156 -19h1V-20h-1zM157 -26h1V-30h-1zM158 -7h1V-10h-1zM158 -10h1V-12h-1zM158 -15h1V-21h-1zM158 -26h1V-30h-1zM159 8h1V5h-1zM159 5h1V3h-1zM159 -1h1V-3h-1zM159 -10h1V-14h-1zM159 -18h1V-21h-1zM159 -21h1V-24h-1zM159 -24h1V-28h-1zM160 9h1V5h-1zM160 5h1V2h-1zM160 2h1V1h-1zM160 -7h1V-10h-1zM160 -10h1V-13h-1zM160 -13h1V-18h-1zM160 -20h1V-28h-1zM161 4h1V-2h-1zM161 -21h1V-28h-1zM162 7h1V4h-1zM163 0h1V-2h-1zM163 -3h1V-4h-1zM163 -10h1V-13h-1zM163 -18h1V-20h-1zM164 -11h1V-16h-1zM165 17h1V11h-1zM165 10h1V8h-1zM165 8h1V6h-1zM165 6h1V3h-1zM165 3h1V0h-1zM165 -12h1V-18h-1zM165 -21h1V-22h-1zM166 5h1V3h-1zM166 1h1V-3h-1zM166 -15h1V-17h-1zM166 -17h1V-20h-1zM167 -5h1V-7h-1zM167 -10h1V-12h-1zM168 -24h1V-30h-1zM169 -5h1V-11h-1zM169 -11h1V-13h-1zM169 -13h1V-15h-1zM169 -15h1V-17h-1zM170 6h1V0h-1zM170 -6h1V-9h-1zM170 -14h1V-16h-1zM170 -21h1V-24h-1zM171 7h1V3h-1zM171 3h1V-1h-1zM171 -19h1V-22h-1zM171 -22h1V-26h-1zM172 5h1V3h-1zM172 3h1V-1h-1zM173 -5h1V-8h-1zM173 -17h1V-21h-1zM174 -17h1V-22h-1zM175 11h1V5h-1zM175 5h1V4h-1zM175 -12h1V-15h-1zM175 -22h1V-28h-1zM176 -1h1V-4h-1zM176 -9h1V-11h-1zM176 -13h1V-16h-1zM176 -16h1V-19h-1zM177 5h1V4h-1zM177 -6h1V-8h-1zM177 -8h1V-10h-1zM177 -21h1V-30h-1zM178 9h1V6h-1zM178 -22h1V-24h-1zM178 -24h1V-30h-1zM180 2h1V0h-1zM180 -20h1V-24h-1zM181 2h1V-1h-1zM181 -3h1V-5h-1zM181 -16h1V-20h-1zM182 10h1V5h-1zM182 -24h1V-30h-1zM183 3h1V-1h-1zM183 -1h1V-2h-1zM183 -2h1V-3h-1zM183 -3h1V-7h-1zM183 -26h1V-30h-1zM184 -11h1V-17h-1zM185 -7h1V-10h-1zM185 -13h1V-18h-1zM186 10h1V9h-1zM186 -9h1V-12h-1zM186 -12h1V-14h-1zM187 -3h1V-8h-1zM187 -8h1V-12h-1zM188 -6h1V-10h-1zM188 -18h1V-19h-1zM189 -28h1V-30h-1zM190 -5h1V-10h-1zM190 -10h1V-13h-1zM190 -13h1V-15h-1zM190 -26h1V-30h-1zM191 0h1V-1h-1zM191 -9h1V-15h-1zM192 5h1V1h-1zM192 -14h1V-19h-1zM193 -20h1V-28h-1zM194 -24h1V-28h-1zM194 -28h1V-30h-1zM195 0h1V-5h-1zM196 8h1V3h-1zM196 3h1V1h-1zM196 -11h1V-16h-1zM196 -18h1V-20h-1zM197 8h1V3h-1zM197 -17h1V-19h-1zM197 -28h1V-30h-1zM198 2h1V0h-1zM198 -8h1V-12h-1zM198 -18h1V-21h-1zM199 3h1V0h-1zM199 0h1V-4h-1z" fill="#5a0000" fill-opacity="0.07"/>
<path d="M0 -4h1V-7h-1zM3 16h1V15h-1zM3 11h1V7h-1zM3 7h1V4h-1zM3 -28h1V-30h-1zM4 -5h1V-8h-1zM4 -13h1V-18h-1zM4 -24h1V-28h-1zM5 11h1V9h-1zM5 -2h1V-7h-1zM5 -7h1V-8h-1zM5 -8h1V-13h-1zM6 9h1V4h-1zM6 -4h1V-7h-1zM7 14h1V11h-1zM7 4h1V1h-1zM7 -17h1V-22h-1zM8 16h1V15h-1zM8 15h1V13h-1zM8 5h1V4h-1zM8 4h1V0h-1zM8 -2h1V-6h-1zM8 -11h1V-13h-1zM8 -15h1V-17h-1zM8 -21h1V-30h-1zM9 -16h1V-17h-1zM9 -17h1V-19h-1zM10 18h1V13h-1zM10 6h1V2h-1zM10 -11h1V-13h-1zM11 0h1V-3h-1zM12 -9h1V-15h-1zM13 -3h1V-8h-1zM13 -14h1V-20h-1zM14 11h1V9h-1zM14 1h1V-4h-1zM14 -4h1V-5h-1zM15 10h1V6h-1zM15 4h1V2h-1zM16 2h1V-1h-1zM16 -7h1V-10h-1zM17 -7h1V-11h-1zM18 15h1V12h-1zM18 2h1V-1h-1zM18 -19h1V-28h-1zM18 -28h1V-30h-1zM19 -10h1V-12h-1zM21 -1h1V-7h-1zM21 -7h1V-9h-1zM22 9h1V4h-1zM22 4h1V2h-1zM22 2h1V-4h-1zM22 -15h1V-20h-1zM23 -18h1V-24h-1zM25 1h1V-4h-1zM26 9h1V3h-1zM26 -12h1V-13h-1zM26 -22h1V-30h-1zM27 16h1V10h-1zM27 8h1V6h-1zM27 -5h1V-8h-1zM27 -14h1V-17h-1zM27 -28h1V-30h-1zM28 12h1V9h-1zM28 9h1V4h-1zM28 -14h1V-17h-1zM28 -17h1V-18h-1zM28 -18h1V-19h-1zM28 -26h1V-30h-1zM31 -1h1V-3h-1zM32 8h1V4h-1zM32 -20h1V-26h-1zM33 5h1V4h-1zM33 -10h1V-11h-1zM33 -26h1V-30h-1zM34 2h1V-4h-1zM34 -7h1V-8h-1zM34 -8h1V-9h-1zM34 -14h1V-20h-1zM34 -20h1V-28h-1zM36 15h1V13h-1zM36 -20h1V-24h-1zM37 -18h1V-26h-1zM38 -7h1V-10h-1zM39 -1h1V-5h-1zM39 -10h1V-12h-1zM40 11h1V5h-1zM41 13h1V9h-1zM41 4h1V0h-1zM41 -7h1V-11h-1zM41 -19h1V-21h-1zM41 -26h1V-30h-1zM43 16h1V10h-1zM43 10h1V8h-1zM43 -4h1V-5h-1zM44 11h1V7h-1zM44 -10h1V-12h-1zM44 -21h1V-24h-1zM45 -14h1V-17h-1zM46 11h1V8h-1zM46 8h1V2h-1zM46 2h1V0h-1zM47 9h1V7h-1zM47 -24h1V-30h-1zM48 15h1V13h-1zM48 -3h1V-9h-1zM51 16h1V15h-1zM51 9h1V3h-1zM51 1h1V-3h-1zM52 -17h1V-24h-1zM53 14h1V11h-1zM53 -8h1V-11h-1zM53 -11h1V-16h-1zM53 -16h1V-21h-1zM54 15h1V12h-1zM54 12h1V9h-1zM54 9h1V6h-1zM54 -3h1V-9h-1zM55 -14h1V-17h-1zM55 -28h1V-30h-1zM56 11h1V8h-1zM56 8h1V3h-1zM56 -7h1V-11h-1zM57 -7h1V-8h-1zM57 -11h1V-13h-1zM58 6h1V3h-1zM58 -2h1V-8h-1zM58 -8h1V-9h-1zM59 2h1V-1h-1zM59 -1h1V-7h-1zM59 -22h1V-28h-1zM61 8h1V2h-1zM61 2h1V-2h-1zM61 -2h1V-5h-1zM61 -26h1V-30h-1zM63 5h1V-1h-1zM63 -26h1V-30h-1zM64 -24h1V-30h-1zM65 18h1V16h-1zM65 13h1V10h-1zM65 4h1V1h-1zM66 -2h1V-7h-1zM66 -12h1V-14h-1zM66 -17h1V-19h-1zM66 -19h1V-21h-1zM67 -2h1V-7h-1zM68 1h1V-1h-1zM69 7h1V5h-1zM69 5h1V0h-1zM69 0h1V-3h-1zM70 4h1V0h-1zM70 -3h1V-6h-1zM70 -12h1V-14h-1zM70 -14h1V-18h-1zM71 3h1V2h-1zM71 -7h1V-12h-1zM71 -17h1V-19h-1zM72 -10h1V-13h-1zM73 4h1V-2h-1zM73 -2h1V-8h-1zM73 -28h1V-30h-1zM75 5h1V2h-1zM75 -11h1V-14h-1zM75 -19h1V-21h-1zM76 -16h1V-18h-1zM77 17h1V15h-1zM77 3h1V0h-1zM77 -6h1V-8h-1zM78 9h1V7h-1zM78 -12h1V-15h-1zM78 -28h1V-30h-1zM79 15h1V14h-1zM80 12h1V10h-1zM80 2h1V0h-1zM81 9h1V6h-1zM81 6h1V4h-1zM81 -10h1V-13h-1zM81 -22h1V-28h-1zM82 5h1V2h-1zM83 0h1V-4h-1zM83 -28h1V-30h-1zM84 -2h1V-5h-1zM84 -12h1V-14h-1zM85 7h1V4h-1zM85 4h1V-2h-1zM85 -15h1V-20h-1zM86 -1h1V-2h-1zM87 -6h1V-8h-1zM87 -16h1V-17h-1zM89 -2h1V-5h-1zM89 -5h1V-6h-1zM89 -9h1V-11h-1zM90 2h1V-4h-1zM90 -4h1V-9h-1zM90 -17h1V-20h-1zM92 21h1V19h-1zM92 16h1V11h-1zM92 8h1V5h-1zM92 -1h1V-3h-1zM93 9h1V6h-1zM93 -3h1V-6h-1zM93 -21h1V-24h-1zM94 13h1V8h-1zM94 7h1V5h-1zM94 1h1V-3h-1zM94 -3h1V-6h-1zM95 -17h1V-22h-1zM97 0h1V-3h-1zM98 15h1V13h-1zM98 2h1V-1h-1zM98 -3h1V-9h-1zM99 8h1V6h-1zM99 6h1V4h-1zM99 -26h1V-30h-1zM100 17h1V16h-1zM100 -24h1V-30h-1zM102 -6h1V-8h-1zM102 -12h1V-18h-1zM104 15h1V9h-1zM104 -24h1V-30h-1zM105 3h1V-3h-1zM105 -3h1V-8h-1zM106 13h1V7h-1zM106 -12h1V-15h-1zM106 -15h1V-21h-1zM108 13h1V10h-1zM108 -17h1V-20h-1zM109 14h1V12h-1zM109 12h1V11h-1zM109 4h1V1h-1zM109 -11h1V-13h-1zM109 -28h1V-30h-1zM110 1h1V-5h-1zM110 -13h1V-15h-1zM110 -18h1V-24h-1zM112 11h1V10h-1zM112 8h1V5h-1zM112 -4h1V-6h-1zM113 -3h1V-8h-1zM114 -3h1V-6h-1zM115 6h1V5h-1zM115 -21h1V-28h-1zM116 7h1V5h-1zM116 -3h1V-8h-1zM116 -26h1V-30h-1zM117 15h1V13h-1zM117 11h1V8h-1zM117 -8h1V-10h-1zM117 -10h1V-11h-1zM118 14h1V9h-1zM118 6h1V5h-1zM118 -12h1V-16h-1zM119 -6h1V-8h-1zM119 -14h1V-15h-1zM119 -15h1V-20h-1zM120 -10h1V-14h-1zM120 -17h1V-24h-1zM121 -12h1V-14h-1zM121 -17h1V-20h-1zM122 12h1V10h-1zM122 7h1V4h-1zM122 -15h1V-21h-1zM123 15h1V13h-1zM123 13h1V7h-1zM123 7h1V1h-1zM123 -6h1V-11h-1zM123 -11h1V-14h-1zM123 -14h1V-16h-1zM123 -22h1V-30h-1zM124 14h1V12h-1zM124 12h1V9h-1zM124 6h1V1h-1zM124 -15h1V-19h-1zM126 8h1V5h-1zM126 -14h1V-19h-1zM127 -12h1V-15h-1zM128 4h1V1h-1zM128 -5h1V-11h-1zM128 -17h1V-20h-1zM129 2h1V-1h-1zM129 -26h1V-28h-1zM129 -28h1V-30h-1zM130 -7h1V-9h-1zM130 -18h1V-24h-1zM132 6h1V2h-1zM133 15h1V13h-1zM133 6h1V1h-1zM133 -11h1V-13h-1zM133 -21h1V-26h-1zM133 -26h1V-30h-1zM135 4h1V0h-1zM135 -18h1V-22h-1zM136 10h1V8h-1zM136 8h1V6h-1zM136 -24h1V-30h-1zM137 12h1V7h-1zM137 7h1V3h-1zM137 -8h1V-10h-1zM137 -17h1V-18h-1zM137 -24h1V-30h-1zM138 -4h1V-8h-1zM138 -15h1V-17h-1zM138 -28h1V-30h-1zM139 -10h1V-13h-1zM139 -13h1V-16h-1zM139 -17h1V-19h-1zM140 10h1V8h-1zM140 -4h1V-8h-1zM140 -12h1V-15h-1zM140 -20h1V-28h-1zM140 -28h1V-30h-1zM141 -2h1V-4h-1zM141 -6h1V-8h-1zM141 -11h1V-15h-1zM141 -24h1V-30h-1zM142 -15h1V-20h-1zM143 1h1V0h-1zM143 -3h1V-4h-1zM143 -9h1V-10h-1zM143 -19h1V-20h-1zM143 -22h1V-26h-1zM143 -26h1V-30h-1zM144 10h1V8h-1zM144 8h1V4h-1zM144 2h1V0h-1zM144 0h1V-5h-1zM144 -5h1V-7h-1zM144 -13h1V-15h-1zM145 7h1V1h-1zM146 2h1V-1h-1zM146 -9h1V-11h-1zM147 1h1V-2h-1zM147 -7h1V-10h-1zM147 -21h1V-30h-1zM148 -19h1V-21h-1zM148 -22h1V-30h-1zM149 2h1V1h-1zM149 1h1V-2h-1zM150 2h1V-2h-1zM151 -20h1V-30h-1zM153 1h1V-5h-1zM153 -20h1V-24h-1zM154 4h1V1h-1zM154 -5h1V-7h-1zM155 -3h1V-5h-1zM155 -5h1V-11h-1zM156 11h1V10h-1zM156 -14h1V-16h-1zM157 -5h1V-8h-1zM157 -14h1V-17h-1zM157 -20h1V-22h-1zM157 -22h1V-26h-1zM158 -21h1V-22h-1zM158 -22h1V-26h-1zM160 -4h1V-7h-1zM161 -8h1V-10h-1zM163 8h1V2h-1zM163 -4h1V-10h-1zM163 -13h1V-15h-1zM163 -22h1V-26h-1zM163 -26h1V-30h-1zM164 17h1V15h-1zM164 6h1V1h-1zM164 1h1V-1h-1zM164 -1h1V-7h-1zM164 -9h1V-11h-1zM164 -18h1V-19h-1zM164 -19h1V-20h-1zM164 -20h1V-24h-1zM165 -5h1V-9h-1zM166 3h1V1h-1zM166 -8h1V-12h-1zM166 -28h1V-30h-1zM167 5h1V3h-1zM167 1h1V-3h-1zM167 -3h1V-5h-1zM167 -12h1V-15h-1zM167 -15h1V-21h-1zM168 -19h1V-22h-1zM168 -22h1V-24h-1zM169 9h1V6h-1zM169 -21h1V-30h-1zM170 -11h1V-14h-1zM170 -16h1V-21h-1zM172 9h1V6h-1zM172 -6h1V-12h-1zM172 -14h1V-16h-1zM172 -17h1V-21h-1zM172 -26h1V-30h-1zM173 -2h1V-5h-1zM173 -9h1V-11h-1zM173 -11h1V-16h-1zM173 -16h1V-17h-1zM173 -21h1V-30h-1zM174 3h1V-2h-1zM174 -7h1V-9h-1zM174 -11h1V-15h-1zM174 -15h1V-17h-1zM174 -22h1V-26h-1zM175 -28h1V-30h-1zM176 -4h1V-6h-1zM179 14h1V12h-1zM179 4h1V0h-1zM179 -2h1V-8h-1zM179 -8h1V-12h-1zM179 -13h1V-15h-1zM179 -18h1V-26h-1zM179 -26h1V-30h-1zM180 0h1V-2h-1zM180 -2h1V-4h-1zM180 -4h1V-6h-1zM180 -8h1V-12h-1zM180 -17h1V-20h-1zM182 13h1V12h-1zM182 5h1V-1h-1zM182 -1h1V-7h-1zM184 -17h1V-21h-1zM185 7h1V1h-1zM185 1h1V-4h-1zM185 -10h1V-13h-1zM185 -18h1V-26h-1zM185 -26h1V-30h-1zM186 -14h1V-19h-1zM187 4h1V0h-1zM187 -19h1V-21h-1zM188 0h1V-3h-1zM188 -17h1V-18h-1zM188 -22h1V-30h-1zM189 9h1V6h-1zM189 6h1V3h-1zM189 -12h1V-13h-1zM189 -13h1V-19h-1zM189 -19h1V-28h-1zM190 -17h1V-19h-1zM191 11h1V8h-1zM191 8h1V7h-1zM191 4h1V2h-1zM191 -1h1V-4h-1zM191 -4h1V-6h-1zM191 -6h1V-8h-1zM191 -15h1V-21h-1zM191 -21h1V-26h-1zM192 -5h1V-9h-1zM192 -22h1V-24h-1zM193 -10h1V-16h-1zM194 1h1V-4h-1zM194 -4h1V-10h-1zM195 4h1V2h-1zM195 -7h1V-11h-1zM195 -11h1V-17h-1zM196 -16h1V-18h-1zM196 -20h1V-24h-1zM198 5h1V4h-1zM198 0h1V-5h-1zM198 -5h1V-8h-1zM198 -24h1V-30h-1zM199 -4h1V-9h-1zM199 -9h1V-11h-1zM199 -15h1V-16h-1z" fill="#ff1000" fill-opacity="0.07"/>
<path d="M0 -14h1V-17h-1zM2 3h1V-3h-1zM2 -12h1V-16h-1zM2 -16h1V-22h-1zM3 2h1V0h-1zM3 -9h1V-12h-1zM3 -12h1V-15h-1zM4 -11h1V-13h-1zM5 7h1V5h-1zM6 -13h1V-16h-1zM6 -28h1V-30h-1zM7 1h1V-3h-1zM8 0h1V-2h-1zM10 -13h1V-18h-1zM10 -26h1V-30h-1zM12 -15h1V-18h-1zM13 -8h1V-9h-1zM15 6h1V4h-1zM15 -7h1V-12h-1zM15 -20h1V-26h-1zM16 -1h1V-5h-1zM16 -21h1V-28h-1zM20 2h1V-4h-1zM20 -4h1V-9h-1zM21 -9h1V-14h-1zM25 -17h1V-24h-1zM26 3h1V-1h-1zM26 -1h1V-4h-1zM26 -13h1V-19h-1zM27 1h1V-1h-1zM27 -19h1V-28h-1zM28 -1h1V-5h-1zM28 -21h1V-26h-1zM31 -5h1V-7h-1zM31 -7h1V-11h-1zM31 -11h1V-16h-1zM31 -22h1V-30h-1zM32 0h1V-2h-1zM32 -2h1V-6h-1zM33 4h1V1h-1zM33 -5h1V-10h-1zM34 -4h1V-7h-1zM34 -28h1V-30h-1zM36 -8h1V-12h-1zM36 -14h1V-20h-1zM37 -3h1V-9h-1zM37 -9h1V-13h-1zM38 3h1V1h-1zM39 -12h1V-14h-1zM41 -11h1V-13h-1zM41 -13h1V-19h-1zM41 -22h1V-26h-1zM43 8h1V6h-1zM43 6h1V0h-1zM43 0h1V-1h-1zM43 -1h1V-4h-1zM43 -10h1V-16h-1zM44 1h1V-3h-1zM44 -5h1V-10h-1zM45 1h1V-1h-1zM45 -1h1V-7h-1zM46 -9h1V-12h-1zM46 -24h1V-30h-1zM48 6h1V0h-1zM48 -17h1V-19h-1zM48 -28h1V-30h-1zM49 -7h1V-11h-1zM51 -26h1V-30h-1zM54 3h1V0h-1zM56 -19h1V-22h-1zM57 -13h1V-19h-1zM58 1h1V-1h-1zM58 -1h1V-2h-1zM58 -9h1V-11h-1zM59 -9h1V-10h-1zM59 -11h1V-14h-1zM59 -14h1V-15h-1zM61 -6h1V-7h-1zM61 -9h1V-12h-1zM62 -3h1V-9h-1zM63 -1h1V-3h-1zM63 -9h1V-12h-1zM63 -20h1V-26h-1zM64 4h1V0h-1zM65 -2h1V-3h-1zM65 -14h1V-19h-1zM65 -24h1V-28h-1zM65 -28h1V-30h-1zM67 -18h1V-20h-1zM67 -28h1V-30h-1zM68 -4h1V-7h-1zM68 -13h1V-17h-1zM69 -3h1V-6h-1zM71 -19h1V-26h-1zM74 5h1V0h-1zM74 0h1V-3h-1zM75 8h1V6h-1zM75 0h1V-3h-1zM75 -3h1V-6h-1zM76 -8h1V-12h-1zM76 -26h1V-28h-1zM78 -1h1V-3h-1zM78 -10h1V-12h-1zM78 -15h1V-18h-1zM78 -18h1V-19h-1zM80 -8h1V-11h-1zM81 -6h1V-10h-1zM81 -15h1V-16h-1zM81 -17h1V-22h-1zM82 7h1V5h-1zM82 -7h1V-10h-1zM84 8h1V7h-1zM84 2h1V0h-1zM84 -5h1V-7h-1zM84 -9h1V-12h-1zM85 -14h1V-15h-1zM88 -6h1V-7h-1zM89 -6h1V-9h-1zM90 -11h1V-17h-1zM92 11h1V8h-1zM92 -10h1V-11h-1zM92 -18h1V-20h-1zM92 -20h1V-24h-1zM93 0h1V-3h-1zM93 -8h1V-11h-1zM94 8h1V7h-1zM94 4h1V1h-1zM95 -1h1V-4h-1zM97 7h1V5h-1zM100 -20h1V-24h-1zM102 -8h1V-10h-1zM103 3h1V-2h-1zM103 -2h1V-3h-1zM104 9h1V3h-1zM104 -12h1V-15h-1zM104 -15h1V-19h-1zM105 -17h1V-20h-1zM108 2h1V1h-1zM108 -3h1V-4h-1zM108 -24h1V-30h-1zM109 7h1V6h-1zM109 1h1V-5h-1zM109 -17h1V-21h-1zM110 -10h1V-12h-1zM112 -2h1V-4h-1zM112 -9h1V-12h-1zM112 -12h1V-13h-1zM112 -26h1V-30h-1zM113 5h1V0h-1zM113 -18h1V-21h-1zM115 -11h1V-13h-1zM116 -14h1V-15h-1zM116 -20h1V-21h-1zM117 8h1V2h-1zM117 2h1V0h-1zM117 -19h1V-20h-1zM117 -20h1V-28h-1zM121 -14h1V-17h-1zM122 4h1V1h-1zM122 -2h1V-6h-1zM122 -6h1V-8h-1zM122 -26h1V-30h-1zM123 1h1V-3h-1zM123 -3h1V-6h-1zM123 -16h1V-22h-1zM124 -1h1V-7h-1zM124 -28h1V-30h-1zM126 -19h1V-21h-1zM127 8h1V2h-1zM130 7h1V3h-1zM130 -9h1V-15h-1zM132 -26h1V-30h-1zM133 -13h1V-15h-1zM136 -2h1V-7h-1zM136 -20h1V-24h-1zM137 -10h1V-15h-1zM139 6h1V3h-1zM140 8h1V7h-1zM140 6h1V2h-1zM141 -10h1V-11h-1zM142 -12h1V-15h-1zM142 -20h1V-24h-1zM142 -24h1V-30h-1zM143 -13h1V-16h-1zM144 -21h1V-30h-1zM146 -8h1V-9h-1zM147 -16h1V-20h-1zM147 -20h1V-21h-1zM150 -10h1V-13h-1zM150 -13h1V-15h-1zM150 -21h1V-24h-1zM151 -4h1V-6h-1zM153 -5h1V-7h-1zM157 -2h1V-5h-1zM161 -10h1V-13h-1zM164 -7h1V-9h-1zM164 -16h1V-18h-1zM172 -1h1V-4h-1zM172 -4h1V-6h-1zM172 -16h1V-17h-1zM173 1h1V-2h-1zM173 -8h1V-9h-1zM179 -15h1V-18h-1zM180 8h1V2h-1zM184 6h1V5h-1zM184 1h1V-1h-1zM184 -1h1V-7h-1zM184 -7h1V-11h-1zM185 -4h1V-7h-1zM187 5h1V4h-1zM187 0h1V-3h-1zM188 -3h1V-6h-1zM189 -3h1V-7h-1zM192 1h1V-5h-1zM192 -19h1V-22h-1zM192 -24h1V-30h-1zM193 -28h1V-30h-1zM195 -5h1V-7h-1zM195 -26h1V-30h-1zM198 -21h1V-24h-1zM199 -11h1V-12h-1zM199 -16h1V-19h-1zM199 -19h1V-26h-1z" fill="#ff1000" fill-opacity="0.14"/>
<path d="M0 -9h1V-14h-1zM3 4h1V2h-1zM5 -13h1V-16h-1zM6 4h1V1h-1zM6 -7h1V-10h-1zM6 -22h1V-26h-1zM7 6h1V4h-1zM12 3h1V-3h-1zM13 2h1V-3h-1zM18 4h1V2h-1zM20 -14h1V-15h-1zM20 -19h1V-20h-1zM23 -24h1V-30h-1zM28 -19h1V-21h-1zM32 -14h1V-19h-1zM43 -5h1V-10h-1zM51 3h1V1h-1zM53 -24h1V-30h-1zM54 6h1V3h-1zM54 0h1V-3h-1zM55 -1h1V-7h-1zM58 3h1V1h-1zM59 -7h1V-9h-1zM61 -18h1V-21h-1zM62 3h1V-3h-1zM62 -22h1V-30h-1zM65 -3h1V-4h-1zM66 3h1V-2h-1zM66 -7h1V-12h-1zM69 -6h1V-11h-1zM74 -18h1V-22h-1zM77 -21h1V-24h-1zM81 4h1V2h-1zM81 -16h1V-17h-1zM82 -10h1V-12h-1zM83 -4h1V-6h-1zM83 -11h1V-13h-1zM83 -13h1V-17h-1zM83 -17h1V-22h-1zM83 -22h1V-28h-1zM84 -7h1V-9h-1zM84 -14h1V-17h-1zM84 -28h1V-30h-1zM86 -24h1V-30h-1zM89 -13h1V-15h-1zM92 -11h1V-16h-1zM92 -16h1V-18h-1zM92 -24h1V-30h-1zM93 -11h1V-17h-1zM94 5h1V4h-1zM94 -19h1V-28h-1zM98 -22h1V-30h-1zM100 -18h1V-20h-1zM104 -3h1V-4h-1zM104 -4h1V-6h-1zM108 5h1V2h-1zM108 -10h1V-13h-1zM109 6h1V4h-1zM109 -15h1V-17h-1zM109 -21h1V-28h-1zM110 6h1V5h-1zM110 -6h1V-10h-1zM110 -15h1V-18h-1zM112 5h1V1h-1zM112 -6h1V-9h-1zM112 -21h1V-26h-1zM113 0h1V-3h-1zM113 -8h1V-12h-1zM115 -16h1V-21h-1zM117 0h1V-2h-1zM117 -2h1V-3h-1zM117 -13h1V-14h-1zM119 -24h1V-26h-1zM121 0h1V-6h-1zM122 1h1V-2h-1zM122 -21h1V-26h-1zM127 2h1V0h-1zM127 0h1V-1h-1zM127 -15h1V-21h-1zM130 -5h1V-7h-1zM133 -7h1V-9h-1zM134 -5h1V-7h-1zM137 1h1V-1h-1zM141 5h1V3h-1zM172 -12h1V-14h-1zM180 -6h1V-8h-1zM189 3h1V-3h-1zM199 -12h1V-15h-1z" fill="#ff1000" fill-opacity="0.21"/>
<path d="M2 -3h1V-6h-1zM2 -22h1V-24h-1zM3 -19h1V-28h-1zM7 -12h1V-15h-1zM20 -18h1V-19h-1zM26 -9h1V-12h-1zM27 -1h1V-5h-1zM32 -19h1V-20h-1zM34 -9h1V-11h-1zM43 -22h1V-30h-1zM48 -9h1V-14h-1zM56 3h1V-1h-1zM58 -16h1V-22h-1zM69 -16h1V-22h-1zM77 0h1V-6h-1zM77 -16h1V-21h-1zM79 -5h1V-6h-1zM82 -3h1V-7h-1zM83 5h1V0h-1zM83 -6h1V-9h-1zM83 -9h1V-11h-1zM84 0h1V-2h-1zM84 -19h1V-21h-1zM92 -3h1V-7h-1zM94 -6h1V-11h-1zM94 -28h1V-30h-1zM99 -9h1V-14h-1zM104 -6h1V-7h-1zM116 -15h1V-20h-1zM117 -11h1V-13h-1zM127 -21h1V-24h-1zM130 -15h1V-18h-1zM136 4h1V1h-1z" fill="#ff1000" fill-opacity="0.28"/>
<path d="M41 0h1V-4h-1zM41 -4h1V-7h-1zM43 -16h1V-19h-1zM69 -11h1V-16h-1zM82 -12h1V-17h-1zM82 -17h1V-24h-1zM82 -28h1V-30h-1zM92 5h1V1h-1zM95 -22h1V-26h-1zM104 3h1V-1h-1zM104 -1h1V-3h-1zM104 -7h1V-9h-1zM104 -19h1V-24h-1zM117 -3h1V-8h-1zM117 -28h1V-30h-1zM124 -13h1V-15h-1zM141 3h1V-2h-1z" fill="#ff1000" fill-opacity="0.35"/>
</g>
<polyline points="361.07,49.87 362.09,56.65 362.64,63.43 363.39,70.21 364.48,76.98 365.52,83.76 366.39,90.54 367.18,97.32 367.91,104.1 368.64,110.87 369.36,117.65 370.07,124.43 370.74,131.21 371.3,137.99 371.77,144.77 372.29,151.54 372.81,158.32 373.14,165.1 373.47,171.88 373.73,178.66 373.92,185.44 374.11,192.21 374.26,198.99 374.41,205.77 374.39,212.55 374.37,219.33 374.2,226.11 373.87,232.88 373.55,239.66 373.09,246.44 372.63,253.22 372.27,260 371.9,266.78 371.43,273.55 370.97,280.33 370.51,287.11 370.12,293.89 369.68,300.67 368.99,307.45 368.03,314.22 367.25,321 366.53,327.78 365.79,334.56 365.04,341.34 364.32,348.12 363.41,354.89 361.57,361.67 358.97,368.45 357.38,375.23 355.8,382.01 354.54,388.79 353.28,395.56 351.96,402.34 350.63,409.12 349.12,415.9" fill="none" stroke="#ff2200" stroke-opacity="0.29" stroke-width="1.3" mask="url(#fringeMask)"/>
<polyline points="365.47,49.87 366.46,56.65 366.99,63.43 367.72,70.21 368.77,76.98 369.78,83.76 370.63,90.54 371.4,97.32 372.11,104.1 372.82,110.87 373.51,117.65 374.21,124.43 374.85,131.21 375.4,137.99 375.85,144.77 376.35,151.54 376.86,158.32 377.18,165.1 377.5,171.88 377.75,178.66 377.94,185.44 378.12,192.21 378.27,198.99 378.42,205.77 378.39,212.55 378.37,219.33 378.21,226.11 377.89,232.88 377.57,239.66 377.13,246.44 376.69,253.22 376.33,260 375.97,266.78 375.52,273.55 375.08,280.33 374.63,287.11 374.25,293.89 373.83,300.67 373.15,307.45 372.23,314.22 371.47,321 370.77,327.78 370.05,334.56 369.32,341.34 368.62,348.12 367.74,354.89 365.95,361.67 363.43,368.45 361.89,375.23 360.35,382.01 359.13,388.79 357.91,395.56 356.63,402.34 355.34,409.12 353.87,415.9" fill="none" stroke="#ff2200" stroke-opacity="0.23" stroke-width="1.69" mask="url(#fringeMask)"/>
<polyline points="369.87,49.87 370.83,56.65 371.34,63.43 372.05,70.21 373.07,76.98 374.05,83.76 374.87,90.54 375.62,97.32 376.3,104.1 376.99,110.87 377.66,117.65 378.34,124.43 378.96,131.21 379.49,137.99 379.93,144.77 380.42,151.54 380.91,158.32 381.22,165.1 381.53,171.88 381.77,178.66 381.95,185.44 382.13,192.21 382.28,198.99 382.42,205.77 382.4,212.55 382.38,219.33 382.21,226.11 381.91,232.88 381.6,239.66 381.17,246.44 380.74,253.22 380.4,260 380.05,266.78 379.62,273.55 379.18,280.33 378.74,287.11 378.38,293.89 377.97,300.67 377.32,307.45 376.42,314.22 375.68,321 375,327.78 374.31,334.56 373.6,341.34 372.92,348.12 372.07,354.89 370.34,361.67 367.89,368.45 366.4,375.23 364.91,382.01 363.72,388.79 362.54,395.56 361.29,402.34 360.05,409.12 358.62,415.9" fill="none" stroke="#ff2200" stroke-opacity="0.2" stroke-width="1.4" mask="url(#fringeMask)"/>
<polyline points="375.36,49.87 376.28,56.65 376.78,63.43 377.46,70.21 378.44,76.98 379.38,83.76 380.17,90.54 380.89,97.32 381.55,104.1 382.21,110.87 382.85,117.65 383.5,124.43 384.1,131.21 384.61,137.99 385.03,144.77 385.5,151.54 385.97,158.32 386.27,165.1 386.57,171.88 386.8,178.66 386.97,185.44 387.15,192.21 387.28,198.99 387.42,205.77 387.4,212.55 387.38,219.33 387.23,226.11 386.93,232.88 386.64,239.66 386.23,246.44 385.81,253.22 385.48,260 385.15,266.78 384.73,273.55 384.31,280.33 383.89,287.11 383.54,293.89 383.15,300.67 382.52,307.45 381.66,314.22 380.95,321 380.3,327.78 379.63,334.56 378.95,341.34 378.3,348.12 377.48,354.89 375.81,361.67 373.46,368.45 372.03,375.23 370.6,382.01 369.46,388.79 368.32,395.56 367.13,402.34 365.93,409.12 364.56,415.9" fill="none" stroke="#ff2200" stroke-opacity="0.38" stroke-width="1.06" mask="url(#fringeMask)"/>
<polyline points="380.86,49.87 381.74,56.65 382.22,63.43 382.87,70.21 383.81,76.98 384.72,83.76 385.47,90.54 386.16,97.32 386.79,104.1 387.42,110.87 388.04,117.65 388.66,124.43 389.24,131.21 389.73,137.99 390.13,144.77 390.58,151.54 391.03,158.32 391.32,165.1 391.6,171.88 391.83,178.66 392,185.44 392.16,192.21 392.29,198.99 392.42,205.77 392.41,212.55 392.39,219.33 392.24,226.11 391.95,232.88 391.67,239.66 391.28,246.44 390.88,253.22 390.56,260 390.24,266.78 389.84,273.55 389.44,280.33 389.04,287.11 388.7,293.89 388.33,300.67 387.72,307.45 386.9,314.22 386.22,321 385.59,327.78 384.95,334.56 384.3,341.34 383.67,348.12 382.89,354.89 381.29,361.67 379.04,368.45 377.66,375.23 376.29,382.01 375.2,388.79 374.11,395.56 372.96,402.34 371.82,409.12 370.5,415.9" fill="none" stroke="#ff2200" stroke-opacity="0.31" stroke-width="1.49" mask="url(#fringeMask)"/>
<polyline points="386.36,49.87 387.2,56.65 387.66,63.43 388.28,70.21 389.18,76.98 390.05,83.76 390.77,90.54 391.43,97.32 392.04,104.1 392.64,110.87 393.23,117.65 393.83,124.43 394.38,131.21 394.85,137.99 395.23,144.77 395.66,151.54 396.1,158.32 396.37,165.1 396.64,171.88 396.86,178.66 397.02,185.44 397.18,192.21 397.3,198.99 397.43,205.77 397.41,212.55 397.39,219.33 397.25,226.11 396.98,232.88 396.71,239.66 396.33,246.44 395.95,253.22 395.65,260 395.34,266.78 394.96,273.55 394.57,280.33 394.19,287.11 393.86,293.89 393.5,300.67 392.93,307.45 392.14,314.22 391.49,321 390.89,327.78 390.28,334.56 389.65,341.34 389.05,348.12 388.3,354.89 386.77,361.67 384.61,368.45 383.3,375.23 381.98,382.01 380.94,388.79 379.9,395.56 378.8,402.34 377.7,409.12 376.44,415.9" fill="none" stroke="#ff2200" stroke-opacity="0.21" stroke-width="1.3" mask="url(#fringeMask)"/>
<polyline points="391.86,49.87 392.66,56.65 393.1,63.43 393.7,70.21 394.56,76.98 395.38,83.76 396.07,90.54 396.7,97.32 397.28,104.1 397.86,110.87 398.42,117.65 398.99,124.43 399.52,131.21 399.97,137.99 400.33,144.77 400.75,151.54 401.16,158.32 401.42,165.1 401.68,171.88 401.89,178.66 402.04,185.44 402.19,192.21 402.31,198.99 402.43,205.77 402.41,212.55 402.4,219.33 402.26,226.11 402,232.88 401.74,239.66 401.38,246.44 401.02,253.22 400.73,260 400.44,266.78 400.07,273.55 399.7,280.33 399.34,287.11 399.03,293.89 398.68,300.67 398.13,307.45 397.38,314.22 396.76,321 396.18,327.78 395.6,334.56 395,341.34 394.43,348.12 393.71,354.89 392.25,361.67 390.19,368.45 388.93,375.23 387.68,382.01 386.68,388.79 385.68,395.56 384.63,402.34 383.58,409.12 382.38,415.9" fill="none" stroke="#ff2200" stroke-opacity="0.34" stroke-width="1.36" mask="url(#fringeMask)"/>
<polyline points="398.45,49.87 399.22,56.65 399.63,63.43 400.19,70.21 401,76.98 401.78,83.76 402.43,90.54 403.03,97.32 403.57,104.1 404.12,110.87 404.65,117.65 405.19,124.43 405.69,131.21 406.11,137.99 406.45,144.77 406.84,151.54 407.23,158.32 407.48,165.1 407.73,171.88 407.92,178.66 408.06,185.44 408.21,192.21 408.32,198.99 408.44,205.77 408.42,212.55 408.4,219.33 408.27,226.11 408.03,232.88 407.79,239.66 407.44,246.44 407.1,253.22 406.83,260 406.55,266.78 406.21,273.55 405.86,280.33 405.51,287.11 405.22,293.89 404.9,300.67 404.38,307.45 403.66,314.22 403.08,321 402.54,327.78 401.99,334.56 401.42,341.34 400.88,348.12 400.21,354.89 398.83,361.67 396.88,368.45 395.69,375.23 394.51,382.01 393.57,388.79 392.62,395.56 391.63,402.34 390.64,409.12 389.51,415.9" fill="none" stroke="#ff2200" stroke-opacity="0.35" stroke-width="1.13" mask="url(#fringeMask)"/>
<polyline points="405.05,49.87 405.77,56.65 406.15,63.43 406.68,70.21 407.45,76.98 408.18,83.76 408.79,90.54 409.35,97.32 409.86,104.1 410.38,110.87 410.88,117.65 411.39,124.43 411.85,131.21 412.25,137.99 412.58,144.77 412.94,151.54 413.31,158.32 413.54,165.1 413.77,171.88 413.96,178.66 414.09,185.44 414.23,192.21 414.33,198.99 414.44,205.77 414.42,212.55 414.41,219.33 414.29,226.11 414.06,232.88 413.83,239.66 413.51,246.44 413.19,253.22 412.93,260 412.67,266.78 412.34,273.55 412.02,280.33 411.69,287.11 411.42,293.89 411.11,300.67 410.62,307.45 409.95,314.22 409.4,321 408.89,327.78 408.37,334.56 407.84,341.34 407.33,348.12 406.7,354.89 405.4,361.67 403.57,368.45 402.45,375.23 401.34,382.01 400.45,388.79 399.57,395.56 398.64,402.34 397.71,409.12 396.64,415.9" fill="none" stroke="#ff2200" stroke-opacity="0.25" stroke-width="1.09" mask="url(#fringeMask)"/>
<polyline points="412.75,49.87 413.41,56.65 413.77,63.43 414.26,70.21 414.97,76.98 415.64,83.76 416.21,90.54 416.73,97.32 417.21,104.1 417.68,110.87 418.15,117.65 418.61,124.43 419.05,131.21 419.42,137.99 419.72,144.77 420.06,151.54 420.4,158.32 420.61,165.1 420.83,171.88 421,178.66 421.12,185.44 421.25,192.21 421.34,198.99 421.44,205.77 421.43,212.55 421.42,219.33 421.3,226.11 421.09,232.88 420.88,239.66 420.58,246.44 420.28,253.22 420.04,260 419.8,266.78 419.5,273.55 419.2,280.33 418.9,287.11 418.64,293.89 418.36,300.67 417.91,307.45 417.29,314.22 416.78,321 416.3,327.78 415.82,334.56 415.33,341.34 414.86,348.12 414.27,354.89 413.07,361.67 411.37,368.45 410.34,375.23 409.31,382.01 408.49,388.79 407.67,395.56 406.81,402.34 405.94,409.12 404.95,415.9" fill="none" stroke="#ff2200" stroke-opacity="0.3" stroke-width="1.74" mask="url(#fringeMask)"/>
<polyline points="420.44,49.87 421.05,56.65 421.38,63.43 421.83,70.21 422.49,76.98 423.11,83.76 423.63,90.54 424.11,97.32 424.55,104.1 424.99,110.87 425.41,117.65 425.84,124.43 426.24,131.21 426.58,137.99 426.86,144.77 427.17,151.54 427.48,158.32 427.68,165.1 427.88,171.88 428.04,178.66 428.15,185.44 428.27,192.21 428.36,198.99 428.45,205.77 428.43,212.55 428.42,219.33 428.32,226.11 428.12,232.88 427.93,239.66 427.65,246.44 427.38,253.22 427.16,260 426.94,266.78 426.66,273.55 426.38,280.33 426.1,287.11 425.87,293.89 425.61,300.67 425.19,307.45 424.62,314.22 424.15,321 423.72,327.78 423.28,334.56 422.82,341.34 422.39,348.12 421.85,354.89 420.74,361.67 419.18,368.45 418.23,375.23 417.28,382.01 416.52,388.79 415.77,395.56 414.97,402.34 414.18,409.12 413.27,415.9" fill="none" stroke="#ff2200" stroke-opacity="0.32" stroke-width="1.62" mask="url(#fringeMask)"/>
<polyline points="428.14,49.87 428.7,56.65 429,63.43 429.41,70.21 430.01,76.98 430.58,83.76 431.05,90.54 431.49,97.32 431.89,104.1 432.29,110.87 432.68,117.65 433.07,124.43 433.44,131.21 433.75,137.99 434,144.77 434.29,151.54 434.57,158.32 434.75,165.1 434.93,171.88 435.08,178.66 435.18,185.44 435.29,192.21 435.37,198.99 435.45,205.77 435.44,212.55 435.43,219.33 435.33,226.11 435.16,232.88 434.98,239.66 434.73,246.44 434.48,253.22 434.28,260 434.07,266.78 433.82,273.55 433.57,280.33 433.31,287.11 433.1,293.89 432.86,300.67 432.48,307.45 431.96,314.22 431.53,321 431.13,327.78 430.73,334.56 430.31,341.34 429.92,348.12 429.42,354.89 428.41,361.67 426.98,368.45 426.12,375.23 425.25,382.01 424.56,388.79 423.87,395.56 423.14,402.34 422.42,409.12 421.59,415.9" fill="none" stroke="#ff2200" stroke-opacity="0.28" stroke-width="1.6" mask="url(#fringeMask)"/>
<polyline points="436.93,49.87 437.43,56.65 437.7,63.43 438.07,70.21 438.6,76.98 439.11,83.76 439.53,90.54 439.92,97.32 440.28,104.1 440.64,110.87 440.99,117.65 441.34,124.43 441.66,131.21 441.94,137.99 442.16,144.77 442.42,151.54 442.67,158.32 442.83,165.1 443,171.88 443.12,178.66 443.22,185.44 443.31,192.21 443.38,198.99 443.46,205.77 443.45,212.55 443.44,219.33 443.35,226.11 443.19,232.88 443.03,239.66 442.81,246.44 442.59,253.22 442.41,260 442.23,266.78 442,273.55 441.77,280.33 441.55,287.11 441.36,293.89 441.15,300.67 440.81,307.45 440.34,314.22 439.96,321 439.6,327.78 439.24,334.56 438.88,341.34 438.52,348.12 438.08,354.89 437.18,361.67 435.91,368.45 435.13,375.23 434.36,382.01 433.74,388.79 433.13,395.56 432.48,402.34 431.83,409.12 431.09,415.9" fill="none" stroke="#ff2200" stroke-opacity="0.22" stroke-width="1.23" mask="url(#fringeMask)"/>
<polyline points="445.73,49.87 446.17,56.65 446.4,63.43 446.73,70.21 447.19,76.98 447.64,83.76 448.01,90.54 448.36,97.32 448.67,104.1 448.98,110.87 449.29,117.65 449.6,124.43 449.88,131.21 450.13,137.99 450.33,144.77 450.55,151.54 450.77,158.32 450.91,165.1 451.06,171.88 451.17,178.66 451.25,185.44 451.33,192.21 451.4,198.99 451.46,205.77 451.45,212.55 451.44,219.33 451.37,226.11 451.23,232.88 451.09,239.66 450.89,246.44 450.7,253.22 450.54,260 450.38,266.78 450.18,273.55 449.98,280.33 449.78,287.11 449.62,293.89 449.43,300.67 449.13,307.45 448.72,314.22 448.39,321 448.08,327.78 447.76,334.56 447.44,341.34 447.13,348.12 446.74,354.89 445.94,361.67 444.83,368.45 444.15,375.23 443.46,382.01 442.92,388.79 442.38,395.56 441.82,402.34 441.25,409.12 440.59,415.9" fill="none" stroke="#ff2200" stroke-opacity="0.33" stroke-width="1.58" mask="url(#fringeMask)"/>
<polyline points="455.63,49.87 456,56.65 456.19,63.43 456.47,70.21 456.86,76.98 457.24,83.76 457.55,90.54 457.84,97.32 458.11,104.1 458.37,110.87 458.63,117.65 458.89,124.43 459.13,131.21 459.34,137.99 459.51,144.77 459.7,151.54 459.89,158.32 460.01,165.1 460.13,171.88 460.22,178.66 460.29,185.44 460.36,192.21 460.41,198.99 460.47,205.77 460.46,212.55 460.45,219.33 460.39,226.11 460.27,232.88 460.15,239.66 459.99,246.44 459.82,253.22 459.69,260 459.56,266.78 459.39,273.55 459.22,280.33 459.05,287.11 458.91,293.89 458.75,300.67 458.5,307.45 458.15,314.22 457.87,321 457.61,327.78 457.34,334.56 457.07,341.34 456.8,348.12 456.48,354.89 455.81,361.67 454.86,368.45 454.29,375.23 453.71,382.01 453.25,388.79 452.8,395.56 452.32,402.34 451.84,409.12 451.29,415.9" fill="none" stroke="#ff2200" stroke-opacity="0.28" stroke-width="1.07" mask="url(#fringeMask)"/>
<polyline points="465.52,49.87 465.82,56.65 465.99,63.43 466.21,70.21 466.53,76.98 466.84,83.76 467.1,90.54 467.33,97.32 467.55,104.1 467.76,110.87 467.98,117.65 468.19,124.43 468.39,131.21 468.55,137.99 468.69,144.77 468.84,151.54 469,158.32 469.1,165.1 469.19,171.88 469.27,178.66 469.33,185.44 469.38,192.21 469.43,198.99 469.47,205.77 469.47,212.55 469.46,219.33 469.41,226.11 469.31,232.88 469.22,239.66 469.08,246.44 468.95,253.22 468.84,260 468.73,266.78 468.59,273.55 468.45,280.33 468.32,287.11 468.2,293.89 468.07,300.67 467.87,307.45 467.58,314.22 467.35,321 467.14,327.78 466.92,334.56 466.7,341.34 466.48,348.12 466.21,354.89 465.67,361.67 464.9,368.45 464.43,375.23 463.96,382.01 463.59,388.79 463.21,395.56 462.82,402.34 462.43,409.12 461.98,415.9" fill="none" stroke="#ff2200" stroke-opacity="0.25" stroke-width="1.17" mask="url(#fringeMask)"/>
<polyline points="475.79,49.87 476.07,56.65 476.22,63.43 476.43,70.21 476.73,76.98 477.02,83.76 477.26,90.54 477.48,97.32 477.68,104.1 477.88,110.87 478.08,117.65 478.28,124.43 478.46,131.21 478.62,137.99 478.74,144.77 478.89,151.54 479.03,158.32 479.12,165.1 479.21,171.88 479.29,178.66 479.34,185.44 479.39,192.21 479.43,198.99 479.48,205.77 479.47,212.55 479.46,219.33 479.42,226.11 479.33,232.88 479.24,239.66 479.11,246.44 478.98,253.22 478.88,260 478.78,266.78 478.65,273.55 478.52,280.33 478.4,287.11 478.29,293.89 478.17,300.67 477.98,307.45 477.71,314.22 477.5,321 477.3,327.78 477.09,334.56 476.88,341.34 476.68,348.12 476.43,354.89 475.92,361.67 475.2,368.45 474.77,375.23 474.33,382.01 473.98,388.79 473.63,395.56 473.27,402.34 472.9,409.12 472.48,415.9" fill="none" stroke="#ff2200" stroke-opacity="0.26" stroke-width="1.65" mask="url(#fringeMask)"/>
<rect x="270.15" y="9.2" width="69.75" height="13.86" fill="url(#r0)" shape-rendering="crispEdges"/>
<rect x="276.6" y="22.76" width="67.76" height="13.86" fill="url(#r1)" shape-rendering="crispEdges"/>
<rect x="283.19" y="36.31" width="67.19" height="13.86" fill="url(#r2)" shape-rendering="crispEdges"/>
<rect x="287.85" y="49.87" width="66.46" height="13.86" fill="url(#r3)" shape-rendering="crispEdges"/>
<rect x="289.66" y="63.43" width="66.01" height="7.08" fill="url(#r4)" shape-rendering="crispEdges"/>
<rect x="292.35" y="70.21" width="65.18" height="7.08" fill="url(#r5)" shape-rendering="crispEdges"/>
<rect x="295.53" y="76.98" width="64.48" height="7.08" fill="url(#r6)" shape-rendering="crispEdges"/>
<rect x="297.51" y="83.76" width="64.21" height="7.08" fill="url(#r7)" shape-rendering="crispEdges"/>
<rect x="299.47" y="90.54" width="63.97" height="7.08" fill="url(#r8)" shape-rendering="crispEdges"/>
<rect x="301.42" y="97.32" width="63.44" height="7.08" fill="url(#r9)" shape-rendering="crispEdges"/>
<rect x="303.35" y="104.1" width="62.94" height="7.08" fill="url(#r10)" shape-rendering="crispEdges"/>
<rect x="305.12" y="110.87" width="62.62" height="7.08" fill="url(#r11)" shape-rendering="crispEdges"/>
<rect x="306.7" y="117.65" width="62.48" height="7.08" fill="url(#r12)" shape-rendering="crispEdges"/>
<rect x="308.14" y="124.43" width="62.44" height="7.08" fill="url(#r13)" shape-rendering="crispEdges"/>
<rect x="309.51" y="131.21" width="62.44" height="7.08" fill="url(#r14)" shape-rendering="crispEdges"/>
<rect x="310.8" y="137.99" width="62.06" height="7.08" fill="url(#r15)" shape-rendering="crispEdges"/>
<rect x="311.81" y="144.77" width="62.05" height="7.08" fill="url(#r16)" shape-rendering="crispEdges"/>
<rect x="312.85" y="151.54" width="62.09" height="7.08" fill="url(#r17)" shape-rendering="crispEdges"/>
<rect x="313.91" y="158.32" width="61.9" height="7.08" fill="url(#r18)" shape-rendering="crispEdges"/>
<rect x="314.71" y="165.1" width="61.77" height="7.08" fill="url(#r19)" shape-rendering="crispEdges"/>
<rect x="315.5" y="171.88" width="61.66" height="7.08" fill="url(#r20)" shape-rendering="crispEdges"/>
<rect x="316.04" y="178.66" width="61.51" height="7.08" fill="url(#r21)" shape-rendering="crispEdges"/>
<rect x="316.56" y="185.44" width="61.38" height="7.08" fill="url(#r22)" shape-rendering="crispEdges"/>
<rect x="316.86" y="192.21" width="61.44" height="7.08" fill="url(#r23)" shape-rendering="crispEdges"/>
<rect x="317.15" y="198.99" width="61.48" height="7.08" fill="url(#r24)" shape-rendering="crispEdges"/>
<rect x="317.22" y="205.77" width="61.56" height="7.08" fill="url(#r25)" shape-rendering="crispEdges"/>
<rect x="317.06" y="212.55" width="61.67" height="7.08" fill="url(#r26)" shape-rendering="crispEdges"/>
<rect x="316.89" y="219.33" width="61.62" height="7.08" fill="url(#r27)" shape-rendering="crispEdges"/>
<rect x="316.2" y="226.11" width="61.76" height="7.08" fill="url(#r28)" shape-rendering="crispEdges"/>
<rect x="315.5" y="232.88" width="61.75" height="7.08" fill="url(#r29)" shape-rendering="crispEdges"/>
<rect x="314.77" y="239.66" width="61.63" height="7.08" fill="url(#r30)" shape-rendering="crispEdges"/>
<rect x="314.01" y="246.44" width="61.41" height="7.08" fill="url(#r31)" shape-rendering="crispEdges"/>
<rect x="313.25" y="253.22" width="61.32" height="7.08" fill="url(#r32)" shape-rendering="crispEdges"/>
<rect x="312.49" y="260" width="61.33" height="7.08" fill="url(#r33)" shape-rendering="crispEdges"/>
<rect x="311.72" y="266.78" width="61.27" height="7.08" fill="url(#r34)" shape-rendering="crispEdges"/>
<rect x="310.58" y="273.55" width="61.49" height="7.08" fill="url(#r35)" shape-rendering="crispEdges"/>
<rect x="309.12" y="280.33" width="62.04" height="7.08" fill="url(#r36)" shape-rendering="crispEdges"/>
<rect x="307.36" y="287.11" width="63.01" height="7.08" fill="url(#r37)" shape-rendering="crispEdges"/>
<rect x="305.75" y="293.89" width="63.87" height="7.08" fill="url(#r38)" shape-rendering="crispEdges"/>
<rect x="303.83" y="300.67" width="65.01" height="7.08" fill="url(#r39)" shape-rendering="crispEdges"/>
<rect x="302.3" y="307.45" width="64.59" height="7.08" fill="url(#r40)" shape-rendering="crispEdges"/>
<rect x="300.15" y="314.22" width="65" height="7.08" fill="url(#r41)" shape-rendering="crispEdges"/>
<rect x="298" y="321" width="65.71" height="7.08" fill="url(#r42)" shape-rendering="crispEdges"/>
<rect x="295.53" y="327.78" width="66.82" height="7.08" fill="url(#r43)" shape-rendering="crispEdges"/>
<rect x="293.46" y="334.56" width="67.49" height="7.08" fill="url(#r44)" shape-rendering="crispEdges"/>
<rect x="291.27" y="341.34" width="68.34" height="7.08" fill="url(#r45)" shape-rendering="crispEdges"/>
<rect x="288.27" y="348.12" width="70.05" height="7.08" fill="url(#r46)" shape-rendering="crispEdges"/>
<rect x="285.35" y="354.89" width="70.86" height="7.08" fill="url(#r47)" shape-rendering="crispEdges"/>
<rect x="280.31" y="361.67" width="67.55" height="13.86" fill="url(#r48)" shape-rendering="crispEdges"/>
<rect x="274.41" y="375.23" width="67.08" height="13.86" fill="url(#r49)" shape-rendering="crispEdges"/>
<rect x="268.25" y="388.79" width="68.47" height="13.86" fill="url(#r50)" shape-rendering="crispEdges"/>
<rect x="260.75" y="402.34" width="71" height="13.86" fill="url(#r51)" shape-rendering="crispEdges"/>
<line x1="347.45" y1="9.2" x2="347.45" y2="420.9" stroke="#fff" stroke-width="4.8" stroke-dasharray="13.3 13.3" stroke-dashoffset="0" />
</g>
<line x1="255.9" y1="212.6" x2="311.4" y2="212.6" stroke="#fff" stroke-width="5.2" />
<polygon points="324.4,212.6 304.9,206.4 308.4,212.6 304.9,218.8" fill="#fff"/>
<line x1="437.2" y1="212.6" x2="382.5" y2="212.6" stroke="#fff" stroke-width="5.2" />
<polygon points="369.5,212.6 389,206.4 385.5,212.6 389,218.8" fill="#fff"/>
<text x="184.8" y="208" font-size="20.8" fill="#fff" stroke="#fff" stroke-width="0.55" >~25nm</text>
<text x="356" y="366.4" font-size="20.8" fill="#fff" stroke="#fff" stroke-width="0.55" >λ<tspan dx="0.6"> =</tspan><tspan dx="0.6"> 633nm</tspan></text>
<text x="82.2" y="383.6" font-size="29" font-weight="bold" fill="#fff" stroke="#fff" stroke-width="0.2" >(a)</text>
<rect x="61" y="9.2" width="430" height="406.7" fill="none" stroke="#262626" stroke-width="1.8"/>
<line x1="61" y1="415.9" x2="61" y2="411.3" stroke="#262626" stroke-width="1.6" />
<line x1="61" y1="9.2" x2="61" y2="13.8" stroke="#262626" stroke-width="1.6" />
<text x="61" y="442.8" font-size="21" text-anchor="middle" stroke="#000" stroke-width="0.55" >500</text>
<line x1="168.5" y1="415.9" x2="168.5" y2="411.3" stroke="#262626" stroke-width="1.6" />
<line x1="168.5" y1="9.2" x2="168.5" y2="13.8" stroke="#262626" stroke-width="1.6" />
<text x="168.5" y="442.8" font-size="21" text-anchor="middle" stroke="#000" stroke-width="0.55" >550</text>
<line x1="276" y1="415.9" x2="276" y2="411.3" stroke="#262626" stroke-width="1.6" />
<line x1="276" y1="9.2" x2="276" y2="13.8" stroke="#262626" stroke-width="1.6" />
<text x="276" y="442.8" font-size="21" text-anchor="middle" stroke="#000" stroke-width="0.55" >600</text>
<line x1="383.5" y1="415.9" x2="383.5" y2="411.3" stroke="#262626" stroke-width="1.6" />
<line x1="383.5" y1="9.2" x2="383.5" y2="13.8" stroke="#262626" stroke-width="1.6" />
<text x="383.5" y="442.8" font-size="21" text-anchor="middle" stroke="#000" stroke-width="0.55" >650</text>
<line x1="491" y1="415.9" x2="491" y2="411.3" stroke="#262626" stroke-width="1.6" />
<line x1="491" y1="9.2" x2="491" y2="13.8" stroke="#262626" stroke-width="1.6" />
<text x="491" y="442.8" font-size="21" text-anchor="middle" stroke="#000" stroke-width="0.55" >700</text>
<line x1="61" y1="415.9" x2="65.6" y2="415.9" stroke="#262626" stroke-width="1.6" />
<line x1="491" y1="415.9" x2="486.4" y2="415.9" stroke="#262626" stroke-width="1.6" />
<text x="53" y="423.7" font-size="21" text-anchor="end" stroke="#000" stroke-width="0.55" >-30</text>
<line x1="61" y1="348.12" x2="65.6" y2="348.12" stroke="#262626" stroke-width="1.6" />
<line x1="491" y1="348.12" x2="486.4" y2="348.12" stroke="#262626" stroke-width="1.6" />
<text x="53" y="355.92" font-size="21" text-anchor="end" stroke="#000" stroke-width="0.55" >-20</text>
<line x1="61" y1="280.33" x2="65.6" y2="280.33" stroke="#262626" stroke-width="1.6" />
<line x1="491" y1="280.33" x2="486.4" y2="280.33" stroke="#262626" stroke-width="1.6" />
<text x="53" y="288.13" font-size="21" text-anchor="end" stroke="#000" stroke-width="0.55" >-<tspan font-family='NanumGothic, "Liberation Sans", sans-serif' font-size="19.53" letter-spacing="-0.16">1</tspan>0</text>
<line x1="61" y1="212.55" x2="65.6" y2="212.55" stroke="#262626" stroke-width="1.6" />
<line x1="491" y1="212.55" x2="486.4" y2="212.55" stroke="#262626" stroke-width="1.6" />
<text x="53" y="220.35" font-size="21" text-anchor="end" stroke="#000" stroke-width="0.55" >0</text>
<line x1="61" y1="144.77" x2="65.6" y2="144.77" stroke="#262626" stroke-width="1.6" />
<line x1="491" y1="144.77" x2="486.4" y2="144.77" stroke="#262626" stroke-width="1.6" />
<text x="53" y="152.57" font-size="21" text-anchor="end" stroke="#000" stroke-width="0.55" ><tspan font-family='NanumGothic, "Liberation Sans", sans-serif' font-size="19.53" letter-spacing="-0.16">1</tspan>0</text>
<line x1="61" y1="76.98" x2="65.6" y2="76.98" stroke="#262626" stroke-width="1.6" />
<line x1="491" y1="76.98" x2="486.4" y2="76.98" stroke="#262626" stroke-width="1.6" />
<text x="53" y="84.78" font-size="21" text-anchor="end" stroke="#000" stroke-width="0.55" >20</text>
<line x1="61" y1="9.2" x2="65.6" y2="9.2" stroke="#262626" stroke-width="1.6" />
<line x1="491" y1="9.2" x2="486.4" y2="9.2" stroke="#262626" stroke-width="1.6" />
<text x="53" y="17" font-size="21" text-anchor="end" stroke="#000" stroke-width="0.55" >30</text>
<text x="273.3" y="468.8" font-size="21" text-anchor="middle" stroke="#000" stroke-width="0.55" letter-spacing="-0.18">Wavelength (nm)</text>
<text x="0" y="0" font-size="21.7" text-anchor="middle" stroke="#000" stroke-width="0.55" transform="translate(15.3 212.3) rotate(-90)">Incident Angle (deg)</text>
<rect x="515" y="9.2" width="16" height="404.7" fill="#fff" />
<rect x="517" y="9.2" width="14" height="404.7" fill="url(#jet)" />
<rect x="515" y="9.2" width="16" height="404.7" fill="none" stroke="#262626" stroke-width="1.6"/>
<text x="536.4" y="422.2" font-size="21" stroke="#000" stroke-width="0.55" >0</text>
<line x1="531" y1="332.96" x2="527.5" y2="332.96" stroke="#262626" stroke-width="1.3" />
<text x="536.4" y="341.26" font-size="21" stroke="#000" stroke-width="0.55" >0.2</text>
<line x1="531" y1="252.02" x2="527.5" y2="252.02" stroke="#262626" stroke-width="1.3" />
<text x="536.4" y="260.32" font-size="21" stroke="#000" stroke-width="0.55" >0.4</text>
<line x1="531" y1="171.08" x2="527.5" y2="171.08" stroke="#262626" stroke-width="1.3" />
<text x="536.4" y="179.38" font-size="21" stroke="#000" stroke-width="0.55" >0.6</text>
<line x1="531" y1="90.14" x2="527.5" y2="90.14" stroke="#262626" stroke-width="1.3" />
<text x="536.4" y="98.44" font-size="21" stroke="#000" stroke-width="0.55" >0.8</text>
<text x="536.4" y="17.5" font-size="21" stroke="#000" stroke-width="0.55" ><tspan font-family='NanumGothic, "Liberation Sans", sans-serif' font-size="19.53" letter-spacing="-0.16">1</tspan></text>
<text x="0" y="0" font-size="21" text-anchor="middle" stroke="#000" stroke-width="0.55" transform="translate(573.6 212.2) rotate(90)">Transmittance</text>
<rect x="770.5" y="9.2" width="91.05" height="407.6" fill="#f3e7e8" />
<rect x="1082.95" y="9.2" width="91.05" height="407.6" fill="#f3e7e8" />
<rect x="861.55" y="9.2" width="221.4" height="407.6" fill="#f2fdfe" />
<rect x="893.5" y="37.8" width="141" height="36.4" fill="#fff" />
<line x1="750.85" y1="9.2" x2="750.85" y2="416.8" stroke="#dfdfdf" stroke-width="1.3" />
<line x1="806.2" y1="9.2" x2="806.2" y2="416.8" stroke="#dfdfdf" stroke-width="1.3" />
<line x1="861.55" y1="9.2" x2="861.55" y2="416.8" stroke="#dfdfdf" stroke-width="1.3" />
<line x1="916.9" y1="9.2" x2="916.9" y2="416.8" stroke="#dfdfdf" stroke-width="1.3" />
<line x1="972.25" y1="9.2" x2="972.25" y2="416.8" stroke="#dfdfdf" stroke-width="1.3" />
<line x1="1027.6" y1="9.2" x2="1027.6" y2="416.8" stroke="#dfdfdf" stroke-width="1.3" />
<line x1="1082.95" y1="9.2" x2="1082.95" y2="416.8" stroke="#dfdfdf" stroke-width="1.3" />
<line x1="1138.3" y1="9.2" x2="1138.3" y2="416.8" stroke="#dfdfdf" stroke-width="1.3" />
<line x1="1193.65" y1="9.2" x2="1193.65" y2="416.8" stroke="#dfdfdf" stroke-width="1.3" />
<line x1="695.5" y1="342.7" x2="1249" y2="342.7" stroke="#dfdfdf" stroke-width="1.3" />
<line x1="695.5" y1="268.6" x2="1249" y2="268.6" stroke="#dfdfdf" stroke-width="1.3" />
<line x1="695.5" y1="194.5" x2="1249" y2="194.5" stroke="#dfdfdf" stroke-width="1.3" />
<line x1="695.5" y1="120.4" x2="1249" y2="120.4" stroke="#dfdfdf" stroke-width="1.3" />
<line x1="695.5" y1="46.3" x2="1249" y2="46.3" stroke="#dfdfdf" stroke-width="1.3" />
<line x1="889.4" y1="40.4" x2="818.9" y2="52.51" stroke="#2a62c6" stroke-width="2.1" />
<polygon points="812,53.7 821.2,48.16 819.1,52.48 822.52,55.85" fill="#2a62c6"/>
<line x1="1056.2" y1="40.6" x2="1126.1" y2="52.34" stroke="#2a62c6" stroke-width="2.1" />
<polygon points="1133,53.5 1122.49,55.69 1125.9,52.31 1123.78,48" fill="#2a62c6"/>
<line x1="866.8" y1="268.9" x2="1077.6" y2="268.9" stroke="#2a62c6" stroke-width="2.1" />
<polygon points="1084.6,268.9 1074.6,272.8 1077.4,268.9 1074.6,265" fill="#2a62c6"/>
<polygon points="859.8,268.9 869.8,265 867,268.9 869.8,272.8" fill="#2a62c6"/>
<text x="910" y="41.8" font-size="20.8" stroke="#000" stroke-width="0.55" >contrast zone</text>
<text x="896" y="258.5" font-size="20.8" stroke="#000" stroke-width="0.55" >suppresion zone</text>
<g clip-path="url(#clipB)">
<polyline points="695.5,61.4 708.08,60.9 720.66,60.9 733.24,65.1 745.82,57.8 758.4,59.9 770.98,60.9 783.56,61.5 796.14,62.4 808.72,90.2 821.3,154.7 833.88,259.7 846.45,338 859.03,390.9 871.61,408.4 884.19,410.8 896.77,412.1 909.35,412.8 921.93,412.8 934.51,413 947.09,413.2 959.67,413.2 972.25,413.2 984.83,413.2 997.41,413.2 1009.99,413 1022.57,413 1035.15,412.8 1047.73,412.3 1060.31,409.5 1072.89,405 1085.47,371.6 1098.05,272.5 1110.62,191 1123.2,116.5 1135.78,69.5 1148.36,54 1160.94,52 1173.52,49.4 1186.1,47.8 1198.68,48.8 1211.26,52 1223.84,46.7 1236.42,45.2 1249,46.2" fill="none" stroke="#ff0000" stroke-width="2.4" stroke-linejoin="round"/>
<circle cx="695.5" cy="61.4" r="2.1" fill="#ff0000"/>
<circle cx="708.08" cy="60.9" r="2.1" fill="#ff0000"/>
<circle cx="720.66" cy="60.9" r="2.1" fill="#ff0000"/>
<circle cx="733.24" cy="65.1" r="2.1" fill="#ff0000"/>
<circle cx="745.82" cy="57.8" r="2.1" fill="#ff0000"/>
<circle cx="758.4" cy="59.9" r="2.1" fill="#ff0000"/>
<circle cx="770.98" cy="60.9" r="2.1" fill="#ff0000"/>
<circle cx="783.56" cy="61.5" r="2.1" fill="#ff0000"/>
<circle cx="796.14" cy="62.4" r="2.1" fill="#ff0000"/>
<circle cx="808.72" cy="90.2" r="2.1" fill="#ff0000"/>
<circle cx="821.3" cy="154.7" r="2.1" fill="#ff0000"/>
<circle cx="833.88" cy="259.7" r="2.1" fill="#ff0000"/>
<circle cx="846.45" cy="338" r="2.1" fill="#ff0000"/>
<circle cx="859.03" cy="390.9" r="2.1" fill="#ff0000"/>
<circle cx="871.61" cy="408.4" r="2.1" fill="#ff0000"/>
<circle cx="884.19" cy="410.8" r="2.1" fill="#ff0000"/>
<circle cx="896.77" cy="412.1" r="2.1" fill="#ff0000"/>
<circle cx="909.35" cy="412.8" r="2.1" fill="#ff0000"/>
<circle cx="921.93" cy="412.8" r="2.1" fill="#ff0000"/>
<circle cx="934.51" cy="413" r="2.1" fill="#ff0000"/>
<circle cx="947.09" cy="413.2" r="2.1" fill="#ff0000"/>
<circle cx="959.67" cy="413.2" r="2.1" fill="#ff0000"/>
<circle cx="972.25" cy="413.2" r="2.1" fill="#ff0000"/>
<circle cx="984.83" cy="413.2" r="2.1" fill="#ff0000"/>
<circle cx="997.41" cy="413.2" r="2.1" fill="#ff0000"/>
<circle cx="1009.99" cy="413" r="2.1" fill="#ff0000"/>
<circle cx="1022.57" cy="413" r="2.1" fill="#ff0000"/>
<circle cx="1035.15" cy="412.8" r="2.1" fill="#ff0000"/>
<circle cx="1047.73" cy="412.3" r="2.1" fill="#ff0000"/>
<circle cx="1060.31" cy="409.5" r="2.1" fill="#ff0000"/>
<circle cx="1072.89" cy="405" r="2.1" fill="#ff0000"/>
<circle cx="1085.47" cy="371.6" r="2.1" fill="#ff0000"/>
<circle cx="1098.05" cy="272.5" r="2.1" fill="#ff0000"/>
<circle cx="1110.62" cy="191" r="2.1" fill="#ff0000"/>
<circle cx="1123.2" cy="116.5" r="2.1" fill="#ff0000"/>
<circle cx="1135.78" cy="69.5" r="2.1" fill="#ff0000"/>
<circle cx="1148.36" cy="54" r="2.1" fill="#ff0000"/>
<circle cx="1160.94" cy="52" r="2.1" fill="#ff0000"/>
<circle cx="1173.52" cy="49.4" r="2.1" fill="#ff0000"/>
<circle cx="1186.1" cy="47.8" r="2.1" fill="#ff0000"/>
<circle cx="1198.68" cy="48.8" r="2.1" fill="#ff0000"/>
<circle cx="1211.26" cy="52" r="2.1" fill="#ff0000"/>
<circle cx="1223.84" cy="46.7" r="2.1" fill="#ff0000"/>
<circle cx="1236.42" cy="45.2" r="2.1" fill="#ff0000"/>
<circle cx="1249" cy="46.2" r="2.1" fill="#ff0000"/>
<polyline points="695.5,57.3 708.08,61.4 720.66,57.3 733.24,53.6 745.82,55.7 758.4,57.3 770.98,63 783.56,97.5 796.14,185.4 808.72,267.1 821.3,337.6 833.88,396.2 846.45,406.1 859.03,410 871.61,411.3 884.19,411.7 896.77,412 909.35,412.3 921.93,412.3 934.51,412.4 947.09,412.4 959.67,412.4 972.25,412.4 984.83,412.4 997.41,412.4 1009.99,412.4 1022.57,412.3 1035.15,412.3 1047.73,412.2 1060.31,411.8 1072.89,411 1085.47,409 1098.05,394.3 1110.62,360.3 1123.2,295.6 1135.78,231.7 1148.36,143.8 1160.94,86.9 1173.52,55.1 1186.1,50.9 1198.68,48.3 1211.26,45.2 1223.84,54.1 1236.42,54.6 1249,50.9" fill="none" stroke="#0000ff" stroke-width="2.3" stroke-dasharray="2.1 1.6"/>
<circle cx="695.5" cy="57.3" r="2.5" fill="#0000ff"/>
<circle cx="708.08" cy="61.4" r="2.5" fill="#0000ff"/>
<circle cx="720.66" cy="57.3" r="2.5" fill="#0000ff"/>
<circle cx="733.24" cy="53.6" r="2.5" fill="#0000ff"/>
<circle cx="745.82" cy="55.7" r="2.5" fill="#0000ff"/>
<circle cx="758.4" cy="57.3" r="2.5" fill="#0000ff"/>
<circle cx="770.98" cy="63" r="2.5" fill="#0000ff"/>
<circle cx="783.56" cy="97.5" r="2.5" fill="#0000ff"/>
<circle cx="796.14" cy="185.4" r="2.5" fill="#0000ff"/>
<circle cx="808.72" cy="267.1" r="2.5" fill="#0000ff"/>
<circle cx="821.3" cy="337.6" r="2.5" fill="#0000ff"/>
<circle cx="833.88" cy="396.2" r="2.5" fill="#0000ff"/>
<circle cx="846.45" cy="406.1" r="2.5" fill="#0000ff"/>
<circle cx="859.03" cy="410" r="2.5" fill="#0000ff"/>
<circle cx="871.61" cy="411.3" r="2.5" fill="#0000ff"/>
<circle cx="884.19" cy="411.7" r="2.5" fill="#0000ff"/>
<circle cx="896.77" cy="412" r="2.5" fill="#0000ff"/>
<circle cx="909.35" cy="412.3" r="2.5" fill="#0000ff"/>
<circle cx="921.93" cy="412.3" r="2.5" fill="#0000ff"/>
<circle cx="934.51" cy="412.4" r="2.5" fill="#0000ff"/>
<circle cx="947.09" cy="412.4" r="2.5" fill="#0000ff"/>
<circle cx="959.67" cy="412.4" r="2.5" fill="#0000ff"/>
<circle cx="972.25" cy="412.4" r="2.5" fill="#0000ff"/>
<circle cx="984.83" cy="412.4" r="2.5" fill="#0000ff"/>
<circle cx="997.41" cy="412.4" r="2.5" fill="#0000ff"/>
<circle cx="1009.99" cy="412.4" r="2.5" fill="#0000ff"/>
<circle cx="1022.57" cy="412.3" r="2.5" fill="#0000ff"/>
<circle cx="1035.15" cy="412.3" r="2.5" fill="#0000ff"/>
<circle cx="1047.73" cy="412.2" r="2.5" fill="#0000ff"/>
<circle cx="1060.31" cy="411.8" r="2.5" fill="#0000ff"/>
<circle cx="1072.89" cy="411" r="2.5" fill="#0000ff"/>
<circle cx="1085.47" cy="409" r="2.5" fill="#0000ff"/>
<circle cx="1098.05" cy="394.3" r="2.5" fill="#0000ff"/>
<circle cx="1110.62" cy="360.3" r="2.5" fill="#0000ff"/>
<circle cx="1123.2" cy="295.6" r="2.5" fill="#0000ff"/>
<circle cx="1135.78" cy="231.7" r="2.5" fill="#0000ff"/>
<circle cx="1148.36" cy="143.8" r="2.5" fill="#0000ff"/>
<circle cx="1160.94" cy="86.9" r="2.5" fill="#0000ff"/>
<circle cx="1173.52" cy="55.1" r="2.5" fill="#0000ff"/>
<circle cx="1186.1" cy="50.9" r="2.5" fill="#0000ff"/>
<circle cx="1198.68" cy="48.3" r="2.5" fill="#0000ff"/>
<circle cx="1211.26" cy="45.2" r="2.5" fill="#0000ff"/>
<circle cx="1223.84" cy="54.1" r="2.5" fill="#0000ff"/>
<circle cx="1236.42" cy="54.6" r="2.5" fill="#0000ff"/>
<circle cx="1249" cy="50.9" r="2.5" fill="#0000ff"/>
<polyline points="695.5,76.6 708.08,77.4 720.66,71.4 733.24,65.1 745.82,62.8 758.4,64.9 770.98,68 783.56,85 796.14,111 808.72,159.3 821.3,232.6 833.88,308 846.45,353.7 859.03,390.6 871.61,405 884.19,410.6 896.77,412.1 909.35,412.8 921.93,412.8 934.51,412.9 947.09,413 959.67,413.1 972.25,413.1 984.83,413.1 997.41,413 1009.99,412.9 1022.57,412.8 1035.15,412.6 1047.73,412.2 1060.31,411.5 1072.89,410 1085.47,397 1098.05,371.6 1110.62,334 1123.2,252 1135.78,194 1148.36,140 1160.94,107.5 1173.52,57.7 1186.1,50.4 1198.68,45.7 1211.26,45.7 1223.84,46.5 1236.42,49.9 1249,47.3" fill="none" stroke="#000" stroke-width="2.6" stroke-dasharray="8.5 6.2" stroke-linejoin="round"/>
<circle cx="695.5" cy="76.6" r="2.4" fill="#000"/>
<circle cx="708.08" cy="77.4" r="2.4" fill="#000"/>
<circle cx="720.66" cy="71.4" r="2.4" fill="#000"/>
<circle cx="733.24" cy="65.1" r="2.4" fill="#000"/>
<circle cx="745.82" cy="62.8" r="2.4" fill="#000"/>
<circle cx="758.4" cy="64.9" r="2.4" fill="#000"/>
<circle cx="770.98" cy="68" r="2.4" fill="#000"/>
<circle cx="783.56" cy="85" r="2.4" fill="#000"/>
<circle cx="796.14" cy="111" r="2.4" fill="#000"/>
<circle cx="808.72" cy="159.3" r="2.4" fill="#000"/>
<circle cx="821.3" cy="232.6" r="2.4" fill="#000"/>
<circle cx="833.88" cy="308" r="2.4" fill="#000"/>
<circle cx="846.45" cy="353.7" r="2.4" fill="#000"/>
<circle cx="859.03" cy="390.6" r="2.4" fill="#000"/>
<circle cx="871.61" cy="405" r="2.4" fill="#000"/>
<circle cx="884.19" cy="410.6" r="2.4" fill="#000"/>
<circle cx="896.77" cy="412.1" r="2.4" fill="#000"/>
<circle cx="909.35" cy="412.8" r="2.4" fill="#000"/>
<circle cx="921.93" cy="412.8" r="2.4" fill="#000"/>
<circle cx="934.51" cy="412.9" r="2.4" fill="#000"/>
<circle cx="947.09" cy="413" r="2.4" fill="#000"/>
<circle cx="959.67" cy="413.1" r="2.4" fill="#000"/>
<circle cx="972.25" cy="413.1" r="2.4" fill="#000"/>
<circle cx="984.83" cy="413.1" r="2.4" fill="#000"/>
<circle cx="997.41" cy="413" r="2.4" fill="#000"/>
<circle cx="1009.99" cy="412.9" r="2.4" fill="#000"/>
<circle cx="1022.57" cy="412.8" r="2.4" fill="#000"/>
<circle cx="1035.15" cy="412.6" r="2.4" fill="#000"/>
<circle cx="1047.73" cy="412.2" r="2.4" fill="#000"/>
<circle cx="1060.31" cy="411.5" r="2.4" fill="#000"/>
<circle cx="1072.89" cy="410" r="2.4" fill="#000"/>
<circle cx="1085.47" cy="397" r="2.4" fill="#000"/>
<circle cx="1098.05" cy="371.6" r="2.4" fill="#000"/>
<circle cx="1110.62" cy="334" r="2.4" fill="#000"/>
<circle cx="1123.2" cy="252" r="2.4" fill="#000"/>
<circle cx="1135.78" cy="194" r="2.4" fill="#000"/>
<circle cx="1148.36" cy="140" r="2.4" fill="#000"/>
<circle cx="1160.94" cy="107.5" r="2.4" fill="#000"/>
<circle cx="1173.52" cy="57.7" r="2.4" fill="#000"/>
<circle cx="1186.1" cy="50.4" r="2.4" fill="#000"/>
<circle cx="1198.68" cy="45.7" r="2.4" fill="#000"/>
<circle cx="1211.26" cy="45.7" r="2.4" fill="#000"/>
<circle cx="1223.84" cy="46.5" r="2.4" fill="#000"/>
<circle cx="1236.42" cy="49.9" r="2.4" fill="#000"/>
<circle cx="1249" cy="47.3" r="2.4" fill="#000"/>
<circle cx="695.5" cy="53.9" r="3.4" fill="#00ee00" stroke="#000" stroke-width="0.9"/>
<circle cx="833.8" cy="338.8" r="3.4" fill="#00ee00" stroke="#000" stroke-width="0.9"/>
<circle cx="972.25" cy="416.3" r="3.4" fill="#00ee00" stroke="#000" stroke-width="0.9"/>
<circle cx="1110.4" cy="339" r="3.4" fill="#00ee00" stroke="#000" stroke-width="0.9"/>
<circle cx="1249" cy="53.8" r="3.4" fill="#00ee00" stroke="#000" stroke-width="0.9"/>
<polygon points="695.5,57.1 699.1,61.4 695.5,65.7 691.9,61.4" fill="none" stroke="#000" stroke-width="1.5"/>
<polygon points="833.8,406.8 837.4,411.1 833.8,415.4 830.2,411.1" fill="none" stroke="#000" stroke-width="1.5"/>
<polygon points="972.25,412 975.85,416.3 972.25,420.6 968.65,416.3" fill="none" stroke="#000" stroke-width="1.5"/>
<polygon points="1110.4,406.3 1114,410.6 1110.4,414.9 1106.8,410.6" fill="none" stroke="#000" stroke-width="1.5"/>
<polygon points="1249,57.6 1252.6,61.9 1249,66.2 1245.4,61.9" fill="none" stroke="#000" stroke-width="1.5"/>
</g>
<rect x="876.5" y="74.2" width="191.9" height="116.8" fill="#fff" stroke="#262626" stroke-width="1.5"/>
<line x1="880.2" y1="87" x2="905.7" y2="87" stroke="#ff0000" stroke-width="2.4" />
<circle cx="893" cy="87" r="2.1" fill="#ff0000"/>
<line x1="880.2" y1="109.7" x2="905.7" y2="109.7" stroke="#0000ff" stroke-width="2.3" stroke-dasharray="2.1 1.6"/>
<circle cx="893" cy="109.7" r="2.5" fill="#0000ff"/>
<line x1="880.2" y1="132.4" x2="894" y2="132.4" stroke="#000" stroke-width="2.6" />
<line x1="899.5" y1="132.4" x2="905.7" y2="132.4" stroke="#000" stroke-width="2.6" />
<circle cx="893" cy="132.4" r="2.4" fill="#000"/>
<circle cx="893" cy="155.1" r="2.8" fill="#00ee00"/>
<polygon points="893,175.2 896.1,178.8 893,182.4 889.9,178.8" fill="none" stroke="#000" stroke-width="1.5"/>
<text x="907.3" y="93.9" font-size="20.9" stroke="#000" stroke-width="0.55" >p-pol.</text>
<text x="907.8" y="116.6" font-size="20.9" stroke="#000" stroke-width="0.55" >s-pol.</text>
<text x="907.8" y="139.3" font-size="20.9" stroke="#000" stroke-width="0.55" >Circ.pol.</text>
<text x="909.4" y="162" font-size="20.9" stroke="#000" stroke-width="0.55" >Thorlabs p-pol.</text>
<text x="909.4" y="184.7" font-size="20.9" stroke="#000" stroke-width="0.55" >Thorlabs s-pol.</text>
<text x="704" y="395.3" font-size="29" font-weight="bold" stroke="#000" stroke-width="0.2" >(b)</text>
<rect x="695.5" y="9.2" width="553.5" height="407.6" fill="none" stroke="#262626" stroke-width="1.8"/>
<line x1="695.5" y1="416.8" x2="695.5" y2="410.5" stroke="#262626" stroke-width="1.6" />
<line x1="695.5" y1="9.2" x2="695.5" y2="15.5" stroke="#262626" stroke-width="1.6" />
<text x="693.5" y="442.4" font-size="21" text-anchor="middle" stroke="#000" stroke-width="0.55" >-0.5</text>
<line x1="750.85" y1="416.8" x2="750.85" y2="410.5" stroke="#262626" stroke-width="1.6" />
<line x1="750.85" y1="9.2" x2="750.85" y2="15.5" stroke="#262626" stroke-width="1.6" />
<text x="748.85" y="442.4" font-size="21" text-anchor="middle" stroke="#000" stroke-width="0.55" >-0.4</text>
<line x1="806.2" y1="416.8" x2="806.2" y2="410.5" stroke="#262626" stroke-width="1.6" />
<line x1="806.2" y1="9.2" x2="806.2" y2="15.5" stroke="#262626" stroke-width="1.6" />
<text x="804.2" y="442.4" font-size="21" text-anchor="middle" stroke="#000" stroke-width="0.55" >-0.3</text>
<line x1="861.55" y1="416.8" x2="861.55" y2="410.5" stroke="#262626" stroke-width="1.6" />
<line x1="861.55" y1="9.2" x2="861.55" y2="15.5" stroke="#262626" stroke-width="1.6" />
<text x="859.55" y="442.4" font-size="21" text-anchor="middle" stroke="#000" stroke-width="0.55" >-0.2</text>
<line x1="916.9" y1="416.8" x2="916.9" y2="410.5" stroke="#262626" stroke-width="1.6" />
<line x1="916.9" y1="9.2" x2="916.9" y2="15.5" stroke="#262626" stroke-width="1.6" />
<text x="914.9" y="442.4" font-size="21" text-anchor="middle" stroke="#000" stroke-width="0.55" >-0.<tspan font-family='NanumGothic, "Liberation Sans", sans-serif' font-size="19.53" letter-spacing="-0.16">1</tspan></text>
<line x1="972.25" y1="416.8" x2="972.25" y2="410.5" stroke="#262626" stroke-width="1.6" />
<line x1="972.25" y1="9.2" x2="972.25" y2="15.5" stroke="#262626" stroke-width="1.6" />
<text x="972.25" y="442.4" font-size="21" text-anchor="middle" stroke="#000" stroke-width="0.55" >0</text>
<line x1="1027.6" y1="416.8" x2="1027.6" y2="410.5" stroke="#262626" stroke-width="1.6" />
<line x1="1027.6" y1="9.2" x2="1027.6" y2="15.5" stroke="#262626" stroke-width="1.6" />
<text x="1027.6" y="442.4" font-size="21" text-anchor="middle" stroke="#000" stroke-width="0.55" >0.<tspan font-family='NanumGothic, "Liberation Sans", sans-serif' font-size="19.53" letter-spacing="-0.16">1</tspan></text>
<line x1="1082.95" y1="416.8" x2="1082.95" y2="410.5" stroke="#262626" stroke-width="1.6" />
<line x1="1082.95" y1="9.2" x2="1082.95" y2="15.5" stroke="#262626" stroke-width="1.6" />
<text x="1082.95" y="442.4" font-size="21" text-anchor="middle" stroke="#000" stroke-width="0.55" >0.2</text>
<line x1="1138.3" y1="416.8" x2="1138.3" y2="410.5" stroke="#262626" stroke-width="1.6" />
<line x1="1138.3" y1="9.2" x2="1138.3" y2="15.5" stroke="#262626" stroke-width="1.6" />
<text x="1138.3" y="442.4" font-size="21" text-anchor="middle" stroke="#000" stroke-width="0.55" >0.3</text>
<line x1="1193.65" y1="416.8" x2="1193.65" y2="410.5" stroke="#262626" stroke-width="1.6" />
<line x1="1193.65" y1="9.2" x2="1193.65" y2="15.5" stroke="#262626" stroke-width="1.6" />
<text x="1193.65" y="442.4" font-size="21" text-anchor="middle" stroke="#000" stroke-width="0.55" >0.4</text>
<line x1="1249" y1="416.8" x2="1249" y2="410.5" stroke="#262626" stroke-width="1.6" />
<line x1="1249" y1="9.2" x2="1249" y2="15.5" stroke="#262626" stroke-width="1.6" />
<text x="1249" y="442.4" font-size="21" text-anchor="middle" stroke="#000" stroke-width="0.55" >0.5</text>
<line x1="695.5" y1="416.8" x2="701.8" y2="416.8" stroke="#262626" stroke-width="1.6" />
<line x1="1249" y1="416.8" x2="1242.7" y2="416.8" stroke="#262626" stroke-width="1.6" />
<text x="691" y="420.1" font-size="21" text-anchor="end" stroke="#000" stroke-width="0.55" >0</text>
<line x1="695.5" y1="342.7" x2="701.8" y2="342.7" stroke="#262626" stroke-width="1.6" />
<line x1="1249" y1="342.7" x2="1242.7" y2="342.7" stroke="#262626" stroke-width="1.6" />
<text x="691" y="350.3" font-size="21" text-anchor="end" stroke="#000" stroke-width="0.55" >0.2</text>
<line x1="695.5" y1="268.6" x2="701.8" y2="268.6" stroke="#262626" stroke-width="1.6" />
<line x1="1249" y1="268.6" x2="1242.7" y2="268.6" stroke="#262626" stroke-width="1.6" />
<text x="691" y="275.5" font-size="21" text-anchor="end" stroke="#000" stroke-width="0.55" >0.4</text>
<line x1="695.5" y1="194.5" x2="701.8" y2="194.5" stroke="#262626" stroke-width="1.6" />
<line x1="1249" y1="194.5" x2="1242.7" y2="194.5" stroke="#262626" stroke-width="1.6" />
<text x="691" y="200.9" font-size="21" text-anchor="end" stroke="#000" stroke-width="0.55" >0.6</text>
<line x1="695.5" y1="120.4" x2="701.8" y2="120.4" stroke="#262626" stroke-width="1.6" />
<line x1="1249" y1="120.4" x2="1242.7" y2="120.4" stroke="#262626" stroke-width="1.6" />
<text x="691" y="125.9" font-size="21" text-anchor="end" stroke="#000" stroke-width="0.55" >0.8</text>
<line x1="695.5" y1="46.3" x2="701.8" y2="46.3" stroke="#262626" stroke-width="1.6" />
<line x1="1249" y1="46.3" x2="1242.7" y2="46.3" stroke="#262626" stroke-width="1.6" />
<text x="691" y="51" font-size="21" text-anchor="end" stroke="#000" stroke-width="0.55" ><tspan font-family='NanumGothic, "Liberation Sans", sans-serif' font-size="19.53" letter-spacing="-0.16">1</tspan></text>
<rect x="1497.65" y="9.4" width="116.21" height="407" fill="#f5eeee" />
<line x1="1426.58" y1="9.4" x2="1426.58" y2="416.4" stroke="#dfdfdf" stroke-width="1.3" />
<line x1="1497.65" y1="9.4" x2="1497.65" y2="416.4" stroke="#dfdfdf" stroke-width="1.3" />
<line x1="1568.72" y1="9.4" x2="1568.72" y2="416.4" stroke="#dfdfdf" stroke-width="1.3" />
<line x1="1355.5" y1="338.9" x2="1639.8" y2="338.9" stroke="#dfdfdf" stroke-width="1.3" />
<line x1="1355.5" y1="261.4" x2="1639.8" y2="261.4" stroke="#dfdfdf" stroke-width="1.3" />
<line x1="1355.5" y1="183.9" x2="1639.8" y2="183.9" stroke="#dfdfdf" stroke-width="1.3" />
<line x1="1355.5" y1="106.4" x2="1639.8" y2="106.4" stroke="#dfdfdf" stroke-width="1.3" />
<line x1="1355.5" y1="28.9" x2="1639.8" y2="28.9" stroke="#dfdfdf" stroke-width="1.3" />
<text x="1392.6" y="195.2" font-size="20.7" stroke="#000" stroke-width="0.55" >Δ<tspan dx="1.6"> ≈</tspan><tspan dx="1.6"> 0.2</tspan></text>
<text x="1516.5" y="357.2" font-size="20.7" stroke="#000" stroke-width="0.55" >Δ<tspan dx="1.6"> ≈</tspan><tspan dx="1.6"> 0.<tspan font-family='NanumGothic, "Liberation Sans", sans-serif' font-size="19.25" letter-spacing="-0.16">1</tspan>6</tspan></text>
<line x1="1362.6" y1="199.7" x2="1491.1" y2="199.7" stroke="#2a62c6" stroke-width="2.1" />
<polygon points="1355.6,199.7 1365.6,195.8 1362.8,199.7 1365.6,203.6" fill="#2a62c6"/>
<polygon points="1498.1,199.7 1488.1,195.8 1490.9,199.7 1488.1,203.6" fill="#2a62c6"/>
<line x1="1504.8" y1="364.3" x2="1607" y2="364.3" stroke="#2a62c6" stroke-width="2.1" />
<polygon points="1497.8,364.3 1507.8,360.4 1505,364.3 1507.8,368.2" fill="#2a62c6"/>
<polygon points="1614,364.3 1604,360.4 1606.8,364.3 1604,368.2" fill="#2a62c6"/>
<g clip-path="url(#clipC)">
<polyline points="1355.5,380.36 1371.65,380.75 1387.81,380.75 1403.96,379.78 1420.11,378.42 1436.27,377.26 1452.42,375.32 1468.57,371.06 1484.73,365.25 1500.88,327.86 1517.03,281.16 1533.19,235.82 1549.34,160.26 1565.49,114.15 1581.65,80.44 1597.8,63.39 1613.95,35.1 1630.11,31.61 1646.26,29.29" fill="none" stroke="#000" stroke-width="2.6" stroke-dasharray="8.5 6.2" stroke-dashoffset="8.41" stroke-linejoin="round"/>
<path d="M1353 377.86L1358 382.86M1353 382.86L1358 377.86" stroke="#000" stroke-width="2.3"/>
<path d="M1369.15 378.25L1374.15 383.25M1369.15 383.25L1374.15 378.25" stroke="#000" stroke-width="2.3"/>
<path d="M1385.31 378.25L1390.31 383.25M1385.31 383.25L1390.31 378.25" stroke="#000" stroke-width="2.3"/>
<path d="M1401.46 377.28L1406.46 382.28M1401.46 382.28L1406.46 377.28" stroke="#000" stroke-width="2.3"/>
<path d="M1417.61 375.92L1422.61 380.92M1417.61 380.92L1422.61 375.92" stroke="#000" stroke-width="2.3"/>
<path d="M1433.77 374.76L1438.77 379.76M1433.77 379.76L1438.77 374.76" stroke="#000" stroke-width="2.3"/>
<path d="M1449.92 372.82L1454.92 377.82M1449.92 377.82L1454.92 372.82" stroke="#000" stroke-width="2.3"/>
<path d="M1466.07 368.56L1471.07 373.56M1466.07 373.56L1471.07 368.56" stroke="#000" stroke-width="2.3"/>
<path d="M1482.23 362.75L1487.23 367.75M1482.23 367.75L1487.23 362.75" stroke="#000" stroke-width="2.3"/>
<path d="M1498.38 325.36L1503.38 330.36M1498.38 330.36L1503.38 325.36" stroke="#000" stroke-width="2.3"/>
<path d="M1514.53 278.66L1519.53 283.66M1514.53 283.66L1519.53 278.66" stroke="#000" stroke-width="2.3"/>
<path d="M1530.69 233.32L1535.69 238.32M1530.69 238.32L1535.69 233.32" stroke="#000" stroke-width="2.3"/>
<path d="M1546.84 157.76L1551.84 162.76M1546.84 162.76L1551.84 157.76" stroke="#000" stroke-width="2.3"/>
<path d="M1562.99 111.65L1567.99 116.65M1562.99 116.65L1567.99 111.65" stroke="#000" stroke-width="2.3"/>
<path d="M1579.15 77.94L1584.15 82.94M1579.15 82.94L1584.15 77.94" stroke="#000" stroke-width="2.3"/>
<path d="M1595.3 60.89L1600.3 65.89M1595.3 65.89L1600.3 60.89" stroke="#000" stroke-width="2.3"/>
<path d="M1611.45 32.6L1616.45 37.6M1611.45 37.6L1616.45 32.6" stroke="#000" stroke-width="2.3"/>
<path d="M1627.61 29.11L1632.61 34.11M1627.61 34.11L1632.61 29.11" stroke="#000" stroke-width="2.3"/>
<path d="M1643.76 26.79L1648.76 31.79M1643.76 31.79L1648.76 26.79" stroke="#000" stroke-width="2.3"/>
<line x1="1472.8" y1="416.4" x2="1601" y2="8.9" stroke="#10f010" stroke-width="2.6" />
</g>
<text x="1372.8" y="366.3" font-size="29" font-weight="bold" stroke="#000" stroke-width="0.2" >(c)</text>
<rect x="1373.2" y="23.5" width="107.3" height="42.7" fill="#fff" stroke="#262626" stroke-width="1.5"/>
<line x1="1376.3" y1="34.5" x2="1386.3" y2="34.5" stroke="#000" stroke-width="2.6" />
<path d="M1384.5 32L1389.5 37M1384.5 37L1389.5 32" stroke="#000" stroke-width="2.3"/>
<line x1="1394.1" y1="34.5" x2="1398.6" y2="34.5" stroke="#000" stroke-width="2.6" />
<line x1="1376.3" y1="54.9" x2="1398.6" y2="54.9" stroke="#10f010" stroke-width="2.6" />
<text x="1404.3" y="40.2" font-size="20.8" stroke="#000" stroke-width="0.55" >Exp.</text>
<text x="1404.3" y="62.8" font-size="20.8" stroke="#000" stroke-width="0.55" >Lin Fit.</text>
<rect x="1355.5" y="9.4" width="284.3" height="407" fill="none" stroke="#262626" stroke-width="1.8"/>
<line x1="1355.5" y1="416.4" x2="1355.5" y2="412.4" stroke="#262626" stroke-width="1.6" />
<line x1="1355.5" y1="9.4" x2="1355.5" y2="13.4" stroke="#262626" stroke-width="1.6" />
<text x="1354.9" y="442" font-size="21" text-anchor="middle" stroke="#000" stroke-width="0.55" >0</text>
<line x1="1426.58" y1="416.4" x2="1426.58" y2="412.4" stroke="#262626" stroke-width="1.6" />
<line x1="1426.58" y1="9.4" x2="1426.58" y2="13.4" stroke="#262626" stroke-width="1.6" />
<text x="1425.98" y="442" font-size="21" text-anchor="middle" stroke="#000" stroke-width="0.55" >0.<tspan font-family='NanumGothic, "Liberation Sans", sans-serif' font-size="19.53" letter-spacing="-0.16">1</tspan></text>
<line x1="1497.65" y1="416.4" x2="1497.65" y2="412.4" stroke="#262626" stroke-width="1.6" />
<line x1="1497.65" y1="9.4" x2="1497.65" y2="13.4" stroke="#262626" stroke-width="1.6" />
<text x="1497.05" y="442" font-size="21" text-anchor="middle" stroke="#000" stroke-width="0.55" >0.2</text>
<line x1="1568.72" y1="416.4" x2="1568.72" y2="412.4" stroke="#262626" stroke-width="1.6" />
<line x1="1568.72" y1="9.4" x2="1568.72" y2="13.4" stroke="#262626" stroke-width="1.6" />
<text x="1568.12" y="442" font-size="21" text-anchor="middle" stroke="#000" stroke-width="0.55" >0.3</text>
<line x1="1639.8" y1="416.4" x2="1639.8" y2="412.4" stroke="#262626" stroke-width="1.6" />
<line x1="1639.8" y1="9.4" x2="1639.8" y2="13.4" stroke="#262626" stroke-width="1.6" />
<text x="1639.2" y="442" font-size="21" text-anchor="middle" stroke="#000" stroke-width="0.55" >0.4</text>
<line x1="1355.5" y1="416.4" x2="1359.5" y2="416.4" stroke="#262626" stroke-width="1.6" />
<line x1="1639.8" y1="416.4" x2="1635.8" y2="416.4" stroke="#262626" stroke-width="1.6" />
<text x="1351" y="424.3" font-size="21" text-anchor="end" stroke="#000" stroke-width="0.55" >0</text>
<line x1="1355.5" y1="338.9" x2="1359.5" y2="338.9" stroke="#262626" stroke-width="1.6" />
<line x1="1639.8" y1="338.9" x2="1635.8" y2="338.9" stroke="#262626" stroke-width="1.6" />
<text x="1351" y="346.8" font-size="21" text-anchor="end" stroke="#000" stroke-width="0.55" >0.2</text>
<line x1="1355.5" y1="261.4" x2="1359.5" y2="261.4" stroke="#262626" stroke-width="1.6" />
<line x1="1639.8" y1="261.4" x2="1635.8" y2="261.4" stroke="#262626" stroke-width="1.6" />
<text x="1351" y="269.3" font-size="21" text-anchor="end" stroke="#000" stroke-width="0.55" >0.4</text>
<line x1="1355.5" y1="183.9" x2="1359.5" y2="183.9" stroke="#262626" stroke-width="1.6" />
<line x1="1639.8" y1="183.9" x2="1635.8" y2="183.9" stroke="#262626" stroke-width="1.6" />
<text x="1351" y="191.8" font-size="21" text-anchor="end" stroke="#000" stroke-width="0.55" >0.6</text>
<line x1="1355.5" y1="106.4" x2="1359.5" y2="106.4" stroke="#262626" stroke-width="1.6" />
<line x1="1639.8" y1="106.4" x2="1635.8" y2="106.4" stroke="#262626" stroke-width="1.6" />
<text x="1351" y="114.3" font-size="21" text-anchor="end" stroke="#000" stroke-width="0.55" >0.8</text>
<line x1="1355.5" y1="28.9" x2="1359.5" y2="28.9" stroke="#262626" stroke-width="1.6" />
<line x1="1639.8" y1="28.9" x2="1635.8" y2="28.9" stroke="#262626" stroke-width="1.6" />
<text x="1351" y="36.8" font-size="21" text-anchor="end" stroke="#000" stroke-width="0.55" ><tspan font-family='NanumGothic, "Liberation Sans", sans-serif' font-size="19.53" letter-spacing="-0.16">1</tspan></text>
<text x="0" y="0" font-size="21" text-anchor="middle" font-family='"Liberation Serif", "DejaVu Serif", serif' stroke="#000" stroke-width="0.45" transform="translate(651.6 262.2) rotate(-90)">|</text>
<text x="0" y="0" font-size="21" text-anchor="middle" font-family='"DejaVu Math TeX Gyre", "DejaVu Sans", serif' stroke="#000" stroke-width="0.45" transform="translate(651.6 250.7) rotate(-90)">ℋ</text>
<text x="0" y="0" font-size="21" text-anchor="middle" font-family='"Liberation Serif", "DejaVu Serif", serif' stroke="#000" stroke-width="0.45" transform="translate(651.6 238) rotate(-90)">(</text>
<text x="0" y="0" font-size="21" text-anchor="middle" font-family='"Liberation Serif", "DejaVu Serif", serif' font-style="italic" stroke="#000" stroke-width="0.45" transform="translate(651.6 226.2) rotate(-90)">k</text>
<text x="0" y="0" font-size="14.7" text-anchor="middle" font-family='"Liberation Serif", "DejaVu Serif", serif' font-style="italic" stroke="#000" stroke-width="0.45" transform="translate(654.75 216.6) rotate(-90)">x</text>
<text x="0" y="0" font-size="21" text-anchor="middle" font-family='"Liberation Serif", "DejaVu Serif", serif' stroke="#000" stroke-width="0.45" transform="translate(651.6 209) rotate(-90)">,</text>
<text x="0" y="0" font-size="21" text-anchor="middle" font-family='"Liberation Serif", "DejaVu Serif", serif' stroke="#000" stroke-width="0.45" transform="translate(651.6 196.6) rotate(-90)">0</text>
<text x="0" y="0" font-size="21" text-anchor="middle" font-family='"Liberation Serif", "DejaVu Serif", serif' stroke="#000" stroke-width="0.45" transform="translate(651.6 186.6) rotate(-90)">)</text>
<text x="0" y="0" font-size="21" text-anchor="middle" font-family='"Liberation Serif", "DejaVu Serif", serif' stroke="#000" stroke-width="0.45" transform="translate(651.6 179.1) rotate(-90)">|</text>
<text x="0" y="0" font-size="14.7" text-anchor="middle" font-family='"Liberation Serif", "DejaVu Serif", serif' stroke="#000" stroke-width="0.45" transform="translate(643.41 172.2) rotate(-90)">2</text>
<text x="0" y="0" font-size="22" text-anchor="middle" font-family='"Liberation Serif", "DejaVu Serif", serif' stroke="#000" stroke-width="0.45" transform="translate(1308 254.9) rotate(-90)">|</text>
<text x="0" y="0" font-size="22" text-anchor="middle" font-family='"DejaVu Math TeX Gyre", "DejaVu Sans", serif' stroke="#000" stroke-width="0.45" transform="translate(1308 243.4) rotate(-90)">ℋ</text>
<text x="0" y="0" font-size="22" text-anchor="middle" font-family='"Liberation Serif", "DejaVu Serif", serif' stroke="#000" stroke-width="0.45" transform="translate(1308 228) rotate(-90)">(</text>
<text x="0" y="0" font-size="22" text-anchor="middle" font-family='"Liberation Serif", "DejaVu Serif", serif' font-style="italic" stroke="#000" stroke-width="0.45" transform="translate(1308 219.6) rotate(-90)">k</text>
<text x="0" y="0" font-size="15.4" text-anchor="middle" font-family='"Liberation Serif", "DejaVu Serif", serif' font-style="italic" stroke="#000" stroke-width="0.45" transform="translate(1311.3 209.2) rotate(-90)">x</text>
<text x="0" y="0" font-size="22" text-anchor="middle" font-family='"Liberation Serif", "DejaVu Serif", serif' stroke="#000" stroke-width="0.45" transform="translate(1308 200.5) rotate(-90)">,</text>
<text x="0" y="0" font-size="22" text-anchor="middle" font-family='"Liberation Serif", "DejaVu Serif", serif' stroke="#000" stroke-width="0.45" transform="translate(1308 188.5) rotate(-90)">0</text>
<text x="0" y="0" font-size="22" text-anchor="middle" font-family='"Liberation Serif", "DejaVu Serif", serif' stroke="#000" stroke-width="0.45" transform="translate(1308 178.6) rotate(-90)">)</text>
<text x="0" y="0" font-size="22" text-anchor="middle" font-family='"Liberation Serif", "DejaVu Serif", serif' stroke="#000" stroke-width="0.45" transform="translate(1308 171.3) rotate(-90)">|</text>
<text x="945.5" y="469.2" font-size="27.7" text-anchor="middle" font-family='"Liberation Serif", "DejaVu Serif", serif' font-style="italic" stroke="#000" stroke-width="0.45">k</text>
<text x="956.7" y="473.2" font-size="19.39" text-anchor="middle" font-family='"Liberation Serif", "DejaVu Serif", serif' font-style="italic" stroke="#000" stroke-width="0.45">x</text>
<text x="970" y="474.8" font-size="37.67" text-anchor="middle" font-family='"Liberation Serif", "DejaVu Serif", serif' stroke="#000" stroke-width="0.2">/</text>
<text x="984.6" y="469.2" font-size="27.7" text-anchor="middle" font-family='"Liberation Serif", "DejaVu Serif", serif' font-style="italic" stroke="#000" stroke-width="0.45">k</text>
<text x="994.9" y="473.5" font-size="19.39" text-anchor="middle" font-family='"Liberation Serif", "DejaVu Serif", serif' stroke="#000" stroke-width="0.45">0</text>
<text x="1474" y="471.4" font-size="27.7" text-anchor="middle" font-family='"Liberation Serif", "DejaVu Serif", serif' font-style="italic" stroke="#000" stroke-width="0.45">k</text>
<text x="1485.4" y="475.4" font-size="19.39" text-anchor="middle" font-family='"Liberation Serif", "DejaVu Serif", serif' font-style="italic" stroke="#000" stroke-width="0.45">x</text>
<text x="1498.7" y="477" font-size="37.67" text-anchor="middle" font-family='"Liberation Serif", "DejaVu Serif", serif' stroke="#000" stroke-width="0.2">/</text>
<text x="1513" y="471.4" font-size="27.7" text-anchor="middle" font-family='"Liberation Serif", "DejaVu Serif", serif' font-style="italic" stroke="#000" stroke-width="0.45">k</text>
<text x="1523.7" y="475.7" font-size="19.39" text-anchor="middle" font-family='"Liberation Serif", "DejaVu Serif", serif' stroke="#000" stroke-width="0.45">0</text></svg>
</body></html>
